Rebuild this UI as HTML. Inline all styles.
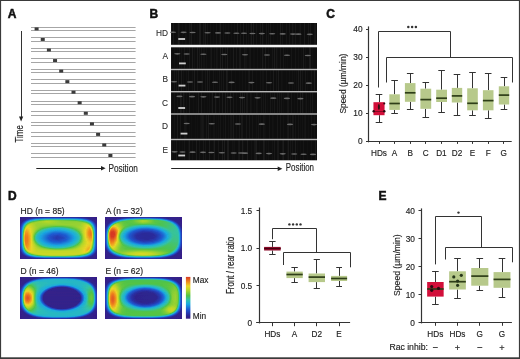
<!DOCTYPE html>
<html><head><meta charset="utf-8"><style>
html,body{margin:0;padding:0;background:#fff;}
svg{display:block;font-family:"Liberation Sans", sans-serif;will-change:transform;}
text{stroke:currentColor;stroke-width:0.15px;}
text.n{stroke:none;}
</style></head><body>
<svg width="520" height="359" viewBox="0 0 520 359">
<defs><filter id="bl" x="0" y="0" width="1" height="1"><feGaussianBlur stdDeviation="0.7"/></filter><filter id="sb" x="-0.1" y="-0.1" width="1.2" height="1.2"><feGaussianBlur stdDeviation="0.55"/></filter></defs>
<rect width="520" height="359" fill="#fff"/>
<text x="7.7" y="17.6" font-size="12" text-anchor="start" font-weight="bold" fill="#111" color="#111" style="stroke-width:0.5px">A</text>
<line x1="31" y1="27.5" x2="135.6" y2="27.5" stroke="#a6a6a6" stroke-width="1"/>
<line x1="31" y1="30.5" x2="135.6" y2="30.5" stroke="#a6a6a6" stroke-width="1"/>
<rect x="34.60" y="27.40" width="4.00" height="3.00" fill="#3a3a3a"/>
<line x1="31" y1="37.5" x2="135.6" y2="37.5" stroke="#a6a6a6" stroke-width="1"/>
<line x1="31" y1="41.5" x2="135.6" y2="41.5" stroke="#a6a6a6" stroke-width="1"/>
<rect x="40.75" y="37.95" width="4.00" height="3.00" fill="#3a3a3a"/>
<line x1="31" y1="48.5" x2="135.6" y2="48.5" stroke="#a6a6a6" stroke-width="1"/>
<line x1="31" y1="51.5" x2="135.6" y2="51.5" stroke="#a6a6a6" stroke-width="1"/>
<rect x="46.90" y="48.50" width="4.00" height="3.00" fill="#3a3a3a"/>
<line x1="31" y1="58.5" x2="135.6" y2="58.5" stroke="#a6a6a6" stroke-width="1"/>
<line x1="31" y1="62.5" x2="135.6" y2="62.5" stroke="#a6a6a6" stroke-width="1"/>
<rect x="53.05" y="59.05" width="4.00" height="3.00" fill="#3a3a3a"/>
<line x1="31" y1="69.5" x2="135.6" y2="69.5" stroke="#a6a6a6" stroke-width="1"/>
<line x1="31" y1="72.5" x2="135.6" y2="72.5" stroke="#a6a6a6" stroke-width="1"/>
<rect x="59.20" y="69.60" width="4.00" height="3.00" fill="#3a3a3a"/>
<line x1="31" y1="79.5" x2="135.6" y2="79.5" stroke="#a6a6a6" stroke-width="1"/>
<line x1="31" y1="83.5" x2="135.6" y2="83.5" stroke="#a6a6a6" stroke-width="1"/>
<rect x="65.35" y="80.15" width="4.00" height="3.00" fill="#3a3a3a"/>
<line x1="31" y1="90.5" x2="135.6" y2="90.5" stroke="#a6a6a6" stroke-width="1"/>
<line x1="31" y1="93.5" x2="135.6" y2="93.5" stroke="#a6a6a6" stroke-width="1"/>
<rect x="71.50" y="90.70" width="4.00" height="3.00" fill="#3a3a3a"/>
<line x1="31" y1="101.5" x2="135.6" y2="101.5" stroke="#a6a6a6" stroke-width="1"/>
<line x1="31" y1="104.5" x2="135.6" y2="104.5" stroke="#a6a6a6" stroke-width="1"/>
<rect x="77.65" y="101.25" width="4.00" height="3.00" fill="#3a3a3a"/>
<line x1="31" y1="111.5" x2="135.6" y2="111.5" stroke="#a6a6a6" stroke-width="1"/>
<line x1="31" y1="115.5" x2="135.6" y2="115.5" stroke="#a6a6a6" stroke-width="1"/>
<rect x="83.80" y="111.80" width="4.00" height="3.00" fill="#3a3a3a"/>
<line x1="31" y1="122.5" x2="135.6" y2="122.5" stroke="#a6a6a6" stroke-width="1"/>
<line x1="31" y1="125.5" x2="135.6" y2="125.5" stroke="#a6a6a6" stroke-width="1"/>
<rect x="89.95" y="122.35" width="4.00" height="3.00" fill="#3a3a3a"/>
<line x1="31" y1="132.5" x2="135.6" y2="132.5" stroke="#a6a6a6" stroke-width="1"/>
<line x1="31" y1="136.5" x2="135.6" y2="136.5" stroke="#a6a6a6" stroke-width="1"/>
<rect x="96.10" y="132.90" width="4.00" height="3.00" fill="#3a3a3a"/>
<line x1="31" y1="143.5" x2="135.6" y2="143.5" stroke="#a6a6a6" stroke-width="1"/>
<line x1="31" y1="146.5" x2="135.6" y2="146.5" stroke="#a6a6a6" stroke-width="1"/>
<rect x="102.25" y="143.45" width="4.00" height="3.00" fill="#3a3a3a"/>
<line x1="31" y1="153.5" x2="135.6" y2="153.5" stroke="#a6a6a6" stroke-width="1"/>
<line x1="31" y1="157.5" x2="135.6" y2="157.5" stroke="#a6a6a6" stroke-width="1"/>
<rect x="108.40" y="154.00" width="4.00" height="3.00" fill="#3a3a3a"/>
<line x1="21.5" y1="31" x2="21.5" y2="118" stroke="#333" stroke-width="1"/>
<polygon points="19.0,116.5 23.2,116.5 21.1,121.6" fill="#222"/>
<text transform="translate(23.0,133.8) rotate(-90)" x="0" y="0" font-size="10" text-anchor="middle" fill="#222" color="#222" textLength="17.3" lengthAdjust="spacingAndGlyphs">Time</text>
<line x1="36.3" y1="168.5" x2="101.5" y2="168.5" stroke="#222" stroke-width="1"/>
<polygon points="101,166.0 101,170.4 105.6,168.2" fill="#222"/>
<text x="108.5" y="171.6" font-size="10" text-anchor="start" font-weight="normal" fill="#222" color="#222" textLength="29.3" lengthAdjust="spacingAndGlyphs">Position</text>
<text x="149.4" y="17.6" font-size="12" text-anchor="start" font-weight="bold" fill="#111" color="#111" style="stroke-width:0.5px">B</text>
<rect x="171.00" y="23.00" width="146.00" height="137.30" fill="#0e0e0e"/>
<g fill="#fff">
<rect x="171" y="23" width="1" height="21.8" opacity="0.035"/>
<rect x="173" y="23" width="1" height="21.8" opacity="0.045"/>
<rect x="177" y="23" width="1" height="21.8" opacity="0.015"/>
<rect x="178" y="23" width="1" height="21.8" opacity="0.06"/>
<rect x="179" y="23" width="1" height="21.8" opacity="0.035"/>
<rect x="182" y="23" width="1" height="21.8" opacity="0.015"/>
<rect x="185" y="23" width="1" height="21.8" opacity="0.025"/>
<rect x="186" y="23" width="1" height="21.8" opacity="0.015"/>
<rect x="189" y="23" width="1" height="21.8" opacity="0.045"/>
<rect x="190" y="23" width="1" height="21.8" opacity="0.025"/>
<rect x="191" y="23" width="1" height="21.8" opacity="0.06"/>
<rect x="194" y="23" width="1" height="21.8" opacity="0.015"/>
<rect x="197" y="23" width="1" height="21.8" opacity="0.015"/>
<rect x="199" y="23" width="1" height="21.8" opacity="0.06"/>
<rect x="200" y="23" width="1" height="21.8" opacity="0.06"/>
<rect x="203" y="23" width="1" height="21.8" opacity="0.045"/>
<rect x="204" y="23" width="1" height="21.8" opacity="0.025"/>
<rect x="205" y="23" width="1" height="21.8" opacity="0.06"/>
<rect x="207" y="23" width="1" height="21.8" opacity="0.035"/>
<rect x="210" y="23" width="1" height="21.8" opacity="0.025"/>
<rect x="213" y="23" width="1" height="21.8" opacity="0.015"/>
<rect x="216" y="23" width="1" height="21.8" opacity="0.035"/>
<rect x="219" y="23" width="1" height="21.8" opacity="0.025"/>
<rect x="220" y="23" width="1" height="21.8" opacity="0.06"/>
<rect x="223" y="23" width="1" height="21.8" opacity="0.025"/>
<rect x="225" y="23" width="1" height="21.8" opacity="0.015"/>
<rect x="228" y="23" width="1" height="21.8" opacity="0.015"/>
<rect x="231" y="23" width="1" height="21.8" opacity="0.015"/>
<rect x="234" y="23" width="1" height="21.8" opacity="0.025"/>
<rect x="237" y="23" width="1" height="21.8" opacity="0.06"/>
<rect x="240" y="23" width="1" height="21.8" opacity="0.035"/>
<rect x="243" y="23" width="1" height="21.8" opacity="0.06"/>
<rect x="246" y="23" width="1" height="21.8" opacity="0.035"/>
<rect x="248" y="23" width="1" height="21.8" opacity="0.025"/>
<rect x="250" y="23" width="1" height="21.8" opacity="0.025"/>
<rect x="251" y="23" width="1" height="21.8" opacity="0.06"/>
<rect x="253" y="23" width="1" height="21.8" opacity="0.06"/>
<rect x="256" y="23" width="1" height="21.8" opacity="0.035"/>
<rect x="260" y="23" width="1" height="21.8" opacity="0.045"/>
<rect x="262" y="23" width="1" height="21.8" opacity="0.06"/>
<rect x="263" y="23" width="1" height="21.8" opacity="0.015"/>
<rect x="266" y="23" width="1" height="21.8" opacity="0.045"/>
<rect x="268" y="23" width="1" height="21.8" opacity="0.035"/>
<rect x="270" y="23" width="1" height="21.8" opacity="0.045"/>
<rect x="273" y="23" width="1" height="21.8" opacity="0.015"/>
<rect x="277" y="23" width="1" height="21.8" opacity="0.015"/>
<rect x="280" y="23" width="1" height="21.8" opacity="0.06"/>
<rect x="282" y="23" width="1" height="21.8" opacity="0.035"/>
<rect x="286" y="23" width="1" height="21.8" opacity="0.035"/>
<rect x="289" y="23" width="1" height="21.8" opacity="0.045"/>
<rect x="292" y="23" width="1" height="21.8" opacity="0.045"/>
<rect x="293" y="23" width="1" height="21.8" opacity="0.015"/>
<rect x="295" y="23" width="1" height="21.8" opacity="0.045"/>
<rect x="299" y="23" width="1" height="21.8" opacity="0.015"/>
<rect x="300" y="23" width="1" height="21.8" opacity="0.035"/>
<rect x="304" y="23" width="1" height="21.8" opacity="0.06"/>
<rect x="308" y="23" width="1" height="21.8" opacity="0.045"/>
<rect x="310" y="23" width="1" height="21.8" opacity="0.045"/>
<rect x="314" y="23" width="1" height="21.8" opacity="0.035"/>
<rect x="315" y="23" width="1" height="21.8" opacity="0.045"/>
<rect x="171" y="47.3" width="1" height="21.5" opacity="0.025"/>
<rect x="174" y="47.3" width="1" height="21.5" opacity="0.015"/>
<rect x="177" y="47.3" width="1" height="21.5" opacity="0.015"/>
<rect x="179" y="47.3" width="1" height="21.5" opacity="0.035"/>
<rect x="181" y="47.3" width="1" height="21.5" opacity="0.025"/>
<rect x="184" y="47.3" width="1" height="21.5" opacity="0.045"/>
<rect x="187" y="47.3" width="1" height="21.5" opacity="0.015"/>
<rect x="189" y="47.3" width="1" height="21.5" opacity="0.045"/>
<rect x="192" y="47.3" width="1" height="21.5" opacity="0.06"/>
<rect x="194" y="47.3" width="1" height="21.5" opacity="0.025"/>
<rect x="197" y="47.3" width="1" height="21.5" opacity="0.06"/>
<rect x="199" y="47.3" width="1" height="21.5" opacity="0.045"/>
<rect x="201" y="47.3" width="1" height="21.5" opacity="0.045"/>
<rect x="203" y="47.3" width="1" height="21.5" opacity="0.025"/>
<rect x="204" y="47.3" width="1" height="21.5" opacity="0.025"/>
<rect x="206" y="47.3" width="1" height="21.5" opacity="0.025"/>
<rect x="210" y="47.3" width="1" height="21.5" opacity="0.025"/>
<rect x="211" y="47.3" width="1" height="21.5" opacity="0.045"/>
<rect x="214" y="47.3" width="1" height="21.5" opacity="0.025"/>
<rect x="216" y="47.3" width="1" height="21.5" opacity="0.035"/>
<rect x="217" y="47.3" width="1" height="21.5" opacity="0.025"/>
<rect x="220" y="47.3" width="1" height="21.5" opacity="0.06"/>
<rect x="222" y="47.3" width="1" height="21.5" opacity="0.06"/>
<rect x="225" y="47.3" width="1" height="21.5" opacity="0.035"/>
<rect x="227" y="47.3" width="1" height="21.5" opacity="0.06"/>
<rect x="230" y="47.3" width="1" height="21.5" opacity="0.015"/>
<rect x="233" y="47.3" width="1" height="21.5" opacity="0.06"/>
<rect x="236" y="47.3" width="1" height="21.5" opacity="0.045"/>
<rect x="239" y="47.3" width="1" height="21.5" opacity="0.045"/>
<rect x="240" y="47.3" width="1" height="21.5" opacity="0.045"/>
<rect x="244" y="47.3" width="1" height="21.5" opacity="0.045"/>
<rect x="245" y="47.3" width="1" height="21.5" opacity="0.025"/>
<rect x="246" y="47.3" width="1" height="21.5" opacity="0.025"/>
<rect x="249" y="47.3" width="1" height="21.5" opacity="0.025"/>
<rect x="250" y="47.3" width="1" height="21.5" opacity="0.035"/>
<rect x="253" y="47.3" width="1" height="21.5" opacity="0.015"/>
<rect x="254" y="47.3" width="1" height="21.5" opacity="0.015"/>
<rect x="257" y="47.3" width="1" height="21.5" opacity="0.025"/>
<rect x="260" y="47.3" width="1" height="21.5" opacity="0.015"/>
<rect x="262" y="47.3" width="1" height="21.5" opacity="0.06"/>
<rect x="263" y="47.3" width="1" height="21.5" opacity="0.015"/>
<rect x="265" y="47.3" width="1" height="21.5" opacity="0.06"/>
<rect x="268" y="47.3" width="1" height="21.5" opacity="0.025"/>
<rect x="272" y="47.3" width="1" height="21.5" opacity="0.035"/>
<rect x="274" y="47.3" width="1" height="21.5" opacity="0.06"/>
<rect x="276" y="47.3" width="1" height="21.5" opacity="0.045"/>
<rect x="277" y="47.3" width="1" height="21.5" opacity="0.015"/>
<rect x="280" y="47.3" width="1" height="21.5" opacity="0.045"/>
<rect x="283" y="47.3" width="1" height="21.5" opacity="0.045"/>
<rect x="285" y="47.3" width="1" height="21.5" opacity="0.015"/>
<rect x="287" y="47.3" width="1" height="21.5" opacity="0.015"/>
<rect x="291" y="47.3" width="1" height="21.5" opacity="0.035"/>
<rect x="295" y="47.3" width="1" height="21.5" opacity="0.035"/>
<rect x="298" y="47.3" width="1" height="21.5" opacity="0.025"/>
<rect x="301" y="47.3" width="1" height="21.5" opacity="0.015"/>
<rect x="303" y="47.3" width="1" height="21.5" opacity="0.06"/>
<rect x="305" y="47.3" width="1" height="21.5" opacity="0.025"/>
<rect x="309" y="47.3" width="1" height="21.5" opacity="0.06"/>
<rect x="310" y="47.3" width="1" height="21.5" opacity="0.06"/>
<rect x="312" y="47.3" width="1" height="21.5" opacity="0.015"/>
<rect x="171" y="70.2" width="1" height="20.8" opacity="0.035"/>
<rect x="174" y="70.2" width="1" height="20.8" opacity="0.035"/>
<rect x="176" y="70.2" width="1" height="20.8" opacity="0.035"/>
<rect x="178" y="70.2" width="1" height="20.8" opacity="0.06"/>
<rect x="181" y="70.2" width="1" height="20.8" opacity="0.06"/>
<rect x="183" y="70.2" width="1" height="20.8" opacity="0.025"/>
<rect x="186" y="70.2" width="1" height="20.8" opacity="0.025"/>
<rect x="188" y="70.2" width="1" height="20.8" opacity="0.045"/>
<rect x="192" y="70.2" width="1" height="20.8" opacity="0.025"/>
<rect x="194" y="70.2" width="1" height="20.8" opacity="0.06"/>
<rect x="197" y="70.2" width="1" height="20.8" opacity="0.035"/>
<rect x="201" y="70.2" width="1" height="20.8" opacity="0.015"/>
<rect x="202" y="70.2" width="1" height="20.8" opacity="0.035"/>
<rect x="205" y="70.2" width="1" height="20.8" opacity="0.035"/>
<rect x="207" y="70.2" width="1" height="20.8" opacity="0.06"/>
<rect x="209" y="70.2" width="1" height="20.8" opacity="0.045"/>
<rect x="213" y="70.2" width="1" height="20.8" opacity="0.035"/>
<rect x="215" y="70.2" width="1" height="20.8" opacity="0.015"/>
<rect x="217" y="70.2" width="1" height="20.8" opacity="0.015"/>
<rect x="219" y="70.2" width="1" height="20.8" opacity="0.045"/>
<rect x="221" y="70.2" width="1" height="20.8" opacity="0.035"/>
<rect x="223" y="70.2" width="1" height="20.8" opacity="0.045"/>
<rect x="226" y="70.2" width="1" height="20.8" opacity="0.06"/>
<rect x="227" y="70.2" width="1" height="20.8" opacity="0.045"/>
<rect x="231" y="70.2" width="1" height="20.8" opacity="0.035"/>
<rect x="235" y="70.2" width="1" height="20.8" opacity="0.015"/>
<rect x="239" y="70.2" width="1" height="20.8" opacity="0.015"/>
<rect x="242" y="70.2" width="1" height="20.8" opacity="0.025"/>
<rect x="245" y="70.2" width="1" height="20.8" opacity="0.025"/>
<rect x="248" y="70.2" width="1" height="20.8" opacity="0.035"/>
<rect x="249" y="70.2" width="1" height="20.8" opacity="0.045"/>
<rect x="252" y="70.2" width="1" height="20.8" opacity="0.045"/>
<rect x="256" y="70.2" width="1" height="20.8" opacity="0.015"/>
<rect x="260" y="70.2" width="1" height="20.8" opacity="0.025"/>
<rect x="262" y="70.2" width="1" height="20.8" opacity="0.025"/>
<rect x="263" y="70.2" width="1" height="20.8" opacity="0.025"/>
<rect x="266" y="70.2" width="1" height="20.8" opacity="0.045"/>
<rect x="270" y="70.2" width="1" height="20.8" opacity="0.025"/>
<rect x="273" y="70.2" width="1" height="20.8" opacity="0.06"/>
<rect x="276" y="70.2" width="1" height="20.8" opacity="0.035"/>
<rect x="278" y="70.2" width="1" height="20.8" opacity="0.06"/>
<rect x="281" y="70.2" width="1" height="20.8" opacity="0.025"/>
<rect x="282" y="70.2" width="1" height="20.8" opacity="0.015"/>
<rect x="286" y="70.2" width="1" height="20.8" opacity="0.015"/>
<rect x="289" y="70.2" width="1" height="20.8" opacity="0.025"/>
<rect x="292" y="70.2" width="1" height="20.8" opacity="0.025"/>
<rect x="294" y="70.2" width="1" height="20.8" opacity="0.015"/>
<rect x="296" y="70.2" width="1" height="20.8" opacity="0.025"/>
<rect x="298" y="70.2" width="1" height="20.8" opacity="0.06"/>
<rect x="300" y="70.2" width="1" height="20.8" opacity="0.06"/>
<rect x="302" y="70.2" width="1" height="20.8" opacity="0.035"/>
<rect x="305" y="70.2" width="1" height="20.8" opacity="0.045"/>
<rect x="307" y="70.2" width="1" height="20.8" opacity="0.015"/>
<rect x="311" y="70.2" width="1" height="20.8" opacity="0.035"/>
<rect x="314" y="70.2" width="1" height="20.8" opacity="0.06"/>
<rect x="171" y="92.4" width="1" height="20.9" opacity="0.045"/>
<rect x="174" y="92.4" width="1" height="20.9" opacity="0.025"/>
<rect x="177" y="92.4" width="1" height="20.9" opacity="0.025"/>
<rect x="180" y="92.4" width="1" height="20.9" opacity="0.06"/>
<rect x="181" y="92.4" width="1" height="20.9" opacity="0.045"/>
<rect x="183" y="92.4" width="1" height="20.9" opacity="0.06"/>
<rect x="184" y="92.4" width="1" height="20.9" opacity="0.025"/>
<rect x="186" y="92.4" width="1" height="20.9" opacity="0.025"/>
<rect x="189" y="92.4" width="1" height="20.9" opacity="0.06"/>
<rect x="193" y="92.4" width="1" height="20.9" opacity="0.015"/>
<rect x="196" y="92.4" width="1" height="20.9" opacity="0.015"/>
<rect x="198" y="92.4" width="1" height="20.9" opacity="0.06"/>
<rect x="201" y="92.4" width="1" height="20.9" opacity="0.06"/>
<rect x="204" y="92.4" width="1" height="20.9" opacity="0.015"/>
<rect x="207" y="92.4" width="1" height="20.9" opacity="0.015"/>
<rect x="209" y="92.4" width="1" height="20.9" opacity="0.025"/>
<rect x="211" y="92.4" width="1" height="20.9" opacity="0.015"/>
<rect x="212" y="92.4" width="1" height="20.9" opacity="0.06"/>
<rect x="215" y="92.4" width="1" height="20.9" opacity="0.06"/>
<rect x="216" y="92.4" width="1" height="20.9" opacity="0.015"/>
<rect x="219" y="92.4" width="1" height="20.9" opacity="0.035"/>
<rect x="222" y="92.4" width="1" height="20.9" opacity="0.06"/>
<rect x="225" y="92.4" width="1" height="20.9" opacity="0.06"/>
<rect x="227" y="92.4" width="1" height="20.9" opacity="0.035"/>
<rect x="230" y="92.4" width="1" height="20.9" opacity="0.06"/>
<rect x="233" y="92.4" width="1" height="20.9" opacity="0.045"/>
<rect x="236" y="92.4" width="1" height="20.9" opacity="0.025"/>
<rect x="240" y="92.4" width="1" height="20.9" opacity="0.06"/>
<rect x="242" y="92.4" width="1" height="20.9" opacity="0.06"/>
<rect x="244" y="92.4" width="1" height="20.9" opacity="0.045"/>
<rect x="246" y="92.4" width="1" height="20.9" opacity="0.045"/>
<rect x="247" y="92.4" width="1" height="20.9" opacity="0.045"/>
<rect x="250" y="92.4" width="1" height="20.9" opacity="0.035"/>
<rect x="251" y="92.4" width="1" height="20.9" opacity="0.025"/>
<rect x="254" y="92.4" width="1" height="20.9" opacity="0.015"/>
<rect x="256" y="92.4" width="1" height="20.9" opacity="0.035"/>
<rect x="257" y="92.4" width="1" height="20.9" opacity="0.025"/>
<rect x="261" y="92.4" width="1" height="20.9" opacity="0.035"/>
<rect x="263" y="92.4" width="1" height="20.9" opacity="0.035"/>
<rect x="265" y="92.4" width="1" height="20.9" opacity="0.045"/>
<rect x="267" y="92.4" width="1" height="20.9" opacity="0.015"/>
<rect x="270" y="92.4" width="1" height="20.9" opacity="0.045"/>
<rect x="272" y="92.4" width="1" height="20.9" opacity="0.025"/>
<rect x="274" y="92.4" width="1" height="20.9" opacity="0.045"/>
<rect x="277" y="92.4" width="1" height="20.9" opacity="0.045"/>
<rect x="279" y="92.4" width="1" height="20.9" opacity="0.045"/>
<rect x="281" y="92.4" width="1" height="20.9" opacity="0.035"/>
<rect x="283" y="92.4" width="1" height="20.9" opacity="0.015"/>
<rect x="287" y="92.4" width="1" height="20.9" opacity="0.035"/>
<rect x="288" y="92.4" width="1" height="20.9" opacity="0.035"/>
<rect x="291" y="92.4" width="1" height="20.9" opacity="0.045"/>
<rect x="294" y="92.4" width="1" height="20.9" opacity="0.015"/>
<rect x="297" y="92.4" width="1" height="20.9" opacity="0.035"/>
<rect x="300" y="92.4" width="1" height="20.9" opacity="0.06"/>
<rect x="302" y="92.4" width="1" height="20.9" opacity="0.06"/>
<rect x="303" y="92.4" width="1" height="20.9" opacity="0.015"/>
<rect x="305" y="92.4" width="1" height="20.9" opacity="0.015"/>
<rect x="306" y="92.4" width="1" height="20.9" opacity="0.035"/>
<rect x="308" y="92.4" width="1" height="20.9" opacity="0.015"/>
<rect x="310" y="92.4" width="1" height="20.9" opacity="0.035"/>
<rect x="312" y="92.4" width="1" height="20.9" opacity="0.045"/>
<rect x="171" y="114.7" width="1" height="24.1" opacity="0.035"/>
<rect x="174" y="114.7" width="1" height="24.1" opacity="0.025"/>
<rect x="177" y="114.7" width="1" height="24.1" opacity="0.06"/>
<rect x="180" y="114.7" width="1" height="24.1" opacity="0.045"/>
<rect x="184" y="114.7" width="1" height="24.1" opacity="0.035"/>
<rect x="185" y="114.7" width="1" height="24.1" opacity="0.035"/>
<rect x="186" y="114.7" width="1" height="24.1" opacity="0.025"/>
<rect x="189" y="114.7" width="1" height="24.1" opacity="0.015"/>
<rect x="191" y="114.7" width="1" height="24.1" opacity="0.015"/>
<rect x="195" y="114.7" width="1" height="24.1" opacity="0.015"/>
<rect x="197" y="114.7" width="1" height="24.1" opacity="0.015"/>
<rect x="200" y="114.7" width="1" height="24.1" opacity="0.025"/>
<rect x="201" y="114.7" width="1" height="24.1" opacity="0.035"/>
<rect x="202" y="114.7" width="1" height="24.1" opacity="0.045"/>
<rect x="203" y="114.7" width="1" height="24.1" opacity="0.035"/>
<rect x="206" y="114.7" width="1" height="24.1" opacity="0.045"/>
<rect x="208" y="114.7" width="1" height="24.1" opacity="0.06"/>
<rect x="210" y="114.7" width="1" height="24.1" opacity="0.015"/>
<rect x="213" y="114.7" width="1" height="24.1" opacity="0.025"/>
<rect x="214" y="114.7" width="1" height="24.1" opacity="0.025"/>
<rect x="216" y="114.7" width="1" height="24.1" opacity="0.015"/>
<rect x="218" y="114.7" width="1" height="24.1" opacity="0.025"/>
<rect x="220" y="114.7" width="1" height="24.1" opacity="0.035"/>
<rect x="223" y="114.7" width="1" height="24.1" opacity="0.025"/>
<rect x="225" y="114.7" width="1" height="24.1" opacity="0.045"/>
<rect x="228" y="114.7" width="1" height="24.1" opacity="0.025"/>
<rect x="230" y="114.7" width="1" height="24.1" opacity="0.035"/>
<rect x="231" y="114.7" width="1" height="24.1" opacity="0.035"/>
<rect x="232" y="114.7" width="1" height="24.1" opacity="0.015"/>
<rect x="233" y="114.7" width="1" height="24.1" opacity="0.06"/>
<rect x="236" y="114.7" width="1" height="24.1" opacity="0.025"/>
<rect x="239" y="114.7" width="1" height="24.1" opacity="0.045"/>
<rect x="241" y="114.7" width="1" height="24.1" opacity="0.045"/>
<rect x="242" y="114.7" width="1" height="24.1" opacity="0.045"/>
<rect x="246" y="114.7" width="1" height="24.1" opacity="0.045"/>
<rect x="249" y="114.7" width="1" height="24.1" opacity="0.045"/>
<rect x="252" y="114.7" width="1" height="24.1" opacity="0.035"/>
<rect x="256" y="114.7" width="1" height="24.1" opacity="0.025"/>
<rect x="258" y="114.7" width="1" height="24.1" opacity="0.035"/>
<rect x="260" y="114.7" width="1" height="24.1" opacity="0.025"/>
<rect x="263" y="114.7" width="1" height="24.1" opacity="0.035"/>
<rect x="264" y="114.7" width="1" height="24.1" opacity="0.025"/>
<rect x="265" y="114.7" width="1" height="24.1" opacity="0.015"/>
<rect x="269" y="114.7" width="1" height="24.1" opacity="0.035"/>
<rect x="272" y="114.7" width="1" height="24.1" opacity="0.025"/>
<rect x="273" y="114.7" width="1" height="24.1" opacity="0.015"/>
<rect x="277" y="114.7" width="1" height="24.1" opacity="0.045"/>
<rect x="280" y="114.7" width="1" height="24.1" opacity="0.035"/>
<rect x="283" y="114.7" width="1" height="24.1" opacity="0.025"/>
<rect x="287" y="114.7" width="1" height="24.1" opacity="0.035"/>
<rect x="288" y="114.7" width="1" height="24.1" opacity="0.045"/>
<rect x="290" y="114.7" width="1" height="24.1" opacity="0.025"/>
<rect x="292" y="114.7" width="1" height="24.1" opacity="0.045"/>
<rect x="293" y="114.7" width="1" height="24.1" opacity="0.035"/>
<rect x="295" y="114.7" width="1" height="24.1" opacity="0.035"/>
<rect x="298" y="114.7" width="1" height="24.1" opacity="0.035"/>
<rect x="300" y="114.7" width="1" height="24.1" opacity="0.015"/>
<rect x="302" y="114.7" width="1" height="24.1" opacity="0.025"/>
<rect x="304" y="114.7" width="1" height="24.1" opacity="0.025"/>
<rect x="305" y="114.7" width="1" height="24.1" opacity="0.035"/>
<rect x="308" y="114.7" width="1" height="24.1" opacity="0.015"/>
<rect x="311" y="114.7" width="1" height="24.1" opacity="0.035"/>
<rect x="314" y="114.7" width="1" height="24.1" opacity="0.025"/>
<rect x="171" y="140.2" width="1" height="20.1" opacity="0.06"/>
<rect x="172" y="140.2" width="1" height="20.1" opacity="0.015"/>
<rect x="174" y="140.2" width="1" height="20.1" opacity="0.015"/>
<rect x="176" y="140.2" width="1" height="20.1" opacity="0.045"/>
<rect x="179" y="140.2" width="1" height="20.1" opacity="0.015"/>
<rect x="182" y="140.2" width="1" height="20.1" opacity="0.015"/>
<rect x="184" y="140.2" width="1" height="20.1" opacity="0.035"/>
<rect x="188" y="140.2" width="1" height="20.1" opacity="0.025"/>
<rect x="189" y="140.2" width="1" height="20.1" opacity="0.06"/>
<rect x="192" y="140.2" width="1" height="20.1" opacity="0.025"/>
<rect x="196" y="140.2" width="1" height="20.1" opacity="0.06"/>
<rect x="199" y="140.2" width="1" height="20.1" opacity="0.035"/>
<rect x="203" y="140.2" width="1" height="20.1" opacity="0.045"/>
<rect x="205" y="140.2" width="1" height="20.1" opacity="0.035"/>
<rect x="209" y="140.2" width="1" height="20.1" opacity="0.06"/>
<rect x="213" y="140.2" width="1" height="20.1" opacity="0.025"/>
<rect x="214" y="140.2" width="1" height="20.1" opacity="0.06"/>
<rect x="218" y="140.2" width="1" height="20.1" opacity="0.045"/>
<rect x="222" y="140.2" width="1" height="20.1" opacity="0.06"/>
<rect x="224" y="140.2" width="1" height="20.1" opacity="0.06"/>
<rect x="227" y="140.2" width="1" height="20.1" opacity="0.06"/>
<rect x="228" y="140.2" width="1" height="20.1" opacity="0.06"/>
<rect x="232" y="140.2" width="1" height="20.1" opacity="0.025"/>
<rect x="233" y="140.2" width="1" height="20.1" opacity="0.015"/>
<rect x="234" y="140.2" width="1" height="20.1" opacity="0.025"/>
<rect x="238" y="140.2" width="1" height="20.1" opacity="0.035"/>
<rect x="239" y="140.2" width="1" height="20.1" opacity="0.045"/>
<rect x="242" y="140.2" width="1" height="20.1" opacity="0.06"/>
<rect x="243" y="140.2" width="1" height="20.1" opacity="0.015"/>
<rect x="247" y="140.2" width="1" height="20.1" opacity="0.06"/>
<rect x="251" y="140.2" width="1" height="20.1" opacity="0.025"/>
<rect x="254" y="140.2" width="1" height="20.1" opacity="0.035"/>
<rect x="255" y="140.2" width="1" height="20.1" opacity="0.045"/>
<rect x="256" y="140.2" width="1" height="20.1" opacity="0.06"/>
<rect x="259" y="140.2" width="1" height="20.1" opacity="0.015"/>
<rect x="263" y="140.2" width="1" height="20.1" opacity="0.06"/>
<rect x="264" y="140.2" width="1" height="20.1" opacity="0.045"/>
<rect x="266" y="140.2" width="1" height="20.1" opacity="0.015"/>
<rect x="268" y="140.2" width="1" height="20.1" opacity="0.025"/>
<rect x="272" y="140.2" width="1" height="20.1" opacity="0.025"/>
<rect x="274" y="140.2" width="1" height="20.1" opacity="0.045"/>
<rect x="277" y="140.2" width="1" height="20.1" opacity="0.045"/>
<rect x="278" y="140.2" width="1" height="20.1" opacity="0.045"/>
<rect x="282" y="140.2" width="1" height="20.1" opacity="0.035"/>
<rect x="283" y="140.2" width="1" height="20.1" opacity="0.06"/>
<rect x="287" y="140.2" width="1" height="20.1" opacity="0.025"/>
<rect x="288" y="140.2" width="1" height="20.1" opacity="0.06"/>
<rect x="290" y="140.2" width="1" height="20.1" opacity="0.035"/>
<rect x="292" y="140.2" width="1" height="20.1" opacity="0.035"/>
<rect x="295" y="140.2" width="1" height="20.1" opacity="0.06"/>
<rect x="297" y="140.2" width="1" height="20.1" opacity="0.015"/>
<rect x="300" y="140.2" width="1" height="20.1" opacity="0.015"/>
<rect x="303" y="140.2" width="1" height="20.1" opacity="0.035"/>
<rect x="307" y="140.2" width="1" height="20.1" opacity="0.015"/>
<rect x="311" y="140.2" width="1" height="20.1" opacity="0.025"/>
<rect x="315" y="140.2" width="1" height="20.1" opacity="0.045"/>
</g>
<rect x="171.00" y="44.80" width="146.00" height="2.50" fill="#f4f4f4"/>
<rect x="171.00" y="68.80" width="146.00" height="1.40" fill="#b8b8b8"/>
<rect x="171.00" y="91.00" width="146.00" height="1.40" fill="#b8b8b8"/>
<rect x="171.00" y="113.30" width="146.00" height="1.40" fill="#b8b8b8"/>
<rect x="171.00" y="138.80" width="146.00" height="1.40" fill="#b8b8b8"/>
<text x="168.1" y="35.6" font-size="8.3" text-anchor="end" font-weight="normal" fill="#2a2a2a" color="#2a2a2a" style="stroke-width:0.1px">HD</text>
<text x="168.1" y="58.7" font-size="8.3" text-anchor="end" font-weight="normal" fill="#2a2a2a" color="#2a2a2a" style="stroke-width:0.1px">A</text>
<text x="168.1" y="82.2" font-size="8.3" text-anchor="end" font-weight="normal" fill="#2a2a2a" color="#2a2a2a" style="stroke-width:0.1px">B</text>
<text x="168.1" y="106.1" font-size="8.3" text-anchor="end" font-weight="normal" fill="#2a2a2a" color="#2a2a2a" style="stroke-width:0.1px">C</text>
<text x="168.1" y="129.1" font-size="8.3" text-anchor="end" font-weight="normal" fill="#2a2a2a" color="#2a2a2a" style="stroke-width:0.1px">D</text>
<text x="168.1" y="152.9" font-size="8.3" text-anchor="end" font-weight="normal" fill="#2a2a2a" color="#2a2a2a" style="stroke-width:0.1px">E</text>
<g filter="url(#sb)">
<rect x="178.30" y="38.10" width="6.80" height="1.80" fill="#cfcfcf"/>
<rect x="179.00" y="62.50" width="6.80" height="1.80" fill="#cfcfcf"/>
<rect x="178.60" y="84.70" width="6.80" height="1.80" fill="#cfcfcf"/>
<rect x="178.30" y="107.10" width="6.80" height="1.80" fill="#cfcfcf"/>
<rect x="180.60" y="132.70" width="6.80" height="1.80" fill="#cfcfcf"/>
<rect x="178.30" y="154.60" width="6.80" height="1.80" fill="#cfcfcf"/>
</g>
<g filter="url(#sb)">
<ellipse cx="173" cy="32.20" rx="3.2" ry="0.8" fill="#6a6a6a"/>
<ellipse cx="183.6" cy="32.37" rx="3.2" ry="0.8" fill="#6a6a6a"/>
<ellipse cx="192.6" cy="32.51" rx="3.2" ry="0.8" fill="#6a6a6a"/>
<ellipse cx="207.6" cy="32.74" rx="3.2" ry="0.8" fill="#6a6a6a"/>
<ellipse cx="218" cy="32.91" rx="3.2" ry="0.8" fill="#6a6a6a"/>
<ellipse cx="227.4" cy="33.05" rx="3.2" ry="0.8" fill="#6a6a6a"/>
<ellipse cx="236.4" cy="33.20" rx="3.2" ry="0.8" fill="#6a6a6a"/>
<ellipse cx="244" cy="33.32" rx="3.2" ry="0.8" fill="#6a6a6a"/>
<ellipse cx="252.4" cy="33.45" rx="3.2" ry="0.8" fill="#6a6a6a"/>
<ellipse cx="261.8" cy="33.60" rx="3.2" ry="0.8" fill="#6a6a6a"/>
<ellipse cx="272.2" cy="33.76" rx="3.2" ry="0.8" fill="#6a6a6a"/>
<ellipse cx="282.7" cy="33.92" rx="3.2" ry="0.8" fill="#6a6a6a"/>
<ellipse cx="293" cy="34.09" rx="3.2" ry="0.8" fill="#6a6a6a"/>
<ellipse cx="298.4" cy="34.17" rx="3.2" ry="0.8" fill="#6a6a6a"/>
<ellipse cx="309.8" cy="34.35" rx="3.2" ry="0.8" fill="#6a6a6a"/>
<ellipse cx="177.3" cy="53.86" rx="3.2" ry="0.8" fill="#6a6a6a"/>
<ellipse cx="186.7" cy="53.98" rx="3.2" ry="0.8" fill="#6a6a6a"/>
<ellipse cx="203.4" cy="54.19" rx="3.2" ry="0.8" fill="#6a6a6a"/>
<ellipse cx="224.3" cy="54.46" rx="3.2" ry="0.8" fill="#6a6a6a"/>
<ellipse cx="245" cy="54.73" rx="3.2" ry="0.8" fill="#6a6a6a"/>
<ellipse cx="267" cy="55.01" rx="3.2" ry="0.8" fill="#6a6a6a"/>
<ellipse cx="287" cy="55.27" rx="3.2" ry="0.8" fill="#6a6a6a"/>
<ellipse cx="307.8" cy="55.53" rx="3.2" ry="0.8" fill="#6a6a6a"/>
<ellipse cx="174" cy="81.81" rx="3.2" ry="0.8" fill="#6a6a6a"/>
<ellipse cx="190" cy="81.97" rx="3.2" ry="0.8" fill="#6a6a6a"/>
<ellipse cx="200" cy="82.07" rx="3.2" ry="0.8" fill="#6a6a6a"/>
<ellipse cx="215" cy="82.22" rx="3.2" ry="0.8" fill="#6a6a6a"/>
<ellipse cx="231.6" cy="82.39" rx="3.2" ry="0.8" fill="#6a6a6a"/>
<ellipse cx="251.4" cy="82.58" rx="3.2" ry="0.8" fill="#6a6a6a"/>
<ellipse cx="269" cy="82.76" rx="3.2" ry="0.8" fill="#6a6a6a"/>
<ellipse cx="291" cy="82.98" rx="3.2" ry="0.8" fill="#6a6a6a"/>
<ellipse cx="308.8" cy="83.16" rx="3.2" ry="0.8" fill="#6a6a6a"/>
<ellipse cx="179.4" cy="96.42" rx="3.2" ry="0.8" fill="#6a6a6a"/>
<ellipse cx="192" cy="96.65" rx="3.2" ry="0.8" fill="#6a6a6a"/>
<ellipse cx="203.4" cy="96.86" rx="3.2" ry="0.8" fill="#6a6a6a"/>
<ellipse cx="217" cy="97.12" rx="3.2" ry="0.8" fill="#6a6a6a"/>
<ellipse cx="229.5" cy="97.35" rx="3.2" ry="0.8" fill="#6a6a6a"/>
<ellipse cx="242" cy="97.58" rx="3.2" ry="0.8" fill="#6a6a6a"/>
<ellipse cx="257.6" cy="97.87" rx="3.2" ry="0.8" fill="#6a6a6a"/>
<ellipse cx="273.3" cy="98.16" rx="3.2" ry="0.8" fill="#6a6a6a"/>
<ellipse cx="286.9" cy="98.42" rx="3.2" ry="0.8" fill="#6a6a6a"/>
<ellipse cx="300.4" cy="98.67" rx="3.2" ry="0.8" fill="#6a6a6a"/>
<ellipse cx="186.7" cy="123.52" rx="3.2" ry="0.8" fill="#6a6a6a"/>
<ellipse cx="211.8" cy="123.73" rx="3.2" ry="0.8" fill="#6a6a6a"/>
<ellipse cx="237.9" cy="123.96" rx="3.2" ry="0.8" fill="#6a6a6a"/>
<ellipse cx="261.8" cy="124.16" rx="3.2" ry="0.8" fill="#6a6a6a"/>
<ellipse cx="290" cy="124.40" rx="3.2" ry="0.8" fill="#6a6a6a"/>
<ellipse cx="314" cy="124.61" rx="3.2" ry="0.8" fill="#6a6a6a"/>
<ellipse cx="174.6" cy="151.83" rx="3.2" ry="0.8" fill="#6a6a6a"/>
<ellipse cx="182.5" cy="151.98" rx="3.2" ry="0.8" fill="#6a6a6a"/>
<ellipse cx="192.6" cy="152.16" rx="3.2" ry="0.8" fill="#6a6a6a"/>
<ellipse cx="203" cy="152.36" rx="3.2" ry="0.8" fill="#6a6a6a"/>
<ellipse cx="211.4" cy="152.51" rx="3.2" ry="0.8" fill="#6a6a6a"/>
<ellipse cx="221.8" cy="152.71" rx="3.2" ry="0.8" fill="#6a6a6a"/>
<ellipse cx="233.7" cy="152.93" rx="3.2" ry="0.8" fill="#6a6a6a"/>
<ellipse cx="241" cy="153.06" rx="3.2" ry="0.8" fill="#6a6a6a"/>
<ellipse cx="245" cy="153.14" rx="3.2" ry="0.8" fill="#6a6a6a"/>
<ellipse cx="258.7" cy="153.39" rx="3.2" ry="0.8" fill="#6a6a6a"/>
<ellipse cx="269" cy="153.58" rx="3.2" ry="0.8" fill="#6a6a6a"/>
<ellipse cx="282.7" cy="153.84" rx="3.2" ry="0.8" fill="#6a6a6a"/>
<ellipse cx="294.2" cy="154.05" rx="3.2" ry="0.8" fill="#6a6a6a"/>
<ellipse cx="303.6" cy="154.23" rx="3.2" ry="0.8" fill="#6a6a6a"/>
<ellipse cx="313" cy="154.40" rx="3.2" ry="0.8" fill="#6a6a6a"/>
</g>
<line x1="171.2" y1="168.5" x2="278" y2="168.5" stroke="#222" stroke-width="1"/>
<polygon points="277.7,166.5 277.7,170.9 282.4,168.7" fill="#222"/>
<text x="285.8" y="171.0" font-size="10" text-anchor="start" font-weight="normal" fill="#222" color="#222" textLength="28.2" lengthAdjust="spacingAndGlyphs">Position</text>
<text x="326.2" y="17.6" font-size="12" text-anchor="start" font-weight="bold" fill="#111" color="#111" style="stroke-width:0.5px">C</text>
<line x1="368.5" y1="26.4" x2="368.5" y2="142.3" stroke="#333" stroke-width="1.2"/>
<line x1="366.3" y1="141.5" x2="511.7" y2="141.5" stroke="#333" stroke-width="1.2"/>
<line x1="366.0" y1="141.5" x2="368.9" y2="141.5" stroke="#333" stroke-width="1"/>
<text x="362.6" y="143.8" font-size="8.3" text-anchor="end" font-weight="normal" fill="#222" color="#222">0</text>
<line x1="366.0" y1="113.5" x2="368.9" y2="113.5" stroke="#333" stroke-width="1"/>
<text x="362.6" y="115.8" font-size="8.3" text-anchor="end" font-weight="normal" fill="#222" color="#222">10</text>
<line x1="366.0" y1="85.5" x2="368.9" y2="85.5" stroke="#333" stroke-width="1"/>
<text x="362.6" y="87.8" font-size="8.3" text-anchor="end" font-weight="normal" fill="#222" color="#222">20</text>
<line x1="366.0" y1="57.5" x2="368.9" y2="57.5" stroke="#333" stroke-width="1"/>
<text x="362.6" y="59.8" font-size="8.3" text-anchor="end" font-weight="normal" fill="#222" color="#222">30</text>
<line x1="366.0" y1="29.5" x2="368.9" y2="29.5" stroke="#333" stroke-width="1"/>
<text x="362.6" y="31.8" font-size="8.3" text-anchor="end" font-weight="normal" fill="#222" color="#222">40</text>
<line x1="379.5" y1="141.7" x2="379.5" y2="143.9" stroke="#333" stroke-width="1"/>
<line x1="394.5" y1="141.7" x2="394.5" y2="143.9" stroke="#333" stroke-width="1"/>
<line x1="410.5" y1="141.7" x2="410.5" y2="143.9" stroke="#333" stroke-width="1"/>
<line x1="425.5" y1="141.7" x2="425.5" y2="143.9" stroke="#333" stroke-width="1"/>
<line x1="441.5" y1="141.7" x2="441.5" y2="143.9" stroke="#333" stroke-width="1"/>
<line x1="457.5" y1="141.7" x2="457.5" y2="143.9" stroke="#333" stroke-width="1"/>
<line x1="472.5" y1="141.7" x2="472.5" y2="143.9" stroke="#333" stroke-width="1"/>
<line x1="488.5" y1="141.7" x2="488.5" y2="143.9" stroke="#333" stroke-width="1"/>
<line x1="503.5" y1="141.7" x2="503.5" y2="143.9" stroke="#333" stroke-width="1"/>
<text x="379" y="155.9" font-size="8.2" text-anchor="middle" font-weight="normal" fill="#222" color="#222">HDs</text>
<text x="394.6" y="155.9" font-size="8.2" text-anchor="middle" font-weight="normal" fill="#222" color="#222">A</text>
<text x="410.2" y="155.9" font-size="8.2" text-anchor="middle" font-weight="normal" fill="#222" color="#222">B</text>
<text x="425.8" y="155.9" font-size="8.2" text-anchor="middle" font-weight="normal" fill="#222" color="#222">C</text>
<text x="441.4" y="155.9" font-size="8.2" text-anchor="middle" font-weight="normal" fill="#222" color="#222">D1</text>
<text x="457" y="155.9" font-size="8.2" text-anchor="middle" font-weight="normal" fill="#222" color="#222">D2</text>
<text x="472.6" y="155.9" font-size="8.2" text-anchor="middle" font-weight="normal" fill="#222" color="#222">E</text>
<text x="488.2" y="155.9" font-size="8.2" text-anchor="middle" font-weight="normal" fill="#222" color="#222">F</text>
<text x="503.8" y="155.9" font-size="8.2" text-anchor="middle" font-weight="normal" fill="#222" color="#222">G</text>
<line x1="379.5" y1="94.5" x2="379.5" y2="102.2" stroke="#333" stroke-width="1"/>
<line x1="379.5" y1="115.2" x2="379.5" y2="122.3" stroke="#333" stroke-width="1"/>
<line x1="375.7" y1="94.5" x2="382.3" y2="94.5" stroke="#333" stroke-width="1"/>
<line x1="375.7" y1="122.5" x2="382.3" y2="122.5" stroke="#333" stroke-width="1"/>
<rect x="373.45" y="102.20" width="11.10" height="13.00" fill="#d20f3a"/>
<line x1="373.45" y1="111.5" x2="384.55" y2="111.5" stroke="#8a0a22" stroke-width="1.0"/>
<line x1="394.5" y1="80.6" x2="394.5" y2="94.3" stroke="#333" stroke-width="1"/>
<line x1="394.5" y1="109.9" x2="394.5" y2="113.9" stroke="#333" stroke-width="1"/>
<line x1="391.3" y1="80.5" x2="397.90000000000003" y2="80.5" stroke="#333" stroke-width="1"/>
<line x1="391.3" y1="113.5" x2="397.90000000000003" y2="113.5" stroke="#333" stroke-width="1"/>
<rect x="389.35" y="94.30" width="10.50" height="15.60" fill="#b7c98b"/>
<line x1="389.35" y1="103.5" x2="399.85" y2="103.5" stroke="#2e3e18" stroke-width="1.7"/>
<line x1="410.5" y1="73.4" x2="410.5" y2="83.1" stroke="#333" stroke-width="1"/>
<line x1="410.5" y1="101.8" x2="410.5" y2="109.2" stroke="#333" stroke-width="1"/>
<line x1="406.9" y1="73.5" x2="413.5" y2="73.5" stroke="#333" stroke-width="1"/>
<line x1="406.9" y1="109.5" x2="413.5" y2="109.5" stroke="#333" stroke-width="1"/>
<rect x="404.90" y="83.10" width="10.60" height="18.70" fill="#b7c98b"/>
<line x1="404.9" y1="92.8" x2="415.5" y2="92.8" stroke="#2e3e18" stroke-width="1.7"/>
<line x1="425.5" y1="82.0" x2="425.5" y2="88.7" stroke="#333" stroke-width="1"/>
<line x1="425.5" y1="108.8" x2="425.5" y2="117.6" stroke="#333" stroke-width="1"/>
<line x1="422.5" y1="82.5" x2="429.1" y2="82.5" stroke="#333" stroke-width="1"/>
<line x1="422.5" y1="117.5" x2="429.1" y2="117.5" stroke="#333" stroke-width="1"/>
<rect x="420.40" y="88.70" width="10.80" height="20.10" fill="#b7c98b"/>
<line x1="420.40000000000003" y1="99.6" x2="431.2" y2="99.6" stroke="#2e3e18" stroke-width="1.7"/>
<line x1="441.5" y1="70.3" x2="441.5" y2="89.7" stroke="#333" stroke-width="1"/>
<line x1="441.5" y1="102.0" x2="441.5" y2="112.3" stroke="#333" stroke-width="1"/>
<line x1="438.3" y1="70.5" x2="444.90000000000003" y2="70.5" stroke="#333" stroke-width="1"/>
<line x1="438.3" y1="112.5" x2="444.90000000000003" y2="112.5" stroke="#333" stroke-width="1"/>
<rect x="436.20" y="89.70" width="10.80" height="12.30" fill="#b7c98b"/>
<line x1="436.20000000000005" y1="98.2" x2="447.0" y2="98.2" stroke="#2e3e18" stroke-width="1.7"/>
<line x1="457.5" y1="74.6" x2="457.5" y2="87.9" stroke="#333" stroke-width="1"/>
<line x1="457.5" y1="102.5" x2="457.5" y2="115.0" stroke="#333" stroke-width="1"/>
<line x1="453.7" y1="74.5" x2="460.3" y2="74.5" stroke="#333" stroke-width="1"/>
<line x1="453.7" y1="115.5" x2="460.3" y2="115.5" stroke="#333" stroke-width="1"/>
<rect x="451.80" y="87.90" width="10.40" height="14.60" fill="#b7c98b"/>
<line x1="451.8" y1="95.9" x2="462.2" y2="95.9" stroke="#2e3e18" stroke-width="1.7"/>
<line x1="472.5" y1="72.7" x2="472.5" y2="88.3" stroke="#333" stroke-width="1"/>
<line x1="472.5" y1="110.3" x2="472.5" y2="115.2" stroke="#333" stroke-width="1"/>
<line x1="469.2" y1="72.5" x2="475.8" y2="72.5" stroke="#333" stroke-width="1"/>
<line x1="469.2" y1="115.5" x2="475.8" y2="115.5" stroke="#333" stroke-width="1"/>
<rect x="467.20" y="88.30" width="10.60" height="22.00" fill="#b7c98b"/>
<line x1="467.2" y1="103.3" x2="477.8" y2="103.3" stroke="#2e3e18" stroke-width="1.7"/>
<line x1="488.5" y1="73.7" x2="488.5" y2="90.2" stroke="#333" stroke-width="1"/>
<line x1="488.5" y1="110.3" x2="488.5" y2="118.9" stroke="#333" stroke-width="1"/>
<line x1="484.9" y1="73.5" x2="491.5" y2="73.5" stroke="#333" stroke-width="1"/>
<line x1="484.9" y1="118.5" x2="491.5" y2="118.5" stroke="#333" stroke-width="1"/>
<rect x="482.90" y="90.20" width="10.60" height="20.10" fill="#b7c98b"/>
<line x1="482.9" y1="100.6" x2="493.5" y2="100.6" stroke="#2e3e18" stroke-width="1.7"/>
<line x1="504.5" y1="77.6" x2="504.5" y2="86.3" stroke="#333" stroke-width="1"/>
<line x1="504.5" y1="104.5" x2="504.5" y2="109.8" stroke="#333" stroke-width="1"/>
<line x1="500.7" y1="77.5" x2="507.3" y2="77.5" stroke="#333" stroke-width="1"/>
<line x1="500.7" y1="109.5" x2="507.3" y2="109.5" stroke="#333" stroke-width="1"/>
<rect x="498.80" y="86.30" width="10.40" height="18.20" fill="#b7c98b"/>
<line x1="498.8" y1="95.1" x2="509.2" y2="95.1" stroke="#2e3e18" stroke-width="1.7"/>
<ellipse cx="378.9" cy="107" rx="1.0" ry="3.0" fill="#2a1410"/>
<circle cx="373.7" cy="111.3" r="1.2" fill="#2a0a10"/>
<circle cx="384.3" cy="111.3" r="1.2" fill="#2a0a10"/>
<circle cx="384.3" cy="103.5" r="1.0" fill="#2a0a10"/>
<polyline points="378.5,87.5 378.5,31.5 450.5,31.5 450.5,57.5" fill="none" stroke="#333" stroke-width="1"/>
<polyline points="386.5,82.5 386.5,57.5 512.5,57.5 512.5,82.5" fill="none" stroke="#333" stroke-width="1"/>
<circle cx="408.3" cy="26.9" r="1.25" fill="#333"/>
<circle cx="412.1" cy="26.9" r="1.25" fill="#333"/>
<circle cx="415.9" cy="26.9" r="1.25" fill="#333"/>
<text transform="translate(346.2,83.6) rotate(-90)" x="0" y="0" font-size="9.5" text-anchor="middle" fill="#222" color="#222" textLength="60.0" lengthAdjust="spacingAndGlyphs">Speed (µm/min)</text>
<text x="8.0" y="200.3" font-size="12" text-anchor="start" font-weight="bold" fill="#111" color="#111" style="stroke-width:0.5px">D</text>
<text x="20.5" y="213.5" font-size="8.5" text-anchor="start" font-weight="normal" fill="#222" color="#222" textLength="44.2" lengthAdjust="spacingAndGlyphs">HD (n = 85)</text>
<text x="105.8" y="213.5" font-size="8.5" text-anchor="start" font-weight="normal" fill="#222" color="#222">A (n = 32)</text>
<text x="20.5" y="274.1" font-size="8.5" text-anchor="start" font-weight="normal" fill="#222" color="#222">D (n = 46)</text>
<text x="105.5" y="274.1" font-size="8.5" text-anchor="start" font-weight="normal" fill="#222" color="#222">E (n = 62)</text>
<defs><linearGradient id="ha0"><stop offset="0.006" stop-color="#361f88"/><stop offset="0.214" stop-color="#2d2792"/><stop offset="0.383" stop-color="#2931a7"/><stop offset="0.721" stop-color="#2a2ea0"/><stop offset="0.864" stop-color="#33218a"/><stop offset="0.994" stop-color="#361f88"/></linearGradient><linearGradient id="ha1"><stop offset="0.006" stop-color="#361f88"/><stop offset="0.123" stop-color="#2d2793"/><stop offset="0.214" stop-color="#2054cc"/><stop offset="0.318" stop-color="#1c78d8"/><stop offset="0.643" stop-color="#1c7cd8"/><stop offset="0.747" stop-color="#1d65d4"/><stop offset="0.812" stop-color="#2347bf"/><stop offset="0.890" stop-color="#2f248c"/><stop offset="0.994" stop-color="#361f88"/></linearGradient><linearGradient id="ha2"><stop offset="0.006" stop-color="#361f88"/><stop offset="0.071" stop-color="#2f238c"/><stop offset="0.110" stop-color="#263bb3"/><stop offset="0.149" stop-color="#1d69d5"/><stop offset="0.201" stop-color="#19a4e0"/><stop offset="0.331" stop-color="#33c3a8"/><stop offset="0.409" stop-color="#37c399"/><stop offset="0.708" stop-color="#2abbbd"/><stop offset="0.799" stop-color="#19a3e0"/><stop offset="0.864" stop-color="#1f57cf"/><stop offset="0.916" stop-color="#2c2895"/><stop offset="0.955" stop-color="#342089"/><stop offset="0.994" stop-color="#361f88"/></linearGradient><linearGradient id="ha3"><stop offset="0.006" stop-color="#351f88"/><stop offset="0.045" stop-color="#30238b"/><stop offset="0.071" stop-color="#2833a9"/><stop offset="0.097" stop-color="#1f57cf"/><stop offset="0.136" stop-color="#19a5e0"/><stop offset="0.188" stop-color="#32c3a9"/><stop offset="0.253" stop-color="#4ec34d"/><stop offset="0.344" stop-color="#8dcf34"/><stop offset="0.409" stop-color="#91d033"/><stop offset="0.682" stop-color="#5bc543"/><stop offset="0.721" stop-color="#4dc34f"/><stop offset="0.786" stop-color="#3bc38d"/><stop offset="0.838" stop-color="#25b6c6"/><stop offset="0.864" stop-color="#19a4e0"/><stop offset="0.903" stop-color="#1f57cf"/><stop offset="0.942" stop-color="#2c2995"/><stop offset="0.981" stop-color="#342089"/><stop offset="0.994" stop-color="#351f88"/></linearGradient><linearGradient id="ha4"><stop offset="0.006" stop-color="#342089"/><stop offset="0.032" stop-color="#2e248c"/><stop offset="0.058" stop-color="#263db5"/><stop offset="0.084" stop-color="#1c74d7"/><stop offset="0.097" stop-color="#1a97de"/><stop offset="0.110" stop-color="#1eafd6"/><stop offset="0.136" stop-color="#33c3a5"/><stop offset="0.175" stop-color="#4ec34c"/><stop offset="0.253" stop-color="#97d131"/><stop offset="0.344" stop-color="#b7d728"/><stop offset="0.422" stop-color="#a8d52c"/><stop offset="0.539" stop-color="#8dcf34"/><stop offset="0.734" stop-color="#87ce36"/><stop offset="0.799" stop-color="#60c641"/><stop offset="0.812" stop-color="#53c445"/><stop offset="0.851" stop-color="#3cc389"/><stop offset="0.877" stop-color="#29babf"/><stop offset="0.890" stop-color="#1eafd7"/><stop offset="0.903" stop-color="#1a97dd"/><stop offset="0.929" stop-color="#2053cb"/><stop offset="0.955" stop-color="#2b2d9e"/><stop offset="0.968" stop-color="#2e248c"/><stop offset="0.994" stop-color="#342089"/></linearGradient><linearGradient id="ha5"><stop offset="0.006" stop-color="#33218a"/><stop offset="0.019" stop-color="#2f248c"/><stop offset="0.045" stop-color="#2541b9"/><stop offset="0.058" stop-color="#1e5ad2"/><stop offset="0.084" stop-color="#1bacdd"/><stop offset="0.110" stop-color="#39c393"/><stop offset="0.123" stop-color="#48c362"/><stop offset="0.136" stop-color="#5ac543"/><stop offset="0.162" stop-color="#84cd36"/><stop offset="0.201" stop-color="#99d230"/><stop offset="0.370" stop-color="#b0d629"/><stop offset="0.539" stop-color="#90d033"/><stop offset="0.812" stop-color="#93d032"/><stop offset="0.851" stop-color="#6ec93d"/><stop offset="0.864" stop-color="#56c444"/><stop offset="0.877" stop-color="#47c366"/><stop offset="0.903" stop-color="#2abbbd"/><stop offset="0.916" stop-color="#1aabde"/><stop offset="0.942" stop-color="#1e5ad2"/><stop offset="0.968" stop-color="#2a2d9f"/><stop offset="0.981" stop-color="#2f248c"/><stop offset="0.994" stop-color="#33218a"/></linearGradient><linearGradient id="ha6"><stop offset="0.006" stop-color="#30238b"/><stop offset="0.019" stop-color="#2c2a99"/><stop offset="0.045" stop-color="#1f58d0"/><stop offset="0.058" stop-color="#1b87da"/><stop offset="0.071" stop-color="#1eafd6"/><stop offset="0.084" stop-color="#31c2ad"/><stop offset="0.097" stop-color="#45c36b"/><stop offset="0.110" stop-color="#62c741"/><stop offset="0.136" stop-color="#a0d32e"/><stop offset="0.149" stop-color="#add62a"/><stop offset="0.240" stop-color="#99d230"/><stop offset="0.383" stop-color="#a4d42d"/><stop offset="0.591" stop-color="#91d033"/><stop offset="0.786" stop-color="#98d130"/><stop offset="0.838" stop-color="#b2d728"/><stop offset="0.864" stop-color="#a1d32e"/><stop offset="0.890" stop-color="#62c741"/><stop offset="0.903" stop-color="#45c36c"/><stop offset="0.916" stop-color="#30c1ae"/><stop offset="0.929" stop-color="#1eafd6"/><stop offset="0.942" stop-color="#1b87da"/><stop offset="0.955" stop-color="#1f58d0"/><stop offset="0.981" stop-color="#2c2a99"/><stop offset="0.994" stop-color="#30238b"/></linearGradient><linearGradient id="ha7"><stop offset="0.006" stop-color="#2e258e"/><stop offset="0.019" stop-color="#2933a9"/><stop offset="0.032" stop-color="#214ec6"/><stop offset="0.045" stop-color="#1c79d8"/><stop offset="0.058" stop-color="#1bacdc"/><stop offset="0.071" stop-color="#31c2ac"/><stop offset="0.084" stop-color="#4ac35a"/><stop offset="0.097" stop-color="#7acb39"/><stop offset="0.110" stop-color="#a7d42c"/><stop offset="0.123" stop-color="#bed728"/><stop offset="0.149" stop-color="#bbd728"/><stop offset="0.214" stop-color="#9bd230"/><stop offset="0.448" stop-color="#95d131"/><stop offset="0.773" stop-color="#98d130"/><stop offset="0.838" stop-color="#bbd728"/><stop offset="0.864" stop-color="#ccd728"/><stop offset="0.877" stop-color="#c4d728"/><stop offset="0.890" stop-color="#acd52a"/><stop offset="0.903" stop-color="#7ccc39"/><stop offset="0.916" stop-color="#4ac35a"/><stop offset="0.929" stop-color="#31c2ad"/><stop offset="0.942" stop-color="#1bacdd"/><stop offset="0.955" stop-color="#1c79d8"/><stop offset="0.968" stop-color="#214ec6"/><stop offset="0.981" stop-color="#2933a9"/><stop offset="0.994" stop-color="#2e258e"/></linearGradient><linearGradient id="ha8"><stop offset="0.006" stop-color="#2c2a97"/><stop offset="0.019" stop-color="#253eb6"/><stop offset="0.032" stop-color="#1e5fd3"/><stop offset="0.045" stop-color="#1a98de"/><stop offset="0.058" stop-color="#2abbbb"/><stop offset="0.071" stop-color="#47c365"/><stop offset="0.084" stop-color="#80cd38"/><stop offset="0.097" stop-color="#b8d728"/><stop offset="0.110" stop-color="#cfd728"/><stop offset="0.136" stop-color="#c9d728"/><stop offset="0.214" stop-color="#9cd22f"/><stop offset="0.422" stop-color="#82cd37"/><stop offset="0.552" stop-color="#80cd38"/><stop offset="0.786" stop-color="#9ed32e"/><stop offset="0.877" stop-color="#e3d728"/><stop offset="0.890" stop-color="#dbd728"/><stop offset="0.903" stop-color="#bed728"/><stop offset="0.916" stop-color="#83cd37"/><stop offset="0.929" stop-color="#47c364"/><stop offset="0.942" stop-color="#2abbbb"/><stop offset="0.955" stop-color="#1a98de"/><stop offset="0.968" stop-color="#1e5fd3"/><stop offset="0.981" stop-color="#253eb6"/><stop offset="0.994" stop-color="#2c2a97"/></linearGradient><linearGradient id="ha9"><stop offset="0.006" stop-color="#2a2ea0"/><stop offset="0.019" stop-color="#2348c0"/><stop offset="0.032" stop-color="#1c74d7"/><stop offset="0.045" stop-color="#1daed8"/><stop offset="0.058" stop-color="#3ac38e"/><stop offset="0.071" stop-color="#6ec93d"/><stop offset="0.084" stop-color="#b7d728"/><stop offset="0.097" stop-color="#dad728"/><stop offset="0.110" stop-color="#e1d728"/><stop offset="0.214" stop-color="#9fd32e"/><stop offset="0.344" stop-color="#77cb3a"/><stop offset="0.461" stop-color="#4fc34a"/><stop offset="0.552" stop-color="#56c444"/><stop offset="0.734" stop-color="#97d131"/><stop offset="0.799" stop-color="#a8d52c"/><stop offset="0.877" stop-color="#ebd327"/><stop offset="0.890" stop-color="#ecc626"/><stop offset="0.903" stop-color="#e7d728"/><stop offset="0.916" stop-color="#bdd728"/><stop offset="0.929" stop-color="#70c93c"/><stop offset="0.942" stop-color="#3ac38f"/><stop offset="0.955" stop-color="#1daed9"/><stop offset="0.968" stop-color="#1c74d7"/><stop offset="0.981" stop-color="#2348c0"/><stop offset="0.994" stop-color="#2a2ea0"/></linearGradient><linearGradient id="ha10"><stop offset="0.006" stop-color="#2932a8"/><stop offset="0.019" stop-color="#2150c8"/><stop offset="0.032" stop-color="#1b86da"/><stop offset="0.045" stop-color="#27b8c1"/><stop offset="0.058" stop-color="#4bc357"/><stop offset="0.071" stop-color="#a1d32e"/><stop offset="0.084" stop-color="#dad728"/><stop offset="0.097" stop-color="#ebd227"/><stop offset="0.149" stop-color="#cad728"/><stop offset="0.318" stop-color="#60c641"/><stop offset="0.357" stop-color="#4bc358"/><stop offset="0.435" stop-color="#39c393"/><stop offset="0.500" stop-color="#35c39f"/><stop offset="0.565" stop-color="#3dc384"/><stop offset="0.643" stop-color="#54c445"/><stop offset="0.747" stop-color="#95d131"/><stop offset="0.825" stop-color="#bfd728"/><stop offset="0.864" stop-color="#e8d728"/><stop offset="0.890" stop-color="#edb624"/><stop offset="0.903" stop-color="#edb323"/><stop offset="0.916" stop-color="#e4d728"/><stop offset="0.929" stop-color="#a5d42d"/><stop offset="0.942" stop-color="#4bc358"/><stop offset="0.955" stop-color="#27b8c3"/><stop offset="0.968" stop-color="#1b85da"/><stop offset="0.981" stop-color="#2150c8"/><stop offset="0.994" stop-color="#2932a8"/></linearGradient><linearGradient id="ha11"><stop offset="0.006" stop-color="#2835ad"/><stop offset="0.019" stop-color="#1f56ce"/><stop offset="0.032" stop-color="#1a95dd"/><stop offset="0.045" stop-color="#31c2ad"/><stop offset="0.058" stop-color="#6bc83e"/><stop offset="0.071" stop-color="#c6d728"/><stop offset="0.084" stop-color="#eccc26"/><stop offset="0.097" stop-color="#ecc626"/><stop offset="0.123" stop-color="#e7d728"/><stop offset="0.227" stop-color="#92d032"/><stop offset="0.292" stop-color="#50c347"/><stop offset="0.370" stop-color="#31c2ac"/><stop offset="0.448" stop-color="#26b7c4"/><stop offset="0.565" stop-color="#29babd"/><stop offset="0.617" stop-color="#35c3a1"/><stop offset="0.682" stop-color="#4ec34c"/><stop offset="0.812" stop-color="#b8d728"/><stop offset="0.864" stop-color="#ebd127"/><stop offset="0.903" stop-color="#ef9c20"/><stop offset="0.916" stop-color="#edb523"/><stop offset="0.929" stop-color="#cbd728"/><stop offset="0.942" stop-color="#6ac83e"/><stop offset="0.955" stop-color="#30c1af"/><stop offset="0.968" stop-color="#1a94dd"/><stop offset="0.981" stop-color="#1f56ce"/><stop offset="0.994" stop-color="#2835ad"/></linearGradient><linearGradient id="ha12"><stop offset="0.006" stop-color="#2739b1"/><stop offset="0.019" stop-color="#1e5ad2"/><stop offset="0.032" stop-color="#1aa2df"/><stop offset="0.045" stop-color="#3bc38c"/><stop offset="0.058" stop-color="#90d033"/><stop offset="0.071" stop-color="#e2d728"/><stop offset="0.084" stop-color="#edb724"/><stop offset="0.110" stop-color="#ecc425"/><stop offset="0.136" stop-color="#e1d728"/><stop offset="0.201" stop-color="#a2d32d"/><stop offset="0.266" stop-color="#4dc34f"/><stop offset="0.318" stop-color="#31c2ab"/><stop offset="0.370" stop-color="#26b7c5"/><stop offset="0.487" stop-color="#1cadda"/><stop offset="0.630" stop-color="#29babd"/><stop offset="0.656" stop-color="#31c2ac"/><stop offset="0.721" stop-color="#54c445"/><stop offset="0.825" stop-color="#c6d728"/><stop offset="0.851" stop-color="#e4d728"/><stop offset="0.903" stop-color="#f0911f"/><stop offset="0.916" stop-color="#ef961f"/><stop offset="0.929" stop-color="#e8d728"/><stop offset="0.942" stop-color="#8ecf34"/><stop offset="0.955" stop-color="#39c392"/><stop offset="0.968" stop-color="#1aa0df"/><stop offset="0.981" stop-color="#1e5ad2"/><stop offset="0.994" stop-color="#2739b1"/></linearGradient><linearGradient id="ha13"><stop offset="0.006" stop-color="#263bb3"/><stop offset="0.019" stop-color="#1e5fd3"/><stop offset="0.032" stop-color="#1aabdf"/><stop offset="0.045" stop-color="#44c36d"/><stop offset="0.058" stop-color="#b2d729"/><stop offset="0.071" stop-color="#ecc426"/><stop offset="0.084" stop-color="#eeab22"/><stop offset="0.110" stop-color="#edba24"/><stop offset="0.136" stop-color="#e7d728"/><stop offset="0.188" stop-color="#acd52a"/><stop offset="0.240" stop-color="#51c346"/><stop offset="0.279" stop-color="#35c39f"/><stop offset="0.305" stop-color="#2abbbd"/><stop offset="0.409" stop-color="#19a5e0"/><stop offset="0.513" stop-color="#1a9ade"/><stop offset="0.591" stop-color="#1bacdd"/><stop offset="0.682" stop-color="#2ebfb3"/><stop offset="0.708" stop-color="#3bc38b"/><stop offset="0.734" stop-color="#4cc353"/><stop offset="0.760" stop-color="#70c93d"/><stop offset="0.825" stop-color="#c8d728"/><stop offset="0.851" stop-color="#e8d728"/><stop offset="0.903" stop-color="#ef871e"/><stop offset="0.916" stop-color="#ed831f"/><stop offset="0.929" stop-color="#edba24"/><stop offset="0.942" stop-color="#add62a"/><stop offset="0.955" stop-color="#42c376"/><stop offset="0.968" stop-color="#19aae1"/><stop offset="0.981" stop-color="#1e5fd3"/><stop offset="0.994" stop-color="#263bb3"/></linearGradient><linearGradient id="ha14"><stop offset="0.006" stop-color="#263cb4"/><stop offset="0.019" stop-color="#1d63d4"/><stop offset="0.032" stop-color="#1daed7"/><stop offset="0.045" stop-color="#4dc351"/><stop offset="0.058" stop-color="#c8d728"/><stop offset="0.071" stop-color="#eead22"/><stop offset="0.084" stop-color="#efa021"/><stop offset="0.110" stop-color="#eeb023"/><stop offset="0.136" stop-color="#ebd528"/><stop offset="0.175" stop-color="#bbd728"/><stop offset="0.227" stop-color="#4ec34d"/><stop offset="0.253" stop-color="#38c396"/><stop offset="0.266" stop-color="#2fc0b0"/><stop offset="0.344" stop-color="#1aabdf"/><stop offset="0.461" stop-color="#1b83da"/><stop offset="0.565" stop-color="#1b8fdc"/><stop offset="0.630" stop-color="#1aabdf"/><stop offset="0.708" stop-color="#2ebfb3"/><stop offset="0.734" stop-color="#3fc37f"/><stop offset="0.760" stop-color="#57c444"/><stop offset="0.825" stop-color="#c9d728"/><stop offset="0.851" stop-color="#ebd728"/><stop offset="0.890" stop-color="#f08f1e"/><stop offset="0.916" stop-color="#eb7c1f"/><stop offset="0.929" stop-color="#efa221"/><stop offset="0.942" stop-color="#c1d728"/><stop offset="0.955" stop-color="#49c35f"/><stop offset="0.968" stop-color="#1caddb"/><stop offset="0.981" stop-color="#1d63d4"/><stop offset="0.994" stop-color="#263cb4"/></linearGradient><linearGradient id="ha15"><stop offset="0.006" stop-color="#263db5"/><stop offset="0.019" stop-color="#1d65d4"/><stop offset="0.032" stop-color="#20b1d1"/><stop offset="0.045" stop-color="#5bc543"/><stop offset="0.058" stop-color="#dad728"/><stop offset="0.071" stop-color="#ef9c20"/><stop offset="0.097" stop-color="#ef9a20"/><stop offset="0.136" stop-color="#ecce27"/><stop offset="0.162" stop-color="#ccd728"/><stop offset="0.188" stop-color="#92d032"/><stop offset="0.214" stop-color="#4ec34c"/><stop offset="0.240" stop-color="#35c3a0"/><stop offset="0.266" stop-color="#27b8c3"/><stop offset="0.318" stop-color="#19aae1"/><stop offset="0.435" stop-color="#1d72d6"/><stop offset="0.526" stop-color="#1d6fd6"/><stop offset="0.630" stop-color="#1a9ade"/><stop offset="0.656" stop-color="#19aae1"/><stop offset="0.721" stop-color="#2bbcb9"/><stop offset="0.734" stop-color="#32c3a8"/><stop offset="0.773" stop-color="#59c543"/><stop offset="0.812" stop-color="#b2d729"/><stop offset="0.851" stop-color="#ebd428"/><stop offset="0.890" stop-color="#f08c1e"/><stop offset="0.916" stop-color="#ea781f"/><stop offset="0.929" stop-color="#f0911f"/><stop offset="0.942" stop-color="#d0d728"/><stop offset="0.955" stop-color="#4ec34c"/><stop offset="0.968" stop-color="#1eafd6"/><stop offset="0.981" stop-color="#1d65d4"/><stop offset="0.994" stop-color="#263db5"/></linearGradient><linearGradient id="ha16"><stop offset="0.006" stop-color="#263db5"/><stop offset="0.019" stop-color="#1d67d4"/><stop offset="0.032" stop-color="#23b4cc"/><stop offset="0.045" stop-color="#6bc83e"/><stop offset="0.058" stop-color="#ead728"/><stop offset="0.071" stop-color="#f0921f"/><stop offset="0.097" stop-color="#f0911f"/><stop offset="0.136" stop-color="#ecc826"/><stop offset="0.149" stop-color="#e2d728"/><stop offset="0.175" stop-color="#a9d52b"/><stop offset="0.201" stop-color="#56c444"/><stop offset="0.227" stop-color="#35c3a0"/><stop offset="0.240" stop-color="#2bbcb9"/><stop offset="0.305" stop-color="#19a4e0"/><stop offset="0.422" stop-color="#1d62d4"/><stop offset="0.513" stop-color="#1e59d1"/><stop offset="0.604" stop-color="#1c7ad8"/><stop offset="0.682" stop-color="#1aabde"/><stop offset="0.734" stop-color="#2abbbb"/><stop offset="0.747" stop-color="#32c3aa"/><stop offset="0.773" stop-color="#4bc358"/><stop offset="0.786" stop-color="#64c740"/><stop offset="0.825" stop-color="#c3d728"/><stop offset="0.851" stop-color="#ebd428"/><stop offset="0.890" stop-color="#f08b1e"/><stop offset="0.916" stop-color="#ea771f"/><stop offset="0.929" stop-color="#ef871e"/><stop offset="0.942" stop-color="#dad728"/><stop offset="0.955" stop-color="#56c444"/><stop offset="0.968" stop-color="#20b1d2"/><stop offset="0.981" stop-color="#1d66d4"/><stop offset="0.994" stop-color="#263db5"/></linearGradient><linearGradient id="ha17"><stop offset="0.006" stop-color="#253eb6"/><stop offset="0.019" stop-color="#1d68d5"/><stop offset="0.032" stop-color="#25b6c7"/><stop offset="0.045" stop-color="#79cb3a"/><stop offset="0.058" stop-color="#ecc826"/><stop offset="0.071" stop-color="#ef8a1e"/><stop offset="0.097" stop-color="#ef8a1e"/><stop offset="0.136" stop-color="#ecc325"/><stop offset="0.149" stop-color="#e2d728"/><stop offset="0.175" stop-color="#9cd22f"/><stop offset="0.188" stop-color="#6cc93d"/><stop offset="0.201" stop-color="#49c35d"/><stop offset="0.214" stop-color="#39c394"/><stop offset="0.227" stop-color="#2cbdb6"/><stop offset="0.279" stop-color="#1aabdf"/><stop offset="0.409" stop-color="#1f58d0"/><stop offset="0.513" stop-color="#214ec6"/><stop offset="0.591" stop-color="#1d64d4"/><stop offset="0.695" stop-color="#1aabdf"/><stop offset="0.747" stop-color="#2bbcb9"/><stop offset="0.760" stop-color="#35c3a1"/><stop offset="0.786" stop-color="#51c346"/><stop offset="0.825" stop-color="#bed728"/><stop offset="0.851" stop-color="#ebd528"/><stop offset="0.890" stop-color="#f08d1e"/><stop offset="0.916" stop-color="#eb791f"/><stop offset="0.929" stop-color="#ee841e"/><stop offset="0.942" stop-color="#e1d728"/><stop offset="0.955" stop-color="#5ec642"/><stop offset="0.968" stop-color="#21b2d0"/><stop offset="0.981" stop-color="#1d67d4"/><stop offset="0.994" stop-color="#253eb6"/></linearGradient><linearGradient id="ha18"><stop offset="0.006" stop-color="#253eb6"/><stop offset="0.019" stop-color="#1d68d5"/><stop offset="0.032" stop-color="#26b7c4"/><stop offset="0.045" stop-color="#84cd37"/><stop offset="0.058" stop-color="#edbb24"/><stop offset="0.071" stop-color="#ee841e"/><stop offset="0.097" stop-color="#ee841e"/><stop offset="0.123" stop-color="#eea622"/><stop offset="0.149" stop-color="#e0d728"/><stop offset="0.162" stop-color="#bed728"/><stop offset="0.188" stop-color="#5bc543"/><stop offset="0.214" stop-color="#31c2ac"/><stop offset="0.227" stop-color="#28b9c1"/><stop offset="0.279" stop-color="#19a3e0"/><stop offset="0.383" stop-color="#1e58d0"/><stop offset="0.487" stop-color="#2442ba"/><stop offset="0.591" stop-color="#1e58d0"/><stop offset="0.708" stop-color="#1bacdd"/><stop offset="0.760" stop-color="#2fc0b1"/><stop offset="0.773" stop-color="#3bc38b"/><stop offset="0.786" stop-color="#4ac359"/><stop offset="0.799" stop-color="#69c83e"/><stop offset="0.825" stop-color="#b8d728"/><stop offset="0.851" stop-color="#ead728"/><stop offset="0.890" stop-color="#f0911f"/><stop offset="0.916" stop-color="#ec7e1f"/><stop offset="0.929" stop-color="#ee861e"/><stop offset="0.942" stop-color="#e4d728"/><stop offset="0.955" stop-color="#61c641"/><stop offset="0.968" stop-color="#21b2ce"/><stop offset="0.981" stop-color="#1d67d4"/><stop offset="0.994" stop-color="#253eb6"/></linearGradient><linearGradient id="ha19"><stop offset="0.006" stop-color="#253eb6"/><stop offset="0.019" stop-color="#1d68d5"/><stop offset="0.032" stop-color="#27b8c2"/><stop offset="0.045" stop-color="#8bcf34"/><stop offset="0.058" stop-color="#edb223"/><stop offset="0.071" stop-color="#ec801f"/><stop offset="0.097" stop-color="#ec7f1f"/><stop offset="0.123" stop-color="#eea321"/><stop offset="0.149" stop-color="#dfd728"/><stop offset="0.162" stop-color="#bad728"/><stop offset="0.188" stop-color="#4fc348"/><stop offset="0.201" stop-color="#3cc38a"/><stop offset="0.214" stop-color="#2dbeb5"/><stop offset="0.266" stop-color="#19a8e1"/><stop offset="0.383" stop-color="#2053cb"/><stop offset="0.487" stop-color="#273ab2"/><stop offset="0.604" stop-color="#1e58d0"/><stop offset="0.708" stop-color="#19a9e1"/><stop offset="0.760" stop-color="#2bbcb9"/><stop offset="0.773" stop-color="#37c39b"/><stop offset="0.799" stop-color="#5fc641"/><stop offset="0.825" stop-color="#b3d728"/><stop offset="0.851" stop-color="#e7d728"/><stop offset="0.903" stop-color="#f08b1e"/><stop offset="0.929" stop-color="#f08d1e"/><stop offset="0.942" stop-color="#e3d728"/><stop offset="0.955" stop-color="#62c741"/><stop offset="0.968" stop-color="#22b3ce"/><stop offset="0.981" stop-color="#1d67d4"/><stop offset="0.994" stop-color="#253eb6"/></linearGradient><linearGradient id="ha20"><stop offset="0.006" stop-color="#253eb6"/><stop offset="0.019" stop-color="#1d68d5"/><stop offset="0.032" stop-color="#27b8c1"/><stop offset="0.045" stop-color="#8fd033"/><stop offset="0.058" stop-color="#eead22"/><stop offset="0.071" stop-color="#eb7d1f"/><stop offset="0.097" stop-color="#eb7c1f"/><stop offset="0.123" stop-color="#efa021"/><stop offset="0.136" stop-color="#edbd25"/><stop offset="0.149" stop-color="#dfd728"/><stop offset="0.162" stop-color="#b8d728"/><stop offset="0.188" stop-color="#4dc350"/><stop offset="0.201" stop-color="#39c392"/><stop offset="0.214" stop-color="#2bbcb9"/><stop offset="0.266" stop-color="#19a6e0"/><stop offset="0.370" stop-color="#1f56ce"/><stop offset="0.474" stop-color="#2738b0"/><stop offset="0.552" stop-color="#2442ba"/><stop offset="0.630" stop-color="#1d66d4"/><stop offset="0.708" stop-color="#19a6e0"/><stop offset="0.760" stop-color="#2abbbc"/><stop offset="0.773" stop-color="#34c3a2"/><stop offset="0.799" stop-color="#5ac543"/><stop offset="0.825" stop-color="#aed62a"/><stop offset="0.851" stop-color="#e3d728"/><stop offset="0.903" stop-color="#ef951f"/><stop offset="0.929" stop-color="#ef961f"/><stop offset="0.942" stop-color="#dfd728"/><stop offset="0.955" stop-color="#5fc641"/><stop offset="0.968" stop-color="#21b2ce"/><stop offset="0.981" stop-color="#1d67d4"/><stop offset="0.994" stop-color="#253eb6"/></linearGradient><linearGradient id="ha21"><stop offset="0.006" stop-color="#253eb6"/><stop offset="0.019" stop-color="#1d68d5"/><stop offset="0.032" stop-color="#27b8c1"/><stop offset="0.045" stop-color="#8fd033"/><stop offset="0.058" stop-color="#eeac22"/><stop offset="0.071" stop-color="#eb7b1f"/><stop offset="0.097" stop-color="#eb7b1f"/><stop offset="0.123" stop-color="#ef9f20"/><stop offset="0.149" stop-color="#e0d728"/><stop offset="0.162" stop-color="#b9d728"/><stop offset="0.188" stop-color="#4ec34d"/><stop offset="0.201" stop-color="#3ac390"/><stop offset="0.214" stop-color="#2cbdb8"/><stop offset="0.266" stop-color="#19a6e0"/><stop offset="0.370" stop-color="#1f57cf"/><stop offset="0.474" stop-color="#2738b0"/><stop offset="0.565" stop-color="#2347bf"/><stop offset="0.643" stop-color="#1d71d6"/><stop offset="0.708" stop-color="#19a7e0"/><stop offset="0.760" stop-color="#2abbbb"/><stop offset="0.773" stop-color="#35c3a0"/><stop offset="0.799" stop-color="#5bc543"/><stop offset="0.825" stop-color="#acd52a"/><stop offset="0.851" stop-color="#dfd728"/><stop offset="0.864" stop-color="#ebd127"/><stop offset="0.903" stop-color="#efa021"/><stop offset="0.929" stop-color="#efa221"/><stop offset="0.942" stop-color="#d8d728"/><stop offset="0.955" stop-color="#5ac543"/><stop offset="0.968" stop-color="#21b2d0"/><stop offset="0.981" stop-color="#1d67d4"/><stop offset="0.994" stop-color="#253eb6"/></linearGradient><linearGradient id="ha22"><stop offset="0.006" stop-color="#253eb6"/><stop offset="0.019" stop-color="#1d68d5"/><stop offset="0.032" stop-color="#27b8c2"/><stop offset="0.045" stop-color="#8ccf34"/><stop offset="0.058" stop-color="#eeaf23"/><stop offset="0.071" stop-color="#eb7b1f"/><stop offset="0.097" stop-color="#eb7b1f"/><stop offset="0.123" stop-color="#ef9e20"/><stop offset="0.149" stop-color="#e2d728"/><stop offset="0.162" stop-color="#bed728"/><stop offset="0.188" stop-color="#54c445"/><stop offset="0.201" stop-color="#3ec383"/><stop offset="0.214" stop-color="#2ebfb2"/><stop offset="0.253" stop-color="#1eafd7"/><stop offset="0.279" stop-color="#1a9fdf"/><stop offset="0.383" stop-color="#1f55cd"/><stop offset="0.487" stop-color="#263db5"/><stop offset="0.604" stop-color="#1e5ad2"/><stop offset="0.708" stop-color="#19aae1"/><stop offset="0.760" stop-color="#2cbdb6"/><stop offset="0.773" stop-color="#38c396"/><stop offset="0.786" stop-color="#47c364"/><stop offset="0.799" stop-color="#61c641"/><stop offset="0.825" stop-color="#add62a"/><stop offset="0.864" stop-color="#ead728"/><stop offset="0.903" stop-color="#eeab22"/><stop offset="0.929" stop-color="#eeae23"/><stop offset="0.942" stop-color="#cfd728"/><stop offset="0.955" stop-color="#53c445"/><stop offset="0.968" stop-color="#20b1d1"/><stop offset="0.981" stop-color="#1d67d4"/><stop offset="0.994" stop-color="#253eb6"/></linearGradient><linearGradient id="ha23"><stop offset="0.006" stop-color="#253eb6"/><stop offset="0.019" stop-color="#1d68d5"/><stop offset="0.032" stop-color="#26b7c4"/><stop offset="0.045" stop-color="#86ce36"/><stop offset="0.058" stop-color="#edb624"/><stop offset="0.071" stop-color="#eb7b1f"/><stop offset="0.097" stop-color="#eb7b1f"/><stop offset="0.123" stop-color="#ef9f21"/><stop offset="0.149" stop-color="#e6d728"/><stop offset="0.175" stop-color="#97d131"/><stop offset="0.188" stop-color="#64c740"/><stop offset="0.201" stop-color="#45c36c"/><stop offset="0.214" stop-color="#34c3a4"/><stop offset="0.227" stop-color="#29babe"/><stop offset="0.279" stop-color="#19a6e0"/><stop offset="0.396" stop-color="#1f57cf"/><stop offset="0.500" stop-color="#2346be"/><stop offset="0.591" stop-color="#1e5cd2"/><stop offset="0.695" stop-color="#19a6e0"/><stop offset="0.747" stop-color="#29babf"/><stop offset="0.760" stop-color="#31c2ad"/><stop offset="0.786" stop-color="#4cc353"/><stop offset="0.812" stop-color="#90d033"/><stop offset="0.838" stop-color="#c7d728"/><stop offset="0.864" stop-color="#e6d728"/><stop offset="0.916" stop-color="#edb323"/><stop offset="0.929" stop-color="#edbb24"/><stop offset="0.942" stop-color="#c5d728"/><stop offset="0.955" stop-color="#4ec34e"/><stop offset="0.968" stop-color="#1fb0d4"/><stop offset="0.981" stop-color="#1d67d4"/><stop offset="0.994" stop-color="#253eb6"/></linearGradient><linearGradient id="ha24"><stop offset="0.006" stop-color="#253eb6"/><stop offset="0.019" stop-color="#1d68d5"/><stop offset="0.032" stop-color="#25b6c7"/><stop offset="0.045" stop-color="#7ccc39"/><stop offset="0.058" stop-color="#edc025"/><stop offset="0.071" stop-color="#ec7d1f"/><stop offset="0.097" stop-color="#ec7d1f"/><stop offset="0.123" stop-color="#efa021"/><stop offset="0.149" stop-color="#e9d728"/><stop offset="0.175" stop-color="#a7d42c"/><stop offset="0.201" stop-color="#4ec34e"/><stop offset="0.214" stop-color="#3dc385"/><stop offset="0.227" stop-color="#2fc0b0"/><stop offset="0.253" stop-color="#24b5c9"/><stop offset="0.292" stop-color="#19a6e0"/><stop offset="0.409" stop-color="#1e5dd3"/><stop offset="0.513" stop-color="#2052ca"/><stop offset="0.591" stop-color="#1d6ad5"/><stop offset="0.695" stop-color="#1caddb"/><stop offset="0.747" stop-color="#2ebfb3"/><stop offset="0.760" stop-color="#38c395"/><stop offset="0.786" stop-color="#58c544"/><stop offset="0.825" stop-color="#b6d728"/><stop offset="0.877" stop-color="#ebd428"/><stop offset="0.916" stop-color="#edbd25"/><stop offset="0.929" stop-color="#ecc926"/><stop offset="0.942" stop-color="#bad728"/><stop offset="0.955" stop-color="#4ac35b"/><stop offset="0.968" stop-color="#1eafd6"/><stop offset="0.981" stop-color="#1d66d4"/><stop offset="0.994" stop-color="#253eb6"/></linearGradient><linearGradient id="ha25"><stop offset="0.006" stop-color="#263db5"/><stop offset="0.019" stop-color="#1d67d4"/><stop offset="0.032" stop-color="#23b4cb"/><stop offset="0.045" stop-color="#70c93c"/><stop offset="0.058" stop-color="#eccf27"/><stop offset="0.071" stop-color="#ed801f"/><stop offset="0.097" stop-color="#ec801f"/><stop offset="0.136" stop-color="#edba24"/><stop offset="0.149" stop-color="#ebd528"/><stop offset="0.175" stop-color="#b6d728"/><stop offset="0.201" stop-color="#65c740"/><stop offset="0.214" stop-color="#49c35f"/><stop offset="0.227" stop-color="#3ac38e"/><stop offset="0.240" stop-color="#2fc0b1"/><stop offset="0.292" stop-color="#1daed9"/><stop offset="0.318" stop-color="#1aa0df"/><stop offset="0.435" stop-color="#1d66d4"/><stop offset="0.526" stop-color="#1d63d4"/><stop offset="0.630" stop-color="#1b90dc"/><stop offset="0.669" stop-color="#19aae1"/><stop offset="0.734" stop-color="#2dbeb4"/><stop offset="0.747" stop-color="#37c39b"/><stop offset="0.773" stop-color="#4fc34a"/><stop offset="0.825" stop-color="#bcd728"/><stop offset="0.877" stop-color="#ebd728"/><stop offset="0.916" stop-color="#ecc426"/><stop offset="0.929" stop-color="#ebd628"/><stop offset="0.942" stop-color="#acd52a"/><stop offset="0.955" stop-color="#46c368"/><stop offset="0.968" stop-color="#1cadd9"/><stop offset="0.981" stop-color="#1d65d4"/><stop offset="0.994" stop-color="#263db5"/></linearGradient><linearGradient id="ha26"><stop offset="0.006" stop-color="#263db5"/><stop offset="0.019" stop-color="#1d65d4"/><stop offset="0.032" stop-color="#21b2d0"/><stop offset="0.045" stop-color="#61c641"/><stop offset="0.058" stop-color="#e3d728"/><stop offset="0.071" stop-color="#ef871e"/><stop offset="0.084" stop-color="#ec7f1f"/><stop offset="0.110" stop-color="#f0911f"/><stop offset="0.149" stop-color="#ebd428"/><stop offset="0.188" stop-color="#a3d42d"/><stop offset="0.214" stop-color="#5dc642"/><stop offset="0.240" stop-color="#3bc38b"/><stop offset="0.253" stop-color="#30c1ad"/><stop offset="0.292" stop-color="#23b4cb"/><stop offset="0.331" stop-color="#19a9e1"/><stop offset="0.435" stop-color="#1c7ad8"/><stop offset="0.526" stop-color="#1c78d8"/><stop offset="0.630" stop-color="#1aa1df"/><stop offset="0.669" stop-color="#1fb0d3"/><stop offset="0.721" stop-color="#2fc0b1"/><stop offset="0.747" stop-color="#43c372"/><stop offset="0.760" stop-color="#4ec34d"/><stop offset="0.812" stop-color="#b2d728"/><stop offset="0.877" stop-color="#ead728"/><stop offset="0.916" stop-color="#ecc926"/><stop offset="0.929" stop-color="#e3d728"/><stop offset="0.942" stop-color="#9cd22f"/><stop offset="0.955" stop-color="#41c377"/><stop offset="0.968" stop-color="#1bacdd"/><stop offset="0.981" stop-color="#1d64d4"/><stop offset="0.994" stop-color="#263db5"/></linearGradient><linearGradient id="ha27"><stop offset="0.006" stop-color="#263cb4"/><stop offset="0.019" stop-color="#1d63d4"/><stop offset="0.032" stop-color="#1eafd6"/><stop offset="0.045" stop-color="#4fc348"/><stop offset="0.058" stop-color="#d2d728"/><stop offset="0.071" stop-color="#ef951f"/><stop offset="0.084" stop-color="#ee841e"/><stop offset="0.110" stop-color="#ef951f"/><stop offset="0.149" stop-color="#ebd628"/><stop offset="0.188" stop-color="#b4d728"/><stop offset="0.227" stop-color="#5ec642"/><stop offset="0.240" stop-color="#4ac359"/><stop offset="0.266" stop-color="#35c39f"/><stop offset="0.292" stop-color="#28b9bf"/><stop offset="0.370" stop-color="#19a7e0"/><stop offset="0.474" stop-color="#1b8bdb"/><stop offset="0.578" stop-color="#1a9cde"/><stop offset="0.630" stop-color="#1daed8"/><stop offset="0.695" stop-color="#2dbeb6"/><stop offset="0.708" stop-color="#33c3a6"/><stop offset="0.747" stop-color="#50c347"/><stop offset="0.799" stop-color="#acd52b"/><stop offset="0.864" stop-color="#e4d728"/><stop offset="0.916" stop-color="#ecca26"/><stop offset="0.929" stop-color="#d9d728"/><stop offset="0.942" stop-color="#8ccf34"/><stop offset="0.955" stop-color="#3dc386"/><stop offset="0.968" stop-color="#19aae1"/><stop offset="0.981" stop-color="#1d62d4"/><stop offset="0.994" stop-color="#263cb4"/></linearGradient><linearGradient id="ha28"><stop offset="0.006" stop-color="#263bb3"/><stop offset="0.019" stop-color="#1e60d3"/><stop offset="0.032" stop-color="#1bacdd"/><stop offset="0.045" stop-color="#47c363"/><stop offset="0.058" stop-color="#bed728"/><stop offset="0.071" stop-color="#eeaa22"/><stop offset="0.084" stop-color="#ef891e"/><stop offset="0.110" stop-color="#ef9a20"/><stop offset="0.149" stop-color="#ebd728"/><stop offset="0.201" stop-color="#acd52a"/><stop offset="0.253" stop-color="#50c347"/><stop offset="0.292" stop-color="#35c3a0"/><stop offset="0.318" stop-color="#2abbbc"/><stop offset="0.435" stop-color="#19a8e1"/><stop offset="0.539" stop-color="#19a8e1"/><stop offset="0.656" stop-color="#2abbbd"/><stop offset="0.682" stop-color="#34c3a5"/><stop offset="0.721" stop-color="#4cc354"/><stop offset="0.747" stop-color="#70c93c"/><stop offset="0.799" stop-color="#b9d728"/><stop offset="0.864" stop-color="#e9d728"/><stop offset="0.903" stop-color="#ecc526"/><stop offset="0.916" stop-color="#ecca26"/><stop offset="0.929" stop-color="#ced728"/><stop offset="0.942" stop-color="#7acb39"/><stop offset="0.955" stop-color="#38c397"/><stop offset="0.968" stop-color="#19a4e0"/><stop offset="0.981" stop-color="#1e5fd3"/><stop offset="0.994" stop-color="#263bb3"/></linearGradient><linearGradient id="ha29"><stop offset="0.006" stop-color="#2739b1"/><stop offset="0.019" stop-color="#1e5ad2"/><stop offset="0.032" stop-color="#19a3e0"/><stop offset="0.045" stop-color="#3ec382"/><stop offset="0.058" stop-color="#a1d32e"/><stop offset="0.071" stop-color="#ecc826"/><stop offset="0.084" stop-color="#f0911f"/><stop offset="0.110" stop-color="#ef9f21"/><stop offset="0.149" stop-color="#ead728"/><stop offset="0.227" stop-color="#99d230"/><stop offset="0.279" stop-color="#50c347"/><stop offset="0.331" stop-color="#34c3a4"/><stop offset="0.383" stop-color="#27b8c3"/><stop offset="0.513" stop-color="#21b2d0"/><stop offset="0.617" stop-color="#2bbcb9"/><stop offset="0.643" stop-color="#33c3a6"/><stop offset="0.695" stop-color="#4dc34f"/><stop offset="0.747" stop-color="#8ecf34"/><stop offset="0.799" stop-color="#c1d728"/><stop offset="0.864" stop-color="#ebd227"/><stop offset="0.903" stop-color="#edbf25"/><stop offset="0.916" stop-color="#eccf27"/><stop offset="0.929" stop-color="#c1d728"/><stop offset="0.942" stop-color="#66c73f"/><stop offset="0.955" stop-color="#32c3ab"/><stop offset="0.968" stop-color="#1a9cde"/><stop offset="0.981" stop-color="#1e5ad2"/><stop offset="0.994" stop-color="#2739b1"/></linearGradient><linearGradient id="ha30"><stop offset="0.006" stop-color="#2835ad"/><stop offset="0.019" stop-color="#1f56ce"/><stop offset="0.032" stop-color="#1a97dd"/><stop offset="0.045" stop-color="#34c3a4"/><stop offset="0.058" stop-color="#7dcc39"/><stop offset="0.071" stop-color="#dbd728"/><stop offset="0.084" stop-color="#eea521"/><stop offset="0.097" stop-color="#ef9a20"/><stop offset="0.149" stop-color="#e8d728"/><stop offset="0.253" stop-color="#96d131"/><stop offset="0.318" stop-color="#50c346"/><stop offset="0.396" stop-color="#33c3a6"/><stop offset="0.474" stop-color="#2abbbc"/><stop offset="0.565" stop-color="#30c1ae"/><stop offset="0.617" stop-color="#3fc37d"/><stop offset="0.656" stop-color="#4fc34a"/><stop offset="0.773" stop-color="#b9d728"/><stop offset="0.851" stop-color="#ebd528"/><stop offset="0.890" stop-color="#edb924"/><stop offset="0.903" stop-color="#edb924"/><stop offset="0.916" stop-color="#e7d728"/><stop offset="0.929" stop-color="#add62a"/><stop offset="0.942" stop-color="#50c348"/><stop offset="0.955" stop-color="#2cbdb8"/><stop offset="0.968" stop-color="#1b91dc"/><stop offset="0.981" stop-color="#1f56ce"/><stop offset="0.994" stop-color="#2835ad"/></linearGradient><linearGradient id="ha31"><stop offset="0.006" stop-color="#2932a8"/><stop offset="0.019" stop-color="#2150c8"/><stop offset="0.032" stop-color="#1b87da"/><stop offset="0.045" stop-color="#2abbbc"/><stop offset="0.058" stop-color="#54c445"/><stop offset="0.071" stop-color="#bad728"/><stop offset="0.084" stop-color="#ecc826"/><stop offset="0.097" stop-color="#efa221"/><stop offset="0.149" stop-color="#e7d728"/><stop offset="0.201" stop-color="#c1d728"/><stop offset="0.292" stop-color="#96d131"/><stop offset="0.396" stop-color="#4ec34d"/><stop offset="0.461" stop-color="#43c370"/><stop offset="0.526" stop-color="#45c36c"/><stop offset="0.604" stop-color="#5bc543"/><stop offset="0.747" stop-color="#b6d728"/><stop offset="0.825" stop-color="#ddd728"/><stop offset="0.851" stop-color="#ecce27"/><stop offset="0.890" stop-color="#edb223"/><stop offset="0.903" stop-color="#edbf25"/><stop offset="0.916" stop-color="#d4d728"/><stop offset="0.929" stop-color="#8ecf33"/><stop offset="0.942" stop-color="#44c36d"/><stop offset="0.955" stop-color="#24b5c8"/><stop offset="0.968" stop-color="#1b84da"/><stop offset="0.981" stop-color="#2150c8"/><stop offset="0.994" stop-color="#2932a8"/></linearGradient><linearGradient id="ha32"><stop offset="0.006" stop-color="#2a2ea0"/><stop offset="0.019" stop-color="#2348c0"/><stop offset="0.032" stop-color="#1c75d7"/><stop offset="0.045" stop-color="#1fb0d4"/><stop offset="0.058" stop-color="#40c37c"/><stop offset="0.071" stop-color="#88ce35"/><stop offset="0.084" stop-color="#d2d728"/><stop offset="0.097" stop-color="#edbf25"/><stop offset="0.110" stop-color="#eeb023"/><stop offset="0.149" stop-color="#e6d728"/><stop offset="0.214" stop-color="#bfd728"/><stop offset="0.331" stop-color="#a3d42d"/><stop offset="0.461" stop-color="#77cb3a"/><stop offset="0.552" stop-color="#80cd38"/><stop offset="0.721" stop-color="#b9d728"/><stop offset="0.799" stop-color="#ced728"/><stop offset="0.838" stop-color="#ebd728"/><stop offset="0.877" stop-color="#edb323"/><stop offset="0.890" stop-color="#edb423"/><stop offset="0.903" stop-color="#e9d728"/><stop offset="0.916" stop-color="#b8d728"/><stop offset="0.929" stop-color="#66c73f"/><stop offset="0.942" stop-color="#37c399"/><stop offset="0.955" stop-color="#1caddb"/><stop offset="0.968" stop-color="#1c73d7"/><stop offset="0.981" stop-color="#2348c0"/><stop offset="0.994" stop-color="#2a2ea0"/></linearGradient><linearGradient id="ha33"><stop offset="0.006" stop-color="#2c2a97"/><stop offset="0.019" stop-color="#253eb6"/><stop offset="0.032" stop-color="#1e5fd3"/><stop offset="0.045" stop-color="#1a9bde"/><stop offset="0.058" stop-color="#2ebfb3"/><stop offset="0.071" stop-color="#4fc349"/><stop offset="0.084" stop-color="#a1d32e"/><stop offset="0.097" stop-color="#d7d728"/><stop offset="0.110" stop-color="#ecc926"/><stop offset="0.123" stop-color="#ecc125"/><stop offset="0.149" stop-color="#e6d728"/><stop offset="0.214" stop-color="#c2d728"/><stop offset="0.526" stop-color="#acd52b"/><stop offset="0.773" stop-color="#c5d728"/><stop offset="0.838" stop-color="#ebd528"/><stop offset="0.864" stop-color="#edbb24"/><stop offset="0.877" stop-color="#edb824"/><stop offset="0.890" stop-color="#ebd328"/><stop offset="0.903" stop-color="#c6d728"/><stop offset="0.916" stop-color="#85ce36"/><stop offset="0.929" stop-color="#46c367"/><stop offset="0.942" stop-color="#29babd"/><stop offset="0.955" stop-color="#1a97dd"/><stop offset="0.968" stop-color="#1e5fd3"/><stop offset="0.981" stop-color="#253eb6"/><stop offset="0.994" stop-color="#2c2a97"/></linearGradient><linearGradient id="ha34"><stop offset="0.006" stop-color="#2e258e"/><stop offset="0.019" stop-color="#2933a9"/><stop offset="0.032" stop-color="#214ec6"/><stop offset="0.045" stop-color="#1c7bd8"/><stop offset="0.058" stop-color="#1daed8"/><stop offset="0.071" stop-color="#37c39a"/><stop offset="0.084" stop-color="#5bc543"/><stop offset="0.097" stop-color="#9fd32e"/><stop offset="0.110" stop-color="#ccd728"/><stop offset="0.123" stop-color="#e5d728"/><stop offset="0.136" stop-color="#ebd528"/><stop offset="0.214" stop-color="#c5d728"/><stop offset="0.760" stop-color="#c5d728"/><stop offset="0.838" stop-color="#ebd528"/><stop offset="0.851" stop-color="#ecc926"/><stop offset="0.864" stop-color="#ecc926"/><stop offset="0.877" stop-color="#e3d728"/><stop offset="0.890" stop-color="#c3d728"/><stop offset="0.903" stop-color="#8ccf34"/><stop offset="0.916" stop-color="#4dc351"/><stop offset="0.929" stop-color="#31c2ac"/><stop offset="0.942" stop-color="#1bacdd"/><stop offset="0.955" stop-color="#1c79d8"/><stop offset="0.968" stop-color="#214ec6"/><stop offset="0.981" stop-color="#2933a9"/><stop offset="0.994" stop-color="#2e258e"/></linearGradient><linearGradient id="ha35"><stop offset="0.006" stop-color="#30238b"/><stop offset="0.019" stop-color="#2c2a99"/><stop offset="0.045" stop-color="#1f58d0"/><stop offset="0.058" stop-color="#1b89db"/><stop offset="0.071" stop-color="#21b2d0"/><stop offset="0.084" stop-color="#37c399"/><stop offset="0.097" stop-color="#50c347"/><stop offset="0.123" stop-color="#b5d728"/><stop offset="0.149" stop-color="#d9d728"/><stop offset="0.279" stop-color="#c3d728"/><stop offset="0.760" stop-color="#c8d728"/><stop offset="0.838" stop-color="#e4d728"/><stop offset="0.864" stop-color="#cad728"/><stop offset="0.877" stop-color="#acd52a"/><stop offset="0.890" stop-color="#79cb3a"/><stop offset="0.903" stop-color="#4ac35a"/><stop offset="0.916" stop-color="#32c3a9"/><stop offset="0.929" stop-color="#1fb0d5"/><stop offset="0.942" stop-color="#1b87da"/><stop offset="0.955" stop-color="#1f58d0"/><stop offset="0.981" stop-color="#2c2a99"/><stop offset="0.994" stop-color="#30238b"/></linearGradient><linearGradient id="ha36"><stop offset="0.006" stop-color="#33218a"/><stop offset="0.019" stop-color="#2f248c"/><stop offset="0.045" stop-color="#2541b9"/><stop offset="0.058" stop-color="#1e5bd2"/><stop offset="0.084" stop-color="#1daed7"/><stop offset="0.097" stop-color="#2fc0b0"/><stop offset="0.110" stop-color="#43c373"/><stop offset="0.123" stop-color="#5cc543"/><stop offset="0.149" stop-color="#a2d32d"/><stop offset="0.175" stop-color="#c3d728"/><stop offset="0.214" stop-color="#cbd728"/><stop offset="0.773" stop-color="#cdd728"/><stop offset="0.812" stop-color="#ccd728"/><stop offset="0.838" stop-color="#b6d728"/><stop offset="0.864" stop-color="#7acb39"/><stop offset="0.877" stop-color="#51c346"/><stop offset="0.903" stop-color="#2cbdb7"/><stop offset="0.916" stop-color="#1caddb"/><stop offset="0.942" stop-color="#1e5ad2"/><stop offset="0.968" stop-color="#2a2d9f"/><stop offset="0.981" stop-color="#2f248c"/><stop offset="0.994" stop-color="#33218a"/></linearGradient><linearGradient id="ha37"><stop offset="0.006" stop-color="#342089"/><stop offset="0.032" stop-color="#2e248c"/><stop offset="0.058" stop-color="#263db5"/><stop offset="0.084" stop-color="#1c76d7"/><stop offset="0.097" stop-color="#1a9bde"/><stop offset="0.110" stop-color="#22b3ce"/><stop offset="0.123" stop-color="#2fc0b0"/><stop offset="0.149" stop-color="#4ac35b"/><stop offset="0.162" stop-color="#5cc542"/><stop offset="0.201" stop-color="#9cd22f"/><stop offset="0.240" stop-color="#bed728"/><stop offset="0.318" stop-color="#cbd728"/><stop offset="0.721" stop-color="#c7d728"/><stop offset="0.773" stop-color="#b2d729"/><stop offset="0.825" stop-color="#6fc93d"/><stop offset="0.838" stop-color="#56c444"/><stop offset="0.877" stop-color="#2dbeb5"/><stop offset="0.890" stop-color="#20b1d2"/><stop offset="0.903" stop-color="#1a99de"/><stop offset="0.929" stop-color="#2053cb"/><stop offset="0.955" stop-color="#2b2d9e"/><stop offset="0.968" stop-color="#2e248c"/><stop offset="0.994" stop-color="#342089"/></linearGradient><linearGradient id="ha38"><stop offset="0.006" stop-color="#351f88"/><stop offset="0.045" stop-color="#30238b"/><stop offset="0.071" stop-color="#2833a9"/><stop offset="0.097" stop-color="#1f57cf"/><stop offset="0.136" stop-color="#19aae0"/><stop offset="0.175" stop-color="#34c3a4"/><stop offset="0.227" stop-color="#52c345"/><stop offset="0.292" stop-color="#8ccf34"/><stop offset="0.396" stop-color="#b2d729"/><stop offset="0.578" stop-color="#b2d729"/><stop offset="0.695" stop-color="#8ccf34"/><stop offset="0.773" stop-color="#4ec34c"/><stop offset="0.825" stop-color="#32c3aa"/><stop offset="0.864" stop-color="#19a8e1"/><stop offset="0.903" stop-color="#1f57cf"/><stop offset="0.942" stop-color="#2c2995"/><stop offset="0.981" stop-color="#342089"/><stop offset="0.994" stop-color="#351f88"/></linearGradient><linearGradient id="ha39"><stop offset="0.006" stop-color="#361f88"/><stop offset="0.071" stop-color="#2f238c"/><stop offset="0.110" stop-color="#263bb3"/><stop offset="0.149" stop-color="#1d69d5"/><stop offset="0.201" stop-color="#19aae0"/><stop offset="0.305" stop-color="#35c3a1"/><stop offset="0.409" stop-color="#3fc37f"/><stop offset="0.578" stop-color="#3fc380"/><stop offset="0.682" stop-color="#35c39f"/><stop offset="0.799" stop-color="#19a9e1"/><stop offset="0.864" stop-color="#1f57cf"/><stop offset="0.916" stop-color="#2c2895"/><stop offset="0.955" stop-color="#342089"/><stop offset="0.994" stop-color="#361f88"/></linearGradient><linearGradient id="ha40"><stop offset="0.006" stop-color="#361f88"/><stop offset="0.123" stop-color="#2d2793"/><stop offset="0.214" stop-color="#2054cc"/><stop offset="0.318" stop-color="#1c79d8"/><stop offset="0.630" stop-color="#1c7fd9"/><stop offset="0.747" stop-color="#1d66d4"/><stop offset="0.812" stop-color="#2347bf"/><stop offset="0.890" stop-color="#2f248c"/><stop offset="0.994" stop-color="#361f88"/></linearGradient><linearGradient id="ha41"><stop offset="0.006" stop-color="#361f88"/><stop offset="0.214" stop-color="#2d2792"/><stop offset="0.383" stop-color="#2931a7"/><stop offset="0.721" stop-color="#2a2ea0"/><stop offset="0.864" stop-color="#33218a"/><stop offset="0.994" stop-color="#361f88"/></linearGradient></defs><g transform="translate(20,217)" filter="url(#bl)" shape-rendering="crispEdges"><rect y="0" width="77" height="1" fill="url(#ha0)"/><rect y="1" width="77" height="1" fill="url(#ha1)"/><rect y="2" width="77" height="1" fill="url(#ha2)"/><rect y="3" width="77" height="1" fill="url(#ha3)"/><rect y="4" width="77" height="1" fill="url(#ha4)"/><rect y="5" width="77" height="1" fill="url(#ha5)"/><rect y="6" width="77" height="1" fill="url(#ha6)"/><rect y="7" width="77" height="1" fill="url(#ha7)"/><rect y="8" width="77" height="1" fill="url(#ha8)"/><rect y="9" width="77" height="1" fill="url(#ha9)"/><rect y="10" width="77" height="1" fill="url(#ha10)"/><rect y="11" width="77" height="1" fill="url(#ha11)"/><rect y="12" width="77" height="1" fill="url(#ha12)"/><rect y="13" width="77" height="1" fill="url(#ha13)"/><rect y="14" width="77" height="1" fill="url(#ha14)"/><rect y="15" width="77" height="1" fill="url(#ha15)"/><rect y="16" width="77" height="1" fill="url(#ha16)"/><rect y="17" width="77" height="1" fill="url(#ha17)"/><rect y="18" width="77" height="1" fill="url(#ha18)"/><rect y="19" width="77" height="1" fill="url(#ha19)"/><rect y="20" width="77" height="1" fill="url(#ha20)"/><rect y="21" width="77" height="1" fill="url(#ha21)"/><rect y="22" width="77" height="1" fill="url(#ha22)"/><rect y="23" width="77" height="1" fill="url(#ha23)"/><rect y="24" width="77" height="1" fill="url(#ha24)"/><rect y="25" width="77" height="1" fill="url(#ha25)"/><rect y="26" width="77" height="1" fill="url(#ha26)"/><rect y="27" width="77" height="1" fill="url(#ha27)"/><rect y="28" width="77" height="1" fill="url(#ha28)"/><rect y="29" width="77" height="1" fill="url(#ha29)"/><rect y="30" width="77" height="1" fill="url(#ha30)"/><rect y="31" width="77" height="1" fill="url(#ha31)"/><rect y="32" width="77" height="1" fill="url(#ha32)"/><rect y="33" width="77" height="1" fill="url(#ha33)"/><rect y="34" width="77" height="1" fill="url(#ha34)"/><rect y="35" width="77" height="1" fill="url(#ha35)"/><rect y="36" width="77" height="1" fill="url(#ha36)"/><rect y="37" width="77" height="1" fill="url(#ha37)"/><rect y="38" width="77" height="1" fill="url(#ha38)"/><rect y="39" width="77" height="1" fill="url(#ha39)"/><rect y="40" width="77" height="1" fill="url(#ha40)"/><rect y="41" width="77" height="1" fill="url(#ha41)"/></g>
<defs><linearGradient id="hb0"><stop offset="0.006" stop-color="#361f88"/><stop offset="0.292" stop-color="#2d2791"/><stop offset="0.448" stop-color="#2932a7"/><stop offset="0.656" stop-color="#2b2d9d"/><stop offset="0.786" stop-color="#33218a"/><stop offset="0.994" stop-color="#361f88"/></linearGradient><linearGradient id="hb1"><stop offset="0.006" stop-color="#361f88"/><stop offset="0.188" stop-color="#2e258e"/><stop offset="0.305" stop-color="#1e59d1"/><stop offset="0.409" stop-color="#1c7ed9"/><stop offset="0.591" stop-color="#1c7ed9"/><stop offset="0.708" stop-color="#2054cc"/><stop offset="0.812" stop-color="#2e258e"/><stop offset="0.994" stop-color="#361f88"/></linearGradient><linearGradient id="hb2"><stop offset="0.006" stop-color="#361f88"/><stop offset="0.136" stop-color="#2e248c"/><stop offset="0.188" stop-color="#2347bf"/><stop offset="0.227" stop-color="#1c75d7"/><stop offset="0.279" stop-color="#1bacdc"/><stop offset="0.383" stop-color="#37c399"/><stop offset="0.474" stop-color="#4bc357"/><stop offset="0.526" stop-color="#4cc354"/><stop offset="0.617" stop-color="#3ac390"/><stop offset="0.708" stop-color="#21b2cf"/><stop offset="0.734" stop-color="#19a5e0"/><stop offset="0.799" stop-color="#2053cb"/><stop offset="0.851" stop-color="#2c2997"/><stop offset="0.877" stop-color="#31228a"/><stop offset="0.994" stop-color="#361f88"/></linearGradient><linearGradient id="hb3"><stop offset="0.006" stop-color="#361f88"/><stop offset="0.097" stop-color="#30238b"/><stop offset="0.123" stop-color="#2a30a4"/><stop offset="0.162" stop-color="#1e62d3"/><stop offset="0.201" stop-color="#1bacde"/><stop offset="0.253" stop-color="#37c399"/><stop offset="0.305" stop-color="#49c35c"/><stop offset="0.344" stop-color="#54c445"/><stop offset="0.487" stop-color="#a5d42d"/><stop offset="0.539" stop-color="#9ad230"/><stop offset="0.643" stop-color="#59c543"/><stop offset="0.695" stop-color="#4cc355"/><stop offset="0.734" stop-color="#3fc37f"/><stop offset="0.773" stop-color="#2bbcba"/><stop offset="0.799" stop-color="#1aabdf"/><stop offset="0.838" stop-color="#1e62d3"/><stop offset="0.877" stop-color="#2a30a4"/><stop offset="0.903" stop-color="#30238b"/><stop offset="0.994" stop-color="#361f88"/></linearGradient><linearGradient id="hb4"><stop offset="0.006" stop-color="#361f88"/><stop offset="0.071" stop-color="#30228b"/><stop offset="0.084" stop-color="#2d2793"/><stop offset="0.123" stop-color="#1f57cf"/><stop offset="0.149" stop-color="#1a9bde"/><stop offset="0.162" stop-color="#20b1d1"/><stop offset="0.201" stop-color="#40c37b"/><stop offset="0.227" stop-color="#4dc350"/><stop offset="0.253" stop-color="#54c445"/><stop offset="0.357" stop-color="#5dc642"/><stop offset="0.487" stop-color="#a8d52c"/><stop offset="0.539" stop-color="#9dd22f"/><stop offset="0.643" stop-color="#5cc542"/><stop offset="0.760" stop-color="#4bc358"/><stop offset="0.786" stop-color="#42c374"/><stop offset="0.825" stop-color="#27b8c1"/><stop offset="0.838" stop-color="#1daed9"/><stop offset="0.864" stop-color="#1c77d7"/><stop offset="0.890" stop-color="#2443bb"/><stop offset="0.916" stop-color="#2d2793"/><stop offset="0.981" stop-color="#361f88"/><stop offset="0.994" stop-color="#361f88"/></linearGradient><linearGradient id="hb5"><stop offset="0.006" stop-color="#361f88"/><stop offset="0.058" stop-color="#2e248c"/><stop offset="0.084" stop-color="#263db5"/><stop offset="0.097" stop-color="#1f54cc"/><stop offset="0.123" stop-color="#19a6e0"/><stop offset="0.149" stop-color="#39c392"/><stop offset="0.162" stop-color="#48c360"/><stop offset="0.175" stop-color="#58c544"/><stop offset="0.201" stop-color="#6ec93d"/><stop offset="0.292" stop-color="#54c445"/><stop offset="0.383" stop-color="#63c740"/><stop offset="0.487" stop-color="#95d131"/><stop offset="0.552" stop-color="#86ce36"/><stop offset="0.656" stop-color="#56c444"/><stop offset="0.799" stop-color="#47c363"/><stop offset="0.825" stop-color="#40c37c"/><stop offset="0.864" stop-color="#21b2d0"/><stop offset="0.877" stop-color="#1a9cde"/><stop offset="0.903" stop-color="#2054cc"/><stop offset="0.929" stop-color="#2b2d9e"/><stop offset="0.942" stop-color="#2e248c"/><stop offset="0.994" stop-color="#361f88"/></linearGradient><linearGradient id="hb6"><stop offset="0.006" stop-color="#351f88"/><stop offset="0.045" stop-color="#2e258e"/><stop offset="0.071" stop-color="#2346be"/><stop offset="0.084" stop-color="#1d65d4"/><stop offset="0.097" stop-color="#1a97de"/><stop offset="0.110" stop-color="#27b8c1"/><stop offset="0.136" stop-color="#5ac543"/><stop offset="0.149" stop-color="#81cd37"/><stop offset="0.162" stop-color="#94d132"/><stop offset="0.253" stop-color="#5dc642"/><stop offset="0.344" stop-color="#55c445"/><stop offset="0.500" stop-color="#78cb3a"/><stop offset="0.708" stop-color="#4ec34b"/><stop offset="0.838" stop-color="#42c373"/><stop offset="0.851" stop-color="#3fc380"/><stop offset="0.877" stop-color="#2abbbb"/><stop offset="0.890" stop-color="#1daed8"/><stop offset="0.916" stop-color="#1d64d4"/><stop offset="0.942" stop-color="#2930a5"/><stop offset="0.955" stop-color="#2e258e"/><stop offset="0.994" stop-color="#351f88"/></linearGradient><linearGradient id="hb7"><stop offset="0.006" stop-color="#342089"/><stop offset="0.032" stop-color="#2e258e"/><stop offset="0.058" stop-color="#2349c1"/><stop offset="0.071" stop-color="#1d6ed6"/><stop offset="0.084" stop-color="#19aae1"/><stop offset="0.097" stop-color="#34c3a3"/><stop offset="0.110" stop-color="#58c544"/><stop offset="0.123" stop-color="#98d131"/><stop offset="0.136" stop-color="#bad728"/><stop offset="0.162" stop-color="#b1d629"/><stop offset="0.240" stop-color="#67c83f"/><stop offset="0.318" stop-color="#53c445"/><stop offset="0.578" stop-color="#48c360"/><stop offset="0.721" stop-color="#4ec34e"/><stop offset="0.864" stop-color="#3fc380"/><stop offset="0.877" stop-color="#3ac38f"/><stop offset="0.903" stop-color="#22b3cc"/><stop offset="0.916" stop-color="#1a99de"/><stop offset="0.929" stop-color="#1d6bd5"/><stop offset="0.955" stop-color="#2931a6"/><stop offset="0.968" stop-color="#2e258e"/><stop offset="0.994" stop-color="#342089"/></linearGradient><linearGradient id="hb8"><stop offset="0.006" stop-color="#33218a"/><stop offset="0.019" stop-color="#2f248c"/><stop offset="0.032" stop-color="#2a2ea0"/><stop offset="0.045" stop-color="#2445bd"/><stop offset="0.058" stop-color="#1d6bd5"/><stop offset="0.071" stop-color="#1bacde"/><stop offset="0.084" stop-color="#3cc388"/><stop offset="0.097" stop-color="#7ecc38"/><stop offset="0.110" stop-color="#c4d728"/><stop offset="0.123" stop-color="#ddd728"/><stop offset="0.175" stop-color="#b5d728"/><stop offset="0.240" stop-color="#6bc83e"/><stop offset="0.318" stop-color="#4dc34e"/><stop offset="0.474" stop-color="#32c3ab"/><stop offset="0.578" stop-color="#31c2ac"/><stop offset="0.669" stop-color="#40c37a"/><stop offset="0.734" stop-color="#4bc358"/><stop offset="0.799" stop-color="#46c366"/><stop offset="0.890" stop-color="#3ac38e"/><stop offset="0.903" stop-color="#31c2ac"/><stop offset="0.916" stop-color="#24b5c9"/><stop offset="0.929" stop-color="#1a99de"/><stop offset="0.942" stop-color="#1d68d5"/><stop offset="0.955" stop-color="#2445bd"/><stop offset="0.968" stop-color="#2a2ea0"/><stop offset="0.981" stop-color="#2f248c"/><stop offset="0.994" stop-color="#33218a"/></linearGradient><linearGradient id="hb9"><stop offset="0.006" stop-color="#31228b"/><stop offset="0.019" stop-color="#2c2997"/><stop offset="0.032" stop-color="#263cb4"/><stop offset="0.045" stop-color="#1e5cd2"/><stop offset="0.058" stop-color="#1aa1df"/><stop offset="0.071" stop-color="#3bc38d"/><stop offset="0.084" stop-color="#8ecf34"/><stop offset="0.097" stop-color="#dcd728"/><stop offset="0.110" stop-color="#ecc425"/><stop offset="0.136" stop-color="#ebd428"/><stop offset="0.201" stop-color="#9ed32e"/><stop offset="0.266" stop-color="#59c543"/><stop offset="0.292" stop-color="#4bc356"/><stop offset="0.383" stop-color="#2fc0b0"/><stop offset="0.487" stop-color="#24b5ca"/><stop offset="0.604" stop-color="#26b7c5"/><stop offset="0.682" stop-color="#32c3ab"/><stop offset="0.747" stop-color="#44c36e"/><stop offset="0.786" stop-color="#47c364"/><stop offset="0.903" stop-color="#39c393"/><stop offset="0.916" stop-color="#30c1ae"/><stop offset="0.929" stop-color="#22b3ce"/><stop offset="0.942" stop-color="#1b90dc"/><stop offset="0.955" stop-color="#1e5bd2"/><stop offset="0.981" stop-color="#2c2997"/><stop offset="0.994" stop-color="#31228b"/></linearGradient><linearGradient id="hb10"><stop offset="0.006" stop-color="#2e248c"/><stop offset="0.019" stop-color="#2931a6"/><stop offset="0.032" stop-color="#224dc5"/><stop offset="0.045" stop-color="#1b84da"/><stop offset="0.058" stop-color="#2fc0b2"/><stop offset="0.071" stop-color="#7fcc38"/><stop offset="0.084" stop-color="#e5d728"/><stop offset="0.097" stop-color="#eea321"/><stop offset="0.123" stop-color="#eea922"/><stop offset="0.162" stop-color="#e2d728"/><stop offset="0.214" stop-color="#96d131"/><stop offset="0.253" stop-color="#59c543"/><stop offset="0.331" stop-color="#2fc0b0"/><stop offset="0.448" stop-color="#19a6e0"/><stop offset="0.539" stop-color="#1a96dd"/><stop offset="0.630" stop-color="#1bacdd"/><stop offset="0.734" stop-color="#32c3a9"/><stop offset="0.786" stop-color="#42c375"/><stop offset="0.825" stop-color="#42c376"/><stop offset="0.916" stop-color="#37c399"/><stop offset="0.929" stop-color="#2dbeb5"/><stop offset="0.942" stop-color="#1caddb"/><stop offset="0.955" stop-color="#1c7bd8"/><stop offset="0.968" stop-color="#224dc5"/><stop offset="0.981" stop-color="#2931a6"/><stop offset="0.994" stop-color="#2e248c"/></linearGradient><linearGradient id="hb11"><stop offset="0.006" stop-color="#2c2895"/><stop offset="0.019" stop-color="#263bb3"/><stop offset="0.032" stop-color="#1e5ed3"/><stop offset="0.045" stop-color="#1caddb"/><stop offset="0.058" stop-color="#4fc34a"/><stop offset="0.071" stop-color="#d5d728"/><stop offset="0.084" stop-color="#f0931f"/><stop offset="0.097" stop-color="#ed821f"/><stop offset="0.123" stop-color="#f08b1e"/><stop offset="0.162" stop-color="#eccd27"/><stop offset="0.188" stop-color="#c9d728"/><stop offset="0.214" stop-color="#96d131"/><stop offset="0.240" stop-color="#59c543"/><stop offset="0.292" stop-color="#31c2ac"/><stop offset="0.383" stop-color="#19a5e0"/><stop offset="0.474" stop-color="#1c77d7"/><stop offset="0.565" stop-color="#1c73d7"/><stop offset="0.656" stop-color="#1a98de"/><stop offset="0.682" stop-color="#19aae1"/><stop offset="0.773" stop-color="#34c3a4"/><stop offset="0.812" stop-color="#3fc37f"/><stop offset="0.864" stop-color="#3cc388"/><stop offset="0.916" stop-color="#38c397"/><stop offset="0.929" stop-color="#34c3a3"/><stop offset="0.942" stop-color="#26b7c3"/><stop offset="0.955" stop-color="#1a97dd"/><stop offset="0.968" stop-color="#1e5cd2"/><stop offset="0.981" stop-color="#263bb3"/><stop offset="0.994" stop-color="#2c2895"/></linearGradient><linearGradient id="hb12"><stop offset="0.006" stop-color="#2b2d9d"/><stop offset="0.019" stop-color="#2346be"/><stop offset="0.032" stop-color="#1c78d8"/><stop offset="0.045" stop-color="#2fc0b1"/><stop offset="0.058" stop-color="#9fd32e"/><stop offset="0.071" stop-color="#eea521"/><stop offset="0.084" stop-color="#e87020"/><stop offset="0.110" stop-color="#e56720"/><stop offset="0.136" stop-color="#ee841e"/><stop offset="0.175" stop-color="#e9d728"/><stop offset="0.201" stop-color="#b1d629"/><stop offset="0.227" stop-color="#5ec642"/><stop offset="0.253" stop-color="#3cc388"/><stop offset="0.266" stop-color="#32c3a9"/><stop offset="0.344" stop-color="#19a4e0"/><stop offset="0.435" stop-color="#1d64d4"/><stop offset="0.526" stop-color="#2053cb"/><stop offset="0.617" stop-color="#1e61d3"/><stop offset="0.708" stop-color="#1a9edf"/><stop offset="0.721" stop-color="#19aae1"/><stop offset="0.799" stop-color="#33c3a6"/><stop offset="0.838" stop-color="#3dc385"/><stop offset="0.929" stop-color="#36c39d"/><stop offset="0.942" stop-color="#2ebfb3"/><stop offset="0.955" stop-color="#1bacdd"/><stop offset="0.968" stop-color="#1d72d6"/><stop offset="0.981" stop-color="#2346be"/><stop offset="0.994" stop-color="#2b2d9d"/></linearGradient><linearGradient id="hb13"><stop offset="0.006" stop-color="#2931a6"/><stop offset="0.019" stop-color="#214ec6"/><stop offset="0.032" stop-color="#1a92dd"/><stop offset="0.045" stop-color="#45c36b"/><stop offset="0.058" stop-color="#dad728"/><stop offset="0.071" stop-color="#e87220"/><stop offset="0.084" stop-color="#e15821"/><stop offset="0.110" stop-color="#de5022"/><stop offset="0.136" stop-color="#e87020"/><stop offset="0.162" stop-color="#eeaa22"/><stop offset="0.175" stop-color="#ebd127"/><stop offset="0.188" stop-color="#cbd728"/><stop offset="0.214" stop-color="#6bc83e"/><stop offset="0.227" stop-color="#49c35e"/><stop offset="0.240" stop-color="#3ac38f"/><stop offset="0.253" stop-color="#2fc0b0"/><stop offset="0.305" stop-color="#1bacdc"/><stop offset="0.396" stop-color="#1e5ed3"/><stop offset="0.500" stop-color="#2442ba"/><stop offset="0.617" stop-color="#224dc5"/><stop offset="0.682" stop-color="#1d6cd5"/><stop offset="0.747" stop-color="#19a8e1"/><stop offset="0.838" stop-color="#39c394"/><stop offset="0.877" stop-color="#3ac390"/><stop offset="0.929" stop-color="#36c39c"/><stop offset="0.942" stop-color="#33c3a8"/><stop offset="0.955" stop-color="#22b3cc"/><stop offset="0.968" stop-color="#1b84da"/><stop offset="0.981" stop-color="#214ec6"/><stop offset="0.994" stop-color="#2931a6"/></linearGradient><linearGradient id="hb14"><stop offset="0.006" stop-color="#2834ac"/><stop offset="0.019" stop-color="#1f55cd"/><stop offset="0.032" stop-color="#19aae0"/><stop offset="0.045" stop-color="#67c83f"/><stop offset="0.058" stop-color="#edb624"/><stop offset="0.071" stop-color="#e15a21"/><stop offset="0.084" stop-color="#db4522"/><stop offset="0.110" stop-color="#d93e23"/><stop offset="0.136" stop-color="#e36021"/><stop offset="0.162" stop-color="#efa121"/><stop offset="0.175" stop-color="#ebd728"/><stop offset="0.188" stop-color="#bed728"/><stop offset="0.214" stop-color="#4dc34f"/><stop offset="0.227" stop-color="#3bc38c"/><stop offset="0.240" stop-color="#2ebfb2"/><stop offset="0.292" stop-color="#19a6e0"/><stop offset="0.370" stop-color="#1e59d1"/><stop offset="0.487" stop-color="#2835ad"/><stop offset="0.604" stop-color="#263bb3"/><stop offset="0.695" stop-color="#1e5ed3"/><stop offset="0.773" stop-color="#1bacde"/><stop offset="0.851" stop-color="#37c398"/><stop offset="0.890" stop-color="#39c394"/><stop offset="0.942" stop-color="#34c3a3"/><stop offset="0.955" stop-color="#28b9c0"/><stop offset="0.968" stop-color="#1a92dd"/><stop offset="0.981" stop-color="#1f55cd"/><stop offset="0.994" stop-color="#2834ac"/></linearGradient><linearGradient id="hb15"><stop offset="0.006" stop-color="#2738b0"/><stop offset="0.019" stop-color="#1e5bd2"/><stop offset="0.032" stop-color="#22b3cd"/><stop offset="0.045" stop-color="#91d032"/><stop offset="0.058" stop-color="#f08e1e"/><stop offset="0.071" stop-color="#dd4d22"/><stop offset="0.084" stop-color="#d73723"/><stop offset="0.123" stop-color="#d93f23"/><stop offset="0.149" stop-color="#e9741f"/><stop offset="0.162" stop-color="#eea521"/><stop offset="0.175" stop-color="#dfd728"/><stop offset="0.188" stop-color="#a7d42c"/><stop offset="0.201" stop-color="#62c741"/><stop offset="0.214" stop-color="#40c37b"/><stop offset="0.227" stop-color="#30c1af"/><stop offset="0.266" stop-color="#1daed9"/><stop offset="0.292" stop-color="#1a92dd"/><stop offset="0.357" stop-color="#2054cc"/><stop offset="0.461" stop-color="#2a30a4"/><stop offset="0.578" stop-color="#2a2ea0"/><stop offset="0.682" stop-color="#224ac2"/><stop offset="0.734" stop-color="#1d6ed6"/><stop offset="0.786" stop-color="#19aae1"/><stop offset="0.864" stop-color="#37c399"/><stop offset="0.916" stop-color="#38c398"/><stop offset="0.942" stop-color="#35c3a0"/><stop offset="0.955" stop-color="#2cbdb7"/><stop offset="0.968" stop-color="#1a9edf"/><stop offset="0.981" stop-color="#1e5ad2"/><stop offset="0.994" stop-color="#2738b0"/></linearGradient><linearGradient id="hb16"><stop offset="0.006" stop-color="#263bb3"/><stop offset="0.019" stop-color="#1e62d3"/><stop offset="0.032" stop-color="#28b9bf"/><stop offset="0.045" stop-color="#b0d629"/><stop offset="0.058" stop-color="#ea781f"/><stop offset="0.071" stop-color="#db4522"/><stop offset="0.084" stop-color="#d73723"/><stop offset="0.123" stop-color="#d83a23"/><stop offset="0.149" stop-color="#e9741f"/><stop offset="0.162" stop-color="#eeb023"/><stop offset="0.175" stop-color="#d0d728"/><stop offset="0.188" stop-color="#8bcf34"/><stop offset="0.201" stop-color="#4bc356"/><stop offset="0.214" stop-color="#35c39f"/><stop offset="0.227" stop-color="#29babd"/><stop offset="0.266" stop-color="#19a4e0"/><stop offset="0.331" stop-color="#1e59d1"/><stop offset="0.422" stop-color="#2931a5"/><stop offset="0.513" stop-color="#2c2997"/><stop offset="0.617" stop-color="#2b2d9f"/><stop offset="0.708" stop-color="#214ec6"/><stop offset="0.760" stop-color="#1c7cd8"/><stop offset="0.799" stop-color="#1aabdf"/><stop offset="0.877" stop-color="#38c396"/><stop offset="0.942" stop-color="#36c39e"/><stop offset="0.955" stop-color="#2fc0b1"/><stop offset="0.968" stop-color="#19a6e0"/><stop offset="0.981" stop-color="#1e60d3"/><stop offset="0.994" stop-color="#263bb3"/></linearGradient><linearGradient id="hb17"><stop offset="0.006" stop-color="#263cb4"/><stop offset="0.019" stop-color="#1d67d4"/><stop offset="0.032" stop-color="#2dbeb6"/><stop offset="0.045" stop-color="#bed728"/><stop offset="0.058" stop-color="#e76e20"/><stop offset="0.071" stop-color="#db4322"/><stop offset="0.084" stop-color="#d73723"/><stop offset="0.123" stop-color="#d83923"/><stop offset="0.136" stop-color="#df5121"/><stop offset="0.149" stop-color="#eb7b1f"/><stop offset="0.162" stop-color="#edbf25"/><stop offset="0.175" stop-color="#c1d728"/><stop offset="0.188" stop-color="#73ca3b"/><stop offset="0.201" stop-color="#42c374"/><stop offset="0.214" stop-color="#2fc0b1"/><stop offset="0.253" stop-color="#19aae0"/><stop offset="0.318" stop-color="#1e5bd2"/><stop offset="0.409" stop-color="#2a30a3"/><stop offset="0.487" stop-color="#2c2997"/><stop offset="0.630" stop-color="#2b2c9c"/><stop offset="0.708" stop-color="#2347bf"/><stop offset="0.760" stop-color="#1d71d6"/><stop offset="0.799" stop-color="#19a2e0"/><stop offset="0.851" stop-color="#2dbeb4"/><stop offset="0.890" stop-color="#39c392"/><stop offset="0.942" stop-color="#36c39c"/><stop offset="0.955" stop-color="#31c2ad"/><stop offset="0.968" stop-color="#1aabdf"/><stop offset="0.981" stop-color="#1d64d4"/><stop offset="0.994" stop-color="#263cb4"/></linearGradient><linearGradient id="hb18"><stop offset="0.006" stop-color="#263db5"/><stop offset="0.019" stop-color="#1d69d5"/><stop offset="0.032" stop-color="#2fc0b1"/><stop offset="0.045" stop-color="#c4d728"/><stop offset="0.058" stop-color="#e76d20"/><stop offset="0.071" stop-color="#db4622"/><stop offset="0.084" stop-color="#d73723"/><stop offset="0.123" stop-color="#d93e23"/><stop offset="0.136" stop-color="#e05721"/><stop offset="0.149" stop-color="#ee851e"/><stop offset="0.162" stop-color="#eccd27"/><stop offset="0.175" stop-color="#b5d728"/><stop offset="0.188" stop-color="#63c740"/><stop offset="0.201" stop-color="#3dc387"/><stop offset="0.214" stop-color="#2cbdb8"/><stop offset="0.253" stop-color="#19a5e0"/><stop offset="0.318" stop-color="#1f57cf"/><stop offset="0.409" stop-color="#2a2d9f"/><stop offset="0.539" stop-color="#2c2997"/><stop offset="0.643" stop-color="#2b2c9c"/><stop offset="0.721" stop-color="#224bc3"/><stop offset="0.760" stop-color="#1d6bd5"/><stop offset="0.812" stop-color="#1bacdd"/><stop offset="0.877" stop-color="#37c39a"/><stop offset="0.903" stop-color="#39c391"/><stop offset="0.942" stop-color="#37c399"/><stop offset="0.955" stop-color="#32c3ab"/><stop offset="0.968" stop-color="#1bacdc"/><stop offset="0.981" stop-color="#1d66d4"/><stop offset="0.994" stop-color="#263db5"/></linearGradient><linearGradient id="hb19"><stop offset="0.006" stop-color="#253eb6"/><stop offset="0.019" stop-color="#1d6ad5"/><stop offset="0.032" stop-color="#2fc0b0"/><stop offset="0.045" stop-color="#c4d728"/><stop offset="0.058" stop-color="#e87120"/><stop offset="0.071" stop-color="#dd4c22"/><stop offset="0.084" stop-color="#d83923"/><stop offset="0.110" stop-color="#d73823"/><stop offset="0.136" stop-color="#e36021"/><stop offset="0.149" stop-color="#f08f1e"/><stop offset="0.162" stop-color="#ebd728"/><stop offset="0.175" stop-color="#add62a"/><stop offset="0.188" stop-color="#5cc542"/><stop offset="0.201" stop-color="#3bc38d"/><stop offset="0.214" stop-color="#2bbcba"/><stop offset="0.253" stop-color="#19a4e0"/><stop offset="0.318" stop-color="#1f56ce"/><stop offset="0.409" stop-color="#2b2d9e"/><stop offset="0.578" stop-color="#2c2997"/><stop offset="0.656" stop-color="#2a2ea1"/><stop offset="0.747" stop-color="#1e5bd2"/><stop offset="0.812" stop-color="#1aabdf"/><stop offset="0.877" stop-color="#37c398"/><stop offset="0.903" stop-color="#3ac38e"/><stop offset="0.942" stop-color="#38c396"/><stop offset="0.955" stop-color="#33c3a8"/><stop offset="0.968" stop-color="#1cadda"/><stop offset="0.981" stop-color="#1d67d4"/><stop offset="0.994" stop-color="#253eb6"/></linearGradient><linearGradient id="hb20"><stop offset="0.006" stop-color="#253eb6"/><stop offset="0.019" stop-color="#1d6ad5"/><stop offset="0.032" stop-color="#2ebfb2"/><stop offset="0.045" stop-color="#bed728"/><stop offset="0.058" stop-color="#eb7a1f"/><stop offset="0.071" stop-color="#e05521"/><stop offset="0.084" stop-color="#da4322"/><stop offset="0.110" stop-color="#db4322"/><stop offset="0.136" stop-color="#e76d20"/><stop offset="0.149" stop-color="#ef9920"/><stop offset="0.162" stop-color="#e6d728"/><stop offset="0.175" stop-color="#abd52b"/><stop offset="0.188" stop-color="#5ec642"/><stop offset="0.201" stop-color="#3cc388"/><stop offset="0.214" stop-color="#2cbdb7"/><stop offset="0.253" stop-color="#19a7e0"/><stop offset="0.318" stop-color="#1e58d0"/><stop offset="0.409" stop-color="#2a2ea0"/><stop offset="0.513" stop-color="#2c2997"/><stop offset="0.643" stop-color="#2b2d9e"/><stop offset="0.734" stop-color="#2054cc"/><stop offset="0.812" stop-color="#1bacdc"/><stop offset="0.877" stop-color="#39c394"/><stop offset="0.903" stop-color="#3bc38b"/><stop offset="0.942" stop-color="#39c393"/><stop offset="0.955" stop-color="#33c3a5"/><stop offset="0.968" stop-color="#1cadda"/><stop offset="0.981" stop-color="#1d67d4"/><stop offset="0.994" stop-color="#253eb6"/></linearGradient><linearGradient id="hb21"><stop offset="0.006" stop-color="#253eb6"/><stop offset="0.019" stop-color="#1d6ad5"/><stop offset="0.032" stop-color="#2dbeb5"/><stop offset="0.045" stop-color="#b6d728"/><stop offset="0.058" stop-color="#ee861e"/><stop offset="0.071" stop-color="#e36021"/><stop offset="0.084" stop-color="#de4f22"/><stop offset="0.110" stop-color="#df5121"/><stop offset="0.136" stop-color="#eb7b1f"/><stop offset="0.149" stop-color="#eea321"/><stop offset="0.162" stop-color="#e4d728"/><stop offset="0.175" stop-color="#aed62a"/><stop offset="0.188" stop-color="#67c83f"/><stop offset="0.201" stop-color="#41c379"/><stop offset="0.214" stop-color="#2fc0b0"/><stop offset="0.253" stop-color="#1bacdd"/><stop offset="0.331" stop-color="#1f55cd"/><stop offset="0.422" stop-color="#2a2ea0"/><stop offset="0.526" stop-color="#2c2997"/><stop offset="0.630" stop-color="#2b2d9e"/><stop offset="0.721" stop-color="#2051c9"/><stop offset="0.786" stop-color="#1a95dd"/><stop offset="0.799" stop-color="#19a6e0"/><stop offset="0.864" stop-color="#36c39e"/><stop offset="0.890" stop-color="#3dc386"/><stop offset="0.942" stop-color="#3ac38f"/><stop offset="0.955" stop-color="#34c3a3"/><stop offset="0.968" stop-color="#1cadda"/><stop offset="0.981" stop-color="#1d67d4"/><stop offset="0.994" stop-color="#253eb6"/></linearGradient><linearGradient id="hb22"><stop offset="0.006" stop-color="#253eb6"/><stop offset="0.019" stop-color="#1d69d5"/><stop offset="0.032" stop-color="#2bbcba"/><stop offset="0.045" stop-color="#a7d42c"/><stop offset="0.058" stop-color="#ef951f"/><stop offset="0.071" stop-color="#e76c20"/><stop offset="0.084" stop-color="#e25c21"/><stop offset="0.110" stop-color="#e36021"/><stop offset="0.136" stop-color="#ef8a1e"/><stop offset="0.162" stop-color="#e3d728"/><stop offset="0.175" stop-color="#b4d728"/><stop offset="0.188" stop-color="#74ca3b"/><stop offset="0.201" stop-color="#47c363"/><stop offset="0.214" stop-color="#35c39f"/><stop offset="0.227" stop-color="#2abbbb"/><stop offset="0.266" stop-color="#19a9e1"/><stop offset="0.344" stop-color="#1f55cd"/><stop offset="0.435" stop-color="#2930a5"/><stop offset="0.552" stop-color="#2c2a98"/><stop offset="0.656" stop-color="#2739b1"/><stop offset="0.734" stop-color="#1d65d4"/><stop offset="0.786" stop-color="#1aa1df"/><stop offset="0.851" stop-color="#33c3a7"/><stop offset="0.877" stop-color="#3dc385"/><stop offset="0.942" stop-color="#3bc38b"/><stop offset="0.955" stop-color="#34c3a2"/><stop offset="0.968" stop-color="#1caddb"/><stop offset="0.981" stop-color="#1d67d4"/><stop offset="0.994" stop-color="#253eb6"/></linearGradient><linearGradient id="hb23"><stop offset="0.006" stop-color="#263db5"/><stop offset="0.019" stop-color="#1d68d5"/><stop offset="0.032" stop-color="#28b9c0"/><stop offset="0.045" stop-color="#95d131"/><stop offset="0.058" stop-color="#eea822"/><stop offset="0.071" stop-color="#ea781f"/><stop offset="0.084" stop-color="#e66920"/><stop offset="0.110" stop-color="#e76f20"/><stop offset="0.136" stop-color="#ef9a20"/><stop offset="0.162" stop-color="#e0d728"/><stop offset="0.175" stop-color="#b9d728"/><stop offset="0.201" stop-color="#4fc349"/><stop offset="0.214" stop-color="#3ec383"/><stop offset="0.227" stop-color="#30c1ae"/><stop offset="0.279" stop-color="#19aae1"/><stop offset="0.357" stop-color="#1f58d0"/><stop offset="0.461" stop-color="#2833aa"/><stop offset="0.565" stop-color="#2a30a3"/><stop offset="0.669" stop-color="#2348c0"/><stop offset="0.721" stop-color="#1d69d5"/><stop offset="0.773" stop-color="#1aa2df"/><stop offset="0.838" stop-color="#32c3ab"/><stop offset="0.864" stop-color="#3dc385"/><stop offset="0.890" stop-color="#40c37c"/><stop offset="0.942" stop-color="#3dc387"/><stop offset="0.955" stop-color="#34c3a3"/><stop offset="0.968" stop-color="#1bacdd"/><stop offset="0.981" stop-color="#1d65d4"/><stop offset="0.994" stop-color="#263db5"/></linearGradient><linearGradient id="hb24"><stop offset="0.006" stop-color="#263cb4"/><stop offset="0.019" stop-color="#1d65d4"/><stop offset="0.032" stop-color="#24b5c9"/><stop offset="0.045" stop-color="#7ecc38"/><stop offset="0.058" stop-color="#edbf25"/><stop offset="0.071" stop-color="#ee851e"/><stop offset="0.084" stop-color="#ea761f"/><stop offset="0.110" stop-color="#ec7e1f"/><stop offset="0.136" stop-color="#eeaa22"/><stop offset="0.149" stop-color="#ecc926"/><stop offset="0.162" stop-color="#dcd728"/><stop offset="0.175" stop-color="#bbd728"/><stop offset="0.201" stop-color="#60c641"/><stop offset="0.214" stop-color="#46c366"/><stop offset="0.227" stop-color="#39c392"/><stop offset="0.240" stop-color="#2fc0b0"/><stop offset="0.292" stop-color="#1bacdc"/><stop offset="0.383" stop-color="#1e59d1"/><stop offset="0.500" stop-color="#2739b1"/><stop offset="0.617" stop-color="#2443bb"/><stop offset="0.695" stop-color="#1d67d4"/><stop offset="0.760" stop-color="#19a8e1"/><stop offset="0.825" stop-color="#32c3aa"/><stop offset="0.864" stop-color="#41c379"/><stop offset="0.942" stop-color="#3ec383"/><stop offset="0.955" stop-color="#33c3a8"/><stop offset="0.968" stop-color="#19aae1"/><stop offset="0.981" stop-color="#1d63d4"/><stop offset="0.994" stop-color="#263cb4"/></linearGradient><linearGradient id="hb25"><stop offset="0.006" stop-color="#263bb3"/><stop offset="0.019" stop-color="#1e60d3"/><stop offset="0.032" stop-color="#1fb0d3"/><stop offset="0.045" stop-color="#63c740"/><stop offset="0.058" stop-color="#e7d728"/><stop offset="0.071" stop-color="#f0921f"/><stop offset="0.084" stop-color="#ee841e"/><stop offset="0.110" stop-color="#f08c1e"/><stop offset="0.149" stop-color="#ebd728"/><stop offset="0.175" stop-color="#bbd728"/><stop offset="0.214" stop-color="#4fc34b"/><stop offset="0.240" stop-color="#38c396"/><stop offset="0.253" stop-color="#30c1ae"/><stop offset="0.305" stop-color="#20b1d3"/><stop offset="0.318" stop-color="#1aabdf"/><stop offset="0.409" stop-color="#1e60d3"/><stop offset="0.513" stop-color="#2348c0"/><stop offset="0.630" stop-color="#1f57cf"/><stop offset="0.708" stop-color="#1b8cdb"/><stop offset="0.734" stop-color="#19a5e0"/><stop offset="0.812" stop-color="#34c3a4"/><stop offset="0.851" stop-color="#42c374"/><stop offset="0.929" stop-color="#41c378"/><stop offset="0.942" stop-color="#3fc37f"/><stop offset="0.955" stop-color="#30c1ae"/><stop offset="0.968" stop-color="#19a4e0"/><stop offset="0.981" stop-color="#1e5fd3"/><stop offset="0.994" stop-color="#263bb3"/></linearGradient><linearGradient id="hb26"><stop offset="0.006" stop-color="#2738b0"/><stop offset="0.019" stop-color="#1e5ad2"/><stop offset="0.032" stop-color="#1aabe0"/><stop offset="0.045" stop-color="#4bc356"/><stop offset="0.058" stop-color="#cdd728"/><stop offset="0.071" stop-color="#efa221"/><stop offset="0.084" stop-color="#f0921f"/><stop offset="0.110" stop-color="#ef9c20"/><stop offset="0.136" stop-color="#ecc926"/><stop offset="0.149" stop-color="#e0d728"/><stop offset="0.188" stop-color="#99d230"/><stop offset="0.214" stop-color="#5dc642"/><stop offset="0.240" stop-color="#42c376"/><stop offset="0.266" stop-color="#32c3a9"/><stop offset="0.305" stop-color="#27b8c3"/><stop offset="0.357" stop-color="#19a5e0"/><stop offset="0.448" stop-color="#1d6bd5"/><stop offset="0.539" stop-color="#1e5bd2"/><stop offset="0.630" stop-color="#1c74d7"/><stop offset="0.708" stop-color="#19aae0"/><stop offset="0.786" stop-color="#31c2ab"/><stop offset="0.825" stop-color="#41c377"/><stop offset="0.864" stop-color="#45c36a"/><stop offset="0.929" stop-color="#42c374"/><stop offset="0.942" stop-color="#3fc37f"/><stop offset="0.955" stop-color="#2dbeb5"/><stop offset="0.968" stop-color="#1a9cde"/><stop offset="0.981" stop-color="#1e5ad2"/><stop offset="0.994" stop-color="#2738b0"/></linearGradient><linearGradient id="hb27"><stop offset="0.006" stop-color="#2834ac"/><stop offset="0.019" stop-color="#1f55cd"/><stop offset="0.032" stop-color="#1a9bde"/><stop offset="0.045" stop-color="#3ec383"/><stop offset="0.058" stop-color="#acd52a"/><stop offset="0.071" stop-color="#edc025"/><stop offset="0.084" stop-color="#efa221"/><stop offset="0.110" stop-color="#eeac22"/><stop offset="0.136" stop-color="#ead728"/><stop offset="0.188" stop-color="#95d131"/><stop offset="0.227" stop-color="#53c445"/><stop offset="0.292" stop-color="#32c3ab"/><stop offset="0.383" stop-color="#1daed8"/><stop offset="0.409" stop-color="#19a2e0"/><stop offset="0.500" stop-color="#1c80d9"/><stop offset="0.591" stop-color="#1b88db"/><stop offset="0.669" stop-color="#1bacdc"/><stop offset="0.760" stop-color="#31c2ab"/><stop offset="0.812" stop-color="#44c36d"/><stop offset="0.851" stop-color="#47c364"/><stop offset="0.929" stop-color="#43c370"/><stop offset="0.942" stop-color="#3cc388"/><stop offset="0.955" stop-color="#28b9c0"/><stop offset="0.968" stop-color="#1b90dc"/><stop offset="0.981" stop-color="#1f55cd"/><stop offset="0.994" stop-color="#2834ac"/></linearGradient><linearGradient id="hb28"><stop offset="0.006" stop-color="#2931a6"/><stop offset="0.019" stop-color="#214ec6"/><stop offset="0.032" stop-color="#1b88db"/><stop offset="0.045" stop-color="#2fc0b0"/><stop offset="0.058" stop-color="#7acb39"/><stop offset="0.071" stop-color="#dcd728"/><stop offset="0.084" stop-color="#edb323"/><stop offset="0.110" stop-color="#edbd24"/><stop offset="0.136" stop-color="#e0d728"/><stop offset="0.188" stop-color="#8dcf34"/><stop offset="0.240" stop-color="#50c346"/><stop offset="0.331" stop-color="#30c1af"/><stop offset="0.500" stop-color="#19a8e1"/><stop offset="0.604" stop-color="#1daed8"/><stop offset="0.721" stop-color="#30c1ae"/><stop offset="0.799" stop-color="#47c362"/><stop offset="0.851" stop-color="#48c360"/><stop offset="0.929" stop-color="#44c36f"/><stop offset="0.942" stop-color="#37c39a"/><stop offset="0.955" stop-color="#22b3ce"/><stop offset="0.968" stop-color="#1b82da"/><stop offset="0.981" stop-color="#214ec6"/><stop offset="0.994" stop-color="#2931a6"/></linearGradient><linearGradient id="hb29"><stop offset="0.006" stop-color="#2b2d9d"/><stop offset="0.019" stop-color="#2346be"/><stop offset="0.032" stop-color="#1c73d7"/><stop offset="0.045" stop-color="#22b3cd"/><stop offset="0.058" stop-color="#4bc356"/><stop offset="0.071" stop-color="#b3d728"/><stop offset="0.084" stop-color="#ebd528"/><stop offset="0.097" stop-color="#ecc526"/><stop offset="0.123" stop-color="#e5d728"/><stop offset="0.175" stop-color="#99d230"/><stop offset="0.214" stop-color="#6ac83e"/><stop offset="0.266" stop-color="#4dc350"/><stop offset="0.383" stop-color="#30c1af"/><stop offset="0.500" stop-color="#26b7c4"/><stop offset="0.643" stop-color="#2cbdb8"/><stop offset="0.695" stop-color="#36c39e"/><stop offset="0.773" stop-color="#49c35d"/><stop offset="0.825" stop-color="#4bc358"/><stop offset="0.916" stop-color="#46c366"/><stop offset="0.929" stop-color="#40c37a"/><stop offset="0.942" stop-color="#2fc0b1"/><stop offset="0.955" stop-color="#1aabdf"/><stop offset="0.968" stop-color="#1d71d6"/><stop offset="0.981" stop-color="#2346be"/><stop offset="0.994" stop-color="#2b2d9d"/></linearGradient><linearGradient id="hb30"><stop offset="0.006" stop-color="#2c2895"/><stop offset="0.019" stop-color="#263bb3"/><stop offset="0.032" stop-color="#1e5dd2"/><stop offset="0.045" stop-color="#1a9fdf"/><stop offset="0.058" stop-color="#35c3a0"/><stop offset="0.071" stop-color="#72ca3c"/><stop offset="0.084" stop-color="#c4d728"/><stop offset="0.097" stop-color="#e7d728"/><stop offset="0.123" stop-color="#d9d728"/><stop offset="0.175" stop-color="#91d033"/><stop offset="0.214" stop-color="#67c83f"/><stop offset="0.292" stop-color="#4ec34d"/><stop offset="0.461" stop-color="#33c3a8"/><stop offset="0.578" stop-color="#31c2ac"/><stop offset="0.669" stop-color="#3ec382"/><stop offset="0.760" stop-color="#4dc350"/><stop offset="0.903" stop-color="#48c360"/><stop offset="0.916" stop-color="#45c36a"/><stop offset="0.929" stop-color="#38c395"/><stop offset="0.942" stop-color="#26b7c5"/><stop offset="0.955" stop-color="#1a95dd"/><stop offset="0.968" stop-color="#1e5cd2"/><stop offset="0.981" stop-color="#263bb3"/><stop offset="0.994" stop-color="#2c2895"/></linearGradient><linearGradient id="hb31"><stop offset="0.006" stop-color="#2e248c"/><stop offset="0.019" stop-color="#2931a6"/><stop offset="0.032" stop-color="#224dc5"/><stop offset="0.045" stop-color="#1c7dd9"/><stop offset="0.058" stop-color="#22b3cd"/><stop offset="0.071" stop-color="#43c373"/><stop offset="0.084" stop-color="#84cd36"/><stop offset="0.097" stop-color="#c1d728"/><stop offset="0.110" stop-color="#d5d728"/><stop offset="0.149" stop-color="#b0d629"/><stop offset="0.201" stop-color="#70c93d"/><stop offset="0.266" stop-color="#59c543"/><stop offset="0.357" stop-color="#4ec34c"/><stop offset="0.500" stop-color="#42c376"/><stop offset="0.604" stop-color="#44c36d"/><stop offset="0.734" stop-color="#50c346"/><stop offset="0.903" stop-color="#48c361"/><stop offset="0.916" stop-color="#3ec384"/><stop offset="0.929" stop-color="#2dbeb4"/><stop offset="0.942" stop-color="#1bacdd"/><stop offset="0.955" stop-color="#1c7ad8"/><stop offset="0.968" stop-color="#224dc5"/><stop offset="0.981" stop-color="#2931a6"/><stop offset="0.994" stop-color="#2e248c"/></linearGradient><linearGradient id="hb32"><stop offset="0.006" stop-color="#31228b"/><stop offset="0.019" stop-color="#2c2997"/><stop offset="0.045" stop-color="#1e5bd2"/><stop offset="0.058" stop-color="#1a94dd"/><stop offset="0.071" stop-color="#2abbbc"/><stop offset="0.084" stop-color="#47c364"/><stop offset="0.097" stop-color="#7fcc38"/><stop offset="0.110" stop-color="#b0d629"/><stop offset="0.123" stop-color="#bfd728"/><stop offset="0.201" stop-color="#71ca3c"/><stop offset="0.266" stop-color="#61c641"/><stop offset="0.461" stop-color="#5dc642"/><stop offset="0.760" stop-color="#55c444"/><stop offset="0.877" stop-color="#4cc354"/><stop offset="0.890" stop-color="#49c35c"/><stop offset="0.903" stop-color="#40c37c"/><stop offset="0.916" stop-color="#31c2ac"/><stop offset="0.929" stop-color="#21b2d0"/><stop offset="0.942" stop-color="#1b8edc"/><stop offset="0.955" stop-color="#1e5ad2"/><stop offset="0.981" stop-color="#2c2997"/><stop offset="0.994" stop-color="#31228b"/></linearGradient><linearGradient id="hb33"><stop offset="0.006" stop-color="#33218a"/><stop offset="0.019" stop-color="#2f248c"/><stop offset="0.032" stop-color="#2a2ea0"/><stop offset="0.045" stop-color="#2445bd"/><stop offset="0.058" stop-color="#1d69d5"/><stop offset="0.071" stop-color="#1a9fdf"/><stop offset="0.084" stop-color="#2bbcb9"/><stop offset="0.097" stop-color="#44c36f"/><stop offset="0.110" stop-color="#69c83e"/><stop offset="0.123" stop-color="#91d032"/><stop offset="0.136" stop-color="#a4d42d"/><stop offset="0.214" stop-color="#72ca3c"/><stop offset="0.331" stop-color="#78cb3a"/><stop offset="0.513" stop-color="#83cd37"/><stop offset="0.864" stop-color="#4ec34b"/><stop offset="0.877" stop-color="#4ac35a"/><stop offset="0.890" stop-color="#40c37c"/><stop offset="0.903" stop-color="#31c2ab"/><stop offset="0.916" stop-color="#23b4cc"/><stop offset="0.929" stop-color="#1a98de"/><stop offset="0.942" stop-color="#1d68d5"/><stop offset="0.955" stop-color="#2445bd"/><stop offset="0.968" stop-color="#2a2ea0"/><stop offset="0.981" stop-color="#2f248c"/><stop offset="0.994" stop-color="#33218a"/></linearGradient><linearGradient id="hb34"><stop offset="0.006" stop-color="#342089"/><stop offset="0.032" stop-color="#2e258e"/><stop offset="0.058" stop-color="#2349c1"/><stop offset="0.071" stop-color="#1d6cd5"/><stop offset="0.084" stop-color="#1a9ddf"/><stop offset="0.097" stop-color="#27b8c1"/><stop offset="0.123" stop-color="#4dc34f"/><stop offset="0.149" stop-color="#85ce36"/><stop offset="0.162" stop-color="#8fd033"/><stop offset="0.227" stop-color="#7ecc38"/><stop offset="0.461" stop-color="#a9d52b"/><stop offset="0.617" stop-color="#95d131"/><stop offset="0.851" stop-color="#50c346"/><stop offset="0.864" stop-color="#48c360"/><stop offset="0.890" stop-color="#2fc0b0"/><stop offset="0.903" stop-color="#21b2cf"/><stop offset="0.916" stop-color="#1a97dd"/><stop offset="0.929" stop-color="#1d6bd5"/><stop offset="0.955" stop-color="#2931a6"/><stop offset="0.968" stop-color="#2e258e"/><stop offset="0.994" stop-color="#342089"/></linearGradient><linearGradient id="hb35"><stop offset="0.006" stop-color="#351f88"/><stop offset="0.045" stop-color="#2e258e"/><stop offset="0.071" stop-color="#2346be"/><stop offset="0.084" stop-color="#1d64d4"/><stop offset="0.097" stop-color="#1b90dc"/><stop offset="0.110" stop-color="#1fb0d3"/><stop offset="0.123" stop-color="#2fc0b1"/><stop offset="0.149" stop-color="#4cc353"/><stop offset="0.162" stop-color="#62c741"/><stop offset="0.188" stop-color="#84cd36"/><stop offset="0.409" stop-color="#c2d728"/><stop offset="0.552" stop-color="#c0d728"/><stop offset="0.695" stop-color="#93d032"/><stop offset="0.812" stop-color="#67c83f"/><stop offset="0.838" stop-color="#4cc352"/><stop offset="0.877" stop-color="#29babd"/><stop offset="0.890" stop-color="#1cadda"/><stop offset="0.916" stop-color="#1d63d4"/><stop offset="0.942" stop-color="#2930a5"/><stop offset="0.955" stop-color="#2e258e"/><stop offset="0.994" stop-color="#351f88"/></linearGradient><linearGradient id="hb36"><stop offset="0.006" stop-color="#361f88"/><stop offset="0.058" stop-color="#2e248c"/><stop offset="0.084" stop-color="#263db5"/><stop offset="0.097" stop-color="#2054cc"/><stop offset="0.123" stop-color="#1a9dde"/><stop offset="0.149" stop-color="#2dbeb4"/><stop offset="0.188" stop-color="#50c348"/><stop offset="0.227" stop-color="#8bcf34"/><stop offset="0.305" stop-color="#b6d728"/><stop offset="0.461" stop-color="#d8d728"/><stop offset="0.591" stop-color="#c7d728"/><stop offset="0.760" stop-color="#81cd37"/><stop offset="0.799" stop-color="#5bc543"/><stop offset="0.812" stop-color="#4bc355"/><stop offset="0.851" stop-color="#2bbcba"/><stop offset="0.864" stop-color="#1fb0d4"/><stop offset="0.877" stop-color="#1a9ade"/><stop offset="0.903" stop-color="#2054cc"/><stop offset="0.929" stop-color="#2b2d9e"/><stop offset="0.942" stop-color="#2e248c"/><stop offset="0.994" stop-color="#361f88"/></linearGradient><linearGradient id="hb37"><stop offset="0.006" stop-color="#361f88"/><stop offset="0.071" stop-color="#30228b"/><stop offset="0.084" stop-color="#2d2793"/><stop offset="0.123" stop-color="#1f57cf"/><stop offset="0.162" stop-color="#1caddb"/><stop offset="0.201" stop-color="#39c394"/><stop offset="0.227" stop-color="#4cc355"/><stop offset="0.253" stop-color="#70c93d"/><stop offset="0.305" stop-color="#aed62a"/><stop offset="0.396" stop-color="#cfd728"/><stop offset="0.526" stop-color="#d4d728"/><stop offset="0.669" stop-color="#abd52b"/><stop offset="0.721" stop-color="#88ce35"/><stop offset="0.760" stop-color="#56c444"/><stop offset="0.786" stop-color="#41c376"/><stop offset="0.812" stop-color="#2ebfb2"/><stop offset="0.838" stop-color="#1bacdd"/><stop offset="0.877" stop-color="#1f57cf"/><stop offset="0.916" stop-color="#2d2793"/><stop offset="0.981" stop-color="#361f88"/><stop offset="0.994" stop-color="#361f88"/></linearGradient><linearGradient id="hb38"><stop offset="0.006" stop-color="#361f88"/><stop offset="0.097" stop-color="#30238b"/><stop offset="0.123" stop-color="#2a30a4"/><stop offset="0.162" stop-color="#1e61d3"/><stop offset="0.201" stop-color="#19a7e0"/><stop offset="0.253" stop-color="#34c3a3"/><stop offset="0.305" stop-color="#4ec34c"/><stop offset="0.396" stop-color="#96d131"/><stop offset="0.487" stop-color="#add62a"/><stop offset="0.578" stop-color="#9dd22f"/><stop offset="0.669" stop-color="#63c740"/><stop offset="0.695" stop-color="#4dc34f"/><stop offset="0.760" stop-color="#2ebfb4"/><stop offset="0.799" stop-color="#19a7e1"/><stop offset="0.838" stop-color="#1e61d3"/><stop offset="0.877" stop-color="#2a30a4"/><stop offset="0.903" stop-color="#30238b"/><stop offset="0.994" stop-color="#361f88"/></linearGradient><linearGradient id="hb39"><stop offset="0.006" stop-color="#361f88"/><stop offset="0.136" stop-color="#2e248c"/><stop offset="0.188" stop-color="#2347bf"/><stop offset="0.227" stop-color="#1c74d7"/><stop offset="0.279" stop-color="#19aae1"/><stop offset="0.383" stop-color="#31c2ad"/><stop offset="0.487" stop-color="#38c396"/><stop offset="0.591" stop-color="#34c3a4"/><stop offset="0.708" stop-color="#1daed7"/><stop offset="0.734" stop-color="#1a9fdf"/><stop offset="0.799" stop-color="#2053cb"/><stop offset="0.851" stop-color="#2c2997"/><stop offset="0.877" stop-color="#31228a"/><stop offset="0.994" stop-color="#361f88"/></linearGradient><linearGradient id="hb40"><stop offset="0.006" stop-color="#361f88"/><stop offset="0.188" stop-color="#2e258e"/><stop offset="0.305" stop-color="#1e59d1"/><stop offset="0.409" stop-color="#1c7bd8"/><stop offset="0.604" stop-color="#1c79d8"/><stop offset="0.708" stop-color="#2054cc"/><stop offset="0.812" stop-color="#2e258e"/><stop offset="0.994" stop-color="#361f88"/></linearGradient><linearGradient id="hb41"><stop offset="0.006" stop-color="#361f88"/><stop offset="0.292" stop-color="#2d2791"/><stop offset="0.448" stop-color="#2932a7"/><stop offset="0.656" stop-color="#2b2d9d"/><stop offset="0.786" stop-color="#33218a"/><stop offset="0.994" stop-color="#361f88"/></linearGradient></defs><g transform="translate(105,217)" filter="url(#bl)" shape-rendering="crispEdges"><rect y="0" width="77" height="1" fill="url(#hb0)"/><rect y="1" width="77" height="1" fill="url(#hb1)"/><rect y="2" width="77" height="1" fill="url(#hb2)"/><rect y="3" width="77" height="1" fill="url(#hb3)"/><rect y="4" width="77" height="1" fill="url(#hb4)"/><rect y="5" width="77" height="1" fill="url(#hb5)"/><rect y="6" width="77" height="1" fill="url(#hb6)"/><rect y="7" width="77" height="1" fill="url(#hb7)"/><rect y="8" width="77" height="1" fill="url(#hb8)"/><rect y="9" width="77" height="1" fill="url(#hb9)"/><rect y="10" width="77" height="1" fill="url(#hb10)"/><rect y="11" width="77" height="1" fill="url(#hb11)"/><rect y="12" width="77" height="1" fill="url(#hb12)"/><rect y="13" width="77" height="1" fill="url(#hb13)"/><rect y="14" width="77" height="1" fill="url(#hb14)"/><rect y="15" width="77" height="1" fill="url(#hb15)"/><rect y="16" width="77" height="1" fill="url(#hb16)"/><rect y="17" width="77" height="1" fill="url(#hb17)"/><rect y="18" width="77" height="1" fill="url(#hb18)"/><rect y="19" width="77" height="1" fill="url(#hb19)"/><rect y="20" width="77" height="1" fill="url(#hb20)"/><rect y="21" width="77" height="1" fill="url(#hb21)"/><rect y="22" width="77" height="1" fill="url(#hb22)"/><rect y="23" width="77" height="1" fill="url(#hb23)"/><rect y="24" width="77" height="1" fill="url(#hb24)"/><rect y="25" width="77" height="1" fill="url(#hb25)"/><rect y="26" width="77" height="1" fill="url(#hb26)"/><rect y="27" width="77" height="1" fill="url(#hb27)"/><rect y="28" width="77" height="1" fill="url(#hb28)"/><rect y="29" width="77" height="1" fill="url(#hb29)"/><rect y="30" width="77" height="1" fill="url(#hb30)"/><rect y="31" width="77" height="1" fill="url(#hb31)"/><rect y="32" width="77" height="1" fill="url(#hb32)"/><rect y="33" width="77" height="1" fill="url(#hb33)"/><rect y="34" width="77" height="1" fill="url(#hb34)"/><rect y="35" width="77" height="1" fill="url(#hb35)"/><rect y="36" width="77" height="1" fill="url(#hb36)"/><rect y="37" width="77" height="1" fill="url(#hb37)"/><rect y="38" width="77" height="1" fill="url(#hb38)"/><rect y="39" width="77" height="1" fill="url(#hb39)"/><rect y="40" width="77" height="1" fill="url(#hb40)"/><rect y="41" width="77" height="1" fill="url(#hb41)"/></g>
<defs><linearGradient id="hc0"><stop offset="0.006" stop-color="#361f88"/><stop offset="0.305" stop-color="#2d2690"/><stop offset="0.461" stop-color="#2932a7"/><stop offset="0.643" stop-color="#2b2c9d"/><stop offset="0.760" stop-color="#32218a"/><stop offset="0.994" stop-color="#361f88"/></linearGradient><linearGradient id="hc1"><stop offset="0.006" stop-color="#361f88"/><stop offset="0.201" stop-color="#2e248c"/><stop offset="0.318" stop-color="#1f58d0"/><stop offset="0.422" stop-color="#1c7ad8"/><stop offset="0.604" stop-color="#1c76d7"/><stop offset="0.695" stop-color="#2053cb"/><stop offset="0.799" stop-color="#2e248c"/><stop offset="0.994" stop-color="#361f88"/></linearGradient><linearGradient id="hc2"><stop offset="0.006" stop-color="#361f88"/><stop offset="0.149" stop-color="#2e248c"/><stop offset="0.201" stop-color="#2345bd"/><stop offset="0.240" stop-color="#1d70d6"/><stop offset="0.305" stop-color="#19a6e0"/><stop offset="0.448" stop-color="#23b4ca"/><stop offset="0.656" stop-color="#1fb0d3"/><stop offset="0.708" stop-color="#19a2e0"/><stop offset="0.773" stop-color="#1e5fd3"/><stop offset="0.838" stop-color="#2c2995"/><stop offset="0.877" stop-color="#332189"/><stop offset="0.994" stop-color="#361f88"/></linearGradient><linearGradient id="hc3"><stop offset="0.006" stop-color="#361f88"/><stop offset="0.110" stop-color="#30238b"/><stop offset="0.136" stop-color="#2a30a3"/><stop offset="0.175" stop-color="#1e60d3"/><stop offset="0.214" stop-color="#1a9ddf"/><stop offset="0.240" stop-color="#1daed7"/><stop offset="0.318" stop-color="#27b8c3"/><stop offset="0.734" stop-color="#24b5c9"/><stop offset="0.773" stop-color="#1aabde"/><stop offset="0.812" stop-color="#1c78d8"/><stop offset="0.838" stop-color="#214dc5"/><stop offset="0.877" stop-color="#2d2793"/><stop offset="0.955" stop-color="#361f88"/><stop offset="0.994" stop-color="#361f88"/></linearGradient><linearGradient id="hc4"><stop offset="0.006" stop-color="#361f88"/><stop offset="0.084" stop-color="#30238b"/><stop offset="0.110" stop-color="#2932a9"/><stop offset="0.136" stop-color="#1e58d0"/><stop offset="0.175" stop-color="#19a9e1"/><stop offset="0.214" stop-color="#27b8c2"/><stop offset="0.786" stop-color="#25b6c7"/><stop offset="0.825" stop-color="#19a7e0"/><stop offset="0.864" stop-color="#1e58d0"/><stop offset="0.903" stop-color="#2c2895"/><stop offset="0.942" stop-color="#342089"/><stop offset="0.994" stop-color="#361f88"/></linearGradient><linearGradient id="hc5"><stop offset="0.006" stop-color="#361f88"/><stop offset="0.071" stop-color="#2d258f"/><stop offset="0.097" stop-color="#2442ba"/><stop offset="0.110" stop-color="#1e59d1"/><stop offset="0.136" stop-color="#1a9edf"/><stop offset="0.162" stop-color="#27b8c1"/><stop offset="0.188" stop-color="#2fc0b0"/><stop offset="0.370" stop-color="#28b9c0"/><stop offset="0.825" stop-color="#26b7c5"/><stop offset="0.851" stop-color="#1cadda"/><stop offset="0.864" stop-color="#1a9bde"/><stop offset="0.890" stop-color="#1e59d1"/><stop offset="0.916" stop-color="#2a30a3"/><stop offset="0.929" stop-color="#2d258f"/><stop offset="0.994" stop-color="#361f88"/></linearGradient><linearGradient id="hc6"><stop offset="0.006" stop-color="#361f88"/><stop offset="0.045" stop-color="#31228b"/><stop offset="0.058" stop-color="#2c2895"/><stop offset="0.084" stop-color="#214ec6"/><stop offset="0.110" stop-color="#1a99de"/><stop offset="0.123" stop-color="#21b2d0"/><stop offset="0.149" stop-color="#35c3a0"/><stop offset="0.162" stop-color="#39c392"/><stop offset="0.240" stop-color="#2cbdb7"/><stop offset="0.578" stop-color="#22b3ce"/><stop offset="0.825" stop-color="#28b9c0"/><stop offset="0.864" stop-color="#25b6c7"/><stop offset="0.877" stop-color="#1daed8"/><stop offset="0.890" stop-color="#1a96dd"/><stop offset="0.916" stop-color="#214ec6"/><stop offset="0.942" stop-color="#2c2895"/><stop offset="0.981" stop-color="#351f89"/><stop offset="0.994" stop-color="#361f88"/></linearGradient><linearGradient id="hc7"><stop offset="0.006" stop-color="#351f89"/><stop offset="0.032" stop-color="#30228b"/><stop offset="0.045" stop-color="#2c2996"/><stop offset="0.071" stop-color="#2053cb"/><stop offset="0.097" stop-color="#1aabdf"/><stop offset="0.123" stop-color="#3ac391"/><stop offset="0.136" stop-color="#43c371"/><stop offset="0.149" stop-color="#45c36c"/><stop offset="0.227" stop-color="#2fc0b0"/><stop offset="0.526" stop-color="#1cadda"/><stop offset="0.695" stop-color="#24b5c9"/><stop offset="0.877" stop-color="#2abbbb"/><stop offset="0.903" stop-color="#19a7e0"/><stop offset="0.929" stop-color="#2053cb"/><stop offset="0.955" stop-color="#2c2996"/><stop offset="0.981" stop-color="#342089"/><stop offset="0.994" stop-color="#351f89"/></linearGradient><linearGradient id="hc8"><stop offset="0.006" stop-color="#342089"/><stop offset="0.032" stop-color="#2d2894"/><stop offset="0.045" stop-color="#2737af"/><stop offset="0.058" stop-color="#2053cb"/><stop offset="0.071" stop-color="#1c81d9"/><stop offset="0.084" stop-color="#1eafd6"/><stop offset="0.097" stop-color="#32c3aa"/><stop offset="0.110" stop-color="#46c369"/><stop offset="0.123" stop-color="#51c346"/><stop offset="0.149" stop-color="#4dc351"/><stop offset="0.227" stop-color="#31c2ac"/><stop offset="0.448" stop-color="#1caddb"/><stop offset="0.513" stop-color="#1c80d9"/><stop offset="0.565" stop-color="#1c7dd9"/><stop offset="0.643" stop-color="#1caddb"/><stop offset="0.890" stop-color="#2fc0b1"/><stop offset="0.903" stop-color="#29babd"/><stop offset="0.916" stop-color="#1caddb"/><stop offset="0.942" stop-color="#2053cb"/><stop offset="0.955" stop-color="#2737af"/><stop offset="0.968" stop-color="#2d2894"/><stop offset="0.994" stop-color="#342089"/></linearGradient><linearGradient id="hc9"><stop offset="0.006" stop-color="#32218a"/><stop offset="0.019" stop-color="#2e258e"/><stop offset="0.032" stop-color="#2932a8"/><stop offset="0.045" stop-color="#214dc5"/><stop offset="0.058" stop-color="#1c7ad8"/><stop offset="0.071" stop-color="#1daed8"/><stop offset="0.084" stop-color="#36c39e"/><stop offset="0.097" stop-color="#4ec34c"/><stop offset="0.110" stop-color="#71ca3c"/><stop offset="0.136" stop-color="#69c83f"/><stop offset="0.162" stop-color="#4fc349"/><stop offset="0.227" stop-color="#33c3a6"/><stop offset="0.357" stop-color="#1eafd6"/><stop offset="0.396" stop-color="#1caddb"/><stop offset="0.461" stop-color="#1e5ad2"/><stop offset="0.539" stop-color="#253fb7"/><stop offset="0.604" stop-color="#214dc5"/><stop offset="0.643" stop-color="#1d6cd5"/><stop offset="0.682" stop-color="#19a3e0"/><stop offset="0.721" stop-color="#1daed7"/><stop offset="0.903" stop-color="#33c3a7"/><stop offset="0.916" stop-color="#2cbdb6"/><stop offset="0.929" stop-color="#1bacdc"/><stop offset="0.942" stop-color="#1c7ad8"/><stop offset="0.955" stop-color="#214dc5"/><stop offset="0.968" stop-color="#2932a8"/><stop offset="0.981" stop-color="#2e258e"/><stop offset="0.994" stop-color="#32218a"/></linearGradient><linearGradient id="hc10"><stop offset="0.006" stop-color="#30238b"/><stop offset="0.019" stop-color="#2b2c9c"/><stop offset="0.032" stop-color="#2442ba"/><stop offset="0.045" stop-color="#1d68d5"/><stop offset="0.058" stop-color="#19a5e0"/><stop offset="0.071" stop-color="#32c3a8"/><stop offset="0.084" stop-color="#54c445"/><stop offset="0.097" stop-color="#8acf35"/><stop offset="0.110" stop-color="#93d032"/><stop offset="0.149" stop-color="#73ca3b"/><stop offset="0.175" stop-color="#4fc348"/><stop offset="0.227" stop-color="#35c3a0"/><stop offset="0.279" stop-color="#26b7c5"/><stop offset="0.357" stop-color="#1caddb"/><stop offset="0.370" stop-color="#19a3e0"/><stop offset="0.409" stop-color="#1e5bd2"/><stop offset="0.461" stop-color="#2a2fa2"/><stop offset="0.487" stop-color="#2e248c"/><stop offset="0.591" stop-color="#30228b"/><stop offset="0.630" stop-color="#2930a5"/><stop offset="0.682" stop-color="#1e60d3"/><stop offset="0.721" stop-color="#19aae1"/><stop offset="0.877" stop-color="#33c3a8"/><stop offset="0.903" stop-color="#38c396"/><stop offset="0.916" stop-color="#38c398"/><stop offset="0.929" stop-color="#2cbdb7"/><stop offset="0.942" stop-color="#19a3e0"/><stop offset="0.955" stop-color="#1d68d5"/><stop offset="0.968" stop-color="#2442ba"/><stop offset="0.981" stop-color="#2b2c9c"/><stop offset="0.994" stop-color="#30238b"/></linearGradient><linearGradient id="hc11"><stop offset="0.006" stop-color="#2d258f"/><stop offset="0.019" stop-color="#2834ac"/><stop offset="0.032" stop-color="#2052ca"/><stop offset="0.045" stop-color="#1b89db"/><stop offset="0.058" stop-color="#29babe"/><stop offset="0.071" stop-color="#4cc352"/><stop offset="0.084" stop-color="#95d131"/><stop offset="0.097" stop-color="#b2d729"/><stop offset="0.123" stop-color="#abd52b"/><stop offset="0.162" stop-color="#77cb3a"/><stop offset="0.188" stop-color="#4ec34e"/><stop offset="0.227" stop-color="#35c39e"/><stop offset="0.266" stop-color="#26b7c4"/><stop offset="0.331" stop-color="#1caddb"/><stop offset="0.344" stop-color="#1aa1df"/><stop offset="0.383" stop-color="#2051c9"/><stop offset="0.422" stop-color="#2c2895"/><stop offset="0.448" stop-color="#342089"/><stop offset="0.656" stop-color="#30238b"/><stop offset="0.695" stop-color="#2445bd"/><stop offset="0.721" stop-color="#1d6dd6"/><stop offset="0.747" stop-color="#19a8e1"/><stop offset="0.877" stop-color="#35c3a0"/><stop offset="0.916" stop-color="#3dc385"/><stop offset="0.929" stop-color="#39c392"/><stop offset="0.942" stop-color="#26b7c5"/><stop offset="0.955" stop-color="#1b89db"/><stop offset="0.968" stop-color="#2052ca"/><stop offset="0.981" stop-color="#2834ac"/><stop offset="0.994" stop-color="#2d258f"/></linearGradient><linearGradient id="hc12"><stop offset="0.006" stop-color="#2c2a98"/><stop offset="0.019" stop-color="#253fb7"/><stop offset="0.032" stop-color="#1d65d4"/><stop offset="0.045" stop-color="#19aae0"/><stop offset="0.058" stop-color="#3dc385"/><stop offset="0.071" stop-color="#86ce36"/><stop offset="0.084" stop-color="#c2d728"/><stop offset="0.110" stop-color="#c9d728"/><stop offset="0.136" stop-color="#b8d728"/><stop offset="0.188" stop-color="#59c543"/><stop offset="0.227" stop-color="#34c3a2"/><stop offset="0.266" stop-color="#23b4cb"/><stop offset="0.318" stop-color="#1aabdf"/><stop offset="0.357" stop-color="#2150c8"/><stop offset="0.396" stop-color="#30238b"/><stop offset="0.682" stop-color="#342089"/><stop offset="0.695" stop-color="#2e258e"/><stop offset="0.734" stop-color="#1f55cd"/><stop offset="0.773" stop-color="#1caddb"/><stop offset="0.838" stop-color="#2abbbc"/><stop offset="0.916" stop-color="#42c375"/><stop offset="0.929" stop-color="#40c37a"/><stop offset="0.942" stop-color="#33c3a6"/><stop offset="0.955" stop-color="#19a9e1"/><stop offset="0.968" stop-color="#1d65d4"/><stop offset="0.981" stop-color="#253fb7"/><stop offset="0.994" stop-color="#2c2a98"/></linearGradient><linearGradient id="hc13"><stop offset="0.006" stop-color="#2a2ea0"/><stop offset="0.019" stop-color="#2249c1"/><stop offset="0.032" stop-color="#1c7bd8"/><stop offset="0.045" stop-color="#27b8c3"/><stop offset="0.058" stop-color="#56c444"/><stop offset="0.071" stop-color="#bcd728"/><stop offset="0.084" stop-color="#dbd728"/><stop offset="0.110" stop-color="#e0d728"/><stop offset="0.149" stop-color="#bcd728"/><stop offset="0.188" stop-color="#66c740"/><stop offset="0.201" stop-color="#4bc358"/><stop offset="0.227" stop-color="#32c3aa"/><stop offset="0.266" stop-color="#20b1d2"/><stop offset="0.292" stop-color="#1caddb"/><stop offset="0.305" stop-color="#1aa0df"/><stop offset="0.331" stop-color="#1e59d1"/><stop offset="0.370" stop-color="#2f238c"/><stop offset="0.708" stop-color="#342089"/><stop offset="0.721" stop-color="#2d2690"/><stop offset="0.760" stop-color="#1e61d3"/><stop offset="0.786" stop-color="#19a9e1"/><stop offset="0.851" stop-color="#2dbeb5"/><stop offset="0.903" stop-color="#44c36f"/><stop offset="0.929" stop-color="#46c368"/><stop offset="0.942" stop-color="#3fc37f"/><stop offset="0.955" stop-color="#24b5c8"/><stop offset="0.968" stop-color="#1c7bd8"/><stop offset="0.981" stop-color="#2249c1"/><stop offset="0.994" stop-color="#2a2ea0"/></linearGradient><linearGradient id="hc14"><stop offset="0.006" stop-color="#2932a8"/><stop offset="0.019" stop-color="#2051c9"/><stop offset="0.032" stop-color="#1b8fdc"/><stop offset="0.045" stop-color="#34c3a5"/><stop offset="0.058" stop-color="#89ce35"/><stop offset="0.071" stop-color="#ddd728"/><stop offset="0.084" stop-color="#ecce27"/><stop offset="0.110" stop-color="#ecc726"/><stop offset="0.136" stop-color="#e0d728"/><stop offset="0.162" stop-color="#b8d728"/><stop offset="0.188" stop-color="#6dc93d"/><stop offset="0.201" stop-color="#4bc358"/><stop offset="0.214" stop-color="#3bc38b"/><stop offset="0.227" stop-color="#2fc0b0"/><stop offset="0.266" stop-color="#1daed7"/><stop offset="0.279" stop-color="#1caddb"/><stop offset="0.292" stop-color="#1a9cde"/><stop offset="0.318" stop-color="#2054cc"/><stop offset="0.344" stop-color="#2c2b99"/><stop offset="0.357" stop-color="#342089"/><stop offset="0.734" stop-color="#32228a"/><stop offset="0.773" stop-color="#1e5ad2"/><stop offset="0.799" stop-color="#19a5e0"/><stop offset="0.838" stop-color="#24b5c8"/><stop offset="0.864" stop-color="#33c3a7"/><stop offset="0.890" stop-color="#42c374"/><stop offset="0.916" stop-color="#4bc358"/><stop offset="0.929" stop-color="#4bc358"/><stop offset="0.942" stop-color="#45c36a"/><stop offset="0.955" stop-color="#2ebfb2"/><stop offset="0.968" stop-color="#1b8fdc"/><stop offset="0.981" stop-color="#2051c9"/><stop offset="0.994" stop-color="#2932a8"/></linearGradient><linearGradient id="hc15"><stop offset="0.006" stop-color="#2736ae"/><stop offset="0.019" stop-color="#1f57cf"/><stop offset="0.032" stop-color="#1aa0df"/><stop offset="0.045" stop-color="#41c377"/><stop offset="0.058" stop-color="#b6d728"/><stop offset="0.071" stop-color="#ecc726"/><stop offset="0.084" stop-color="#eeb123"/><stop offset="0.110" stop-color="#eeaa22"/><stop offset="0.136" stop-color="#eccc26"/><stop offset="0.162" stop-color="#c7d728"/><stop offset="0.175" stop-color="#a3d42d"/><stop offset="0.188" stop-color="#71ca3c"/><stop offset="0.201" stop-color="#4ac35c"/><stop offset="0.214" stop-color="#38c395"/><stop offset="0.227" stop-color="#2cbdb7"/><stop offset="0.253" stop-color="#1eafd5"/><stop offset="0.279" stop-color="#1a9fdf"/><stop offset="0.305" stop-color="#2054cc"/><stop offset="0.331" stop-color="#2c2895"/><stop offset="0.357" stop-color="#342089"/><stop offset="0.747" stop-color="#342089"/><stop offset="0.773" stop-color="#2441b9"/><stop offset="0.786" stop-color="#1e5ad2"/><stop offset="0.812" stop-color="#19a9e1"/><stop offset="0.851" stop-color="#28b9c0"/><stop offset="0.864" stop-color="#31c2ac"/><stop offset="0.890" stop-color="#45c36b"/><stop offset="0.916" stop-color="#4ec34b"/><stop offset="0.929" stop-color="#4fc34a"/><stop offset="0.942" stop-color="#4ac35a"/><stop offset="0.955" stop-color="#38c397"/><stop offset="0.968" stop-color="#1a9fdf"/><stop offset="0.981" stop-color="#1f57cf"/><stop offset="0.994" stop-color="#2736ae"/></linearGradient><linearGradient id="hc16"><stop offset="0.006" stop-color="#2739b1"/><stop offset="0.019" stop-color="#1e5dd3"/><stop offset="0.032" stop-color="#1bacdd"/><stop offset="0.045" stop-color="#4dc34f"/><stop offset="0.058" stop-color="#d0d728"/><stop offset="0.071" stop-color="#eeae22"/><stop offset="0.084" stop-color="#ef971f"/><stop offset="0.110" stop-color="#f0901e"/><stop offset="0.136" stop-color="#edb423"/><stop offset="0.149" stop-color="#ebd327"/><stop offset="0.162" stop-color="#d3d728"/><stop offset="0.175" stop-color="#acd52b"/><stop offset="0.188" stop-color="#72ca3c"/><stop offset="0.201" stop-color="#48c362"/><stop offset="0.214" stop-color="#35c3a0"/><stop offset="0.227" stop-color="#29babe"/><stop offset="0.266" stop-color="#19aae0"/><stop offset="0.292" stop-color="#1e59d1"/><stop offset="0.318" stop-color="#2c2a99"/><stop offset="0.331" stop-color="#342089"/><stop offset="0.760" stop-color="#332189"/><stop offset="0.786" stop-color="#2346be"/><stop offset="0.799" stop-color="#1d62d4"/><stop offset="0.825" stop-color="#1caddb"/><stop offset="0.851" stop-color="#25b6c6"/><stop offset="0.864" stop-color="#2fc0b1"/><stop offset="0.890" stop-color="#47c364"/><stop offset="0.903" stop-color="#4ec34d"/><stop offset="0.929" stop-color="#56c444"/><stop offset="0.942" stop-color="#4ec34d"/><stop offset="0.955" stop-color="#3fc37e"/><stop offset="0.968" stop-color="#1aabde"/><stop offset="0.981" stop-color="#1e5dd3"/><stop offset="0.994" stop-color="#2739b1"/></linearGradient><linearGradient id="hc17"><stop offset="0.006" stop-color="#263cb4"/><stop offset="0.019" stop-color="#1d62d4"/><stop offset="0.032" stop-color="#1fb0d3"/><stop offset="0.045" stop-color="#61c641"/><stop offset="0.058" stop-color="#e6d728"/><stop offset="0.071" stop-color="#ef9820"/><stop offset="0.084" stop-color="#ed811f"/><stop offset="0.110" stop-color="#eb7a1f"/><stop offset="0.136" stop-color="#efa021"/><stop offset="0.149" stop-color="#edc025"/><stop offset="0.162" stop-color="#dcd728"/><stop offset="0.175" stop-color="#b1d629"/><stop offset="0.188" stop-color="#70c93c"/><stop offset="0.201" stop-color="#45c36a"/><stop offset="0.214" stop-color="#32c3aa"/><stop offset="0.240" stop-color="#1fb0d4"/><stop offset="0.253" stop-color="#1caddb"/><stop offset="0.266" stop-color="#1a93dd"/><stop offset="0.279" stop-color="#1d68d5"/><stop offset="0.305" stop-color="#2930a4"/><stop offset="0.318" stop-color="#33218a"/><stop offset="0.773" stop-color="#2f238b"/><stop offset="0.799" stop-color="#214fc7"/><stop offset="0.825" stop-color="#1a9edf"/><stop offset="0.851" stop-color="#22b3cd"/><stop offset="0.864" stop-color="#2cbdb6"/><stop offset="0.890" stop-color="#48c360"/><stop offset="0.903" stop-color="#51c346"/><stop offset="0.929" stop-color="#5ec642"/><stop offset="0.942" stop-color="#53c445"/><stop offset="0.955" stop-color="#44c36d"/><stop offset="0.968" stop-color="#1fb0d5"/><stop offset="0.981" stop-color="#1d63d4"/><stop offset="0.994" stop-color="#263cb4"/></linearGradient><linearGradient id="hc18"><stop offset="0.006" stop-color="#263db5"/><stop offset="0.019" stop-color="#1d66d4"/><stop offset="0.032" stop-color="#22b3cc"/><stop offset="0.045" stop-color="#73ca3c"/><stop offset="0.058" stop-color="#ecc926"/><stop offset="0.071" stop-color="#ef881e"/><stop offset="0.084" stop-color="#e87120"/><stop offset="0.097" stop-color="#e56720"/><stop offset="0.123" stop-color="#ea781f"/><stop offset="0.149" stop-color="#edb223"/><stop offset="0.162" stop-color="#e3d728"/><stop offset="0.175" stop-color="#b4d728"/><stop offset="0.188" stop-color="#6ec93d"/><stop offset="0.201" stop-color="#43c371"/><stop offset="0.214" stop-color="#2fc0b0"/><stop offset="0.240" stop-color="#1daed7"/><stop offset="0.253" stop-color="#1aabdf"/><stop offset="0.279" stop-color="#1f57cf"/><stop offset="0.305" stop-color="#2d2792"/><stop offset="0.331" stop-color="#342089"/><stop offset="0.773" stop-color="#342089"/><stop offset="0.786" stop-color="#2b2c9c"/><stop offset="0.812" stop-color="#1e60d3"/><stop offset="0.838" stop-color="#1caddb"/><stop offset="0.851" stop-color="#20b1d1"/><stop offset="0.864" stop-color="#2abbbb"/><stop offset="0.877" stop-color="#39c394"/><stop offset="0.890" stop-color="#49c35f"/><stop offset="0.903" stop-color="#56c444"/><stop offset="0.929" stop-color="#65c740"/><stop offset="0.942" stop-color="#59c543"/><stop offset="0.955" stop-color="#47c363"/><stop offset="0.968" stop-color="#22b3ce"/><stop offset="0.981" stop-color="#1d66d4"/><stop offset="0.994" stop-color="#263db5"/></linearGradient><linearGradient id="hc19"><stop offset="0.006" stop-color="#253eb6"/><stop offset="0.019" stop-color="#1d67d4"/><stop offset="0.032" stop-color="#24b5c8"/><stop offset="0.045" stop-color="#7ecc38"/><stop offset="0.058" stop-color="#edbb24"/><stop offset="0.071" stop-color="#ec7d1f"/><stop offset="0.084" stop-color="#e56520"/><stop offset="0.097" stop-color="#e25b21"/><stop offset="0.123" stop-color="#e76c20"/><stop offset="0.149" stop-color="#eea822"/><stop offset="0.162" stop-color="#e7d728"/><stop offset="0.175" stop-color="#b5d728"/><stop offset="0.188" stop-color="#6cc93e"/><stop offset="0.201" stop-color="#41c377"/><stop offset="0.214" stop-color="#2ebfb3"/><stop offset="0.227" stop-color="#22b3cc"/><stop offset="0.253" stop-color="#1aa1df"/><stop offset="0.279" stop-color="#214fc7"/><stop offset="0.305" stop-color="#30228b"/><stop offset="0.773" stop-color="#342089"/><stop offset="0.786" stop-color="#2d268f"/><stop offset="0.812" stop-color="#1f56ce"/><stop offset="0.838" stop-color="#1aabe0"/><stop offset="0.864" stop-color="#28b9bf"/><stop offset="0.877" stop-color="#37c398"/><stop offset="0.890" stop-color="#49c35f"/><stop offset="0.903" stop-color="#5ac543"/><stop offset="0.929" stop-color="#69c83f"/><stop offset="0.942" stop-color="#5dc642"/><stop offset="0.955" stop-color="#49c35c"/><stop offset="0.968" stop-color="#23b4ca"/><stop offset="0.981" stop-color="#1d67d5"/><stop offset="0.994" stop-color="#253eb6"/></linearGradient><linearGradient id="hc20"><stop offset="0.006" stop-color="#253eb6"/><stop offset="0.019" stop-color="#1d68d5"/><stop offset="0.032" stop-color="#25b6c7"/><stop offset="0.045" stop-color="#83cd37"/><stop offset="0.058" stop-color="#edb523"/><stop offset="0.071" stop-color="#ea771f"/><stop offset="0.084" stop-color="#e35f21"/><stop offset="0.097" stop-color="#e05521"/><stop offset="0.110" stop-color="#e15821"/><stop offset="0.136" stop-color="#ec801f"/><stop offset="0.149" stop-color="#eea321"/><stop offset="0.162" stop-color="#e9d728"/><stop offset="0.175" stop-color="#b5d728"/><stop offset="0.188" stop-color="#6bc83e"/><stop offset="0.201" stop-color="#40c37a"/><stop offset="0.214" stop-color="#2dbeb5"/><stop offset="0.227" stop-color="#22b3ce"/><stop offset="0.240" stop-color="#1cadda"/><stop offset="0.253" stop-color="#1a9bde"/><stop offset="0.279" stop-color="#224bc3"/><stop offset="0.305" stop-color="#33218a"/><stop offset="0.786" stop-color="#2f238b"/><stop offset="0.812" stop-color="#2052ca"/><stop offset="0.838" stop-color="#19a6e0"/><stop offset="0.864" stop-color="#27b8c1"/><stop offset="0.877" stop-color="#37c39b"/><stop offset="0.890" stop-color="#48c35f"/><stop offset="0.903" stop-color="#5cc542"/><stop offset="0.929" stop-color="#6bc83e"/><stop offset="0.942" stop-color="#60c641"/><stop offset="0.955" stop-color="#4ac35a"/><stop offset="0.968" stop-color="#24b5c9"/><stop offset="0.981" stop-color="#1d68d5"/><stop offset="0.994" stop-color="#253eb6"/></linearGradient><linearGradient id="hc21"><stop offset="0.006" stop-color="#253eb6"/><stop offset="0.019" stop-color="#1d68d5"/><stop offset="0.032" stop-color="#25b6c7"/><stop offset="0.045" stop-color="#83cd37"/><stop offset="0.058" stop-color="#edb523"/><stop offset="0.071" stop-color="#ea771f"/><stop offset="0.084" stop-color="#e35f21"/><stop offset="0.097" stop-color="#e05521"/><stop offset="0.110" stop-color="#e15821"/><stop offset="0.136" stop-color="#ec801f"/><stop offset="0.149" stop-color="#eea321"/><stop offset="0.162" stop-color="#e9d728"/><stop offset="0.175" stop-color="#b5d728"/><stop offset="0.188" stop-color="#6bc83e"/><stop offset="0.201" stop-color="#40c37a"/><stop offset="0.214" stop-color="#2dbeb5"/><stop offset="0.227" stop-color="#22b3ce"/><stop offset="0.240" stop-color="#1cadda"/><stop offset="0.253" stop-color="#1a9bde"/><stop offset="0.279" stop-color="#224bc3"/><stop offset="0.305" stop-color="#33218a"/><stop offset="0.786" stop-color="#2f238b"/><stop offset="0.812" stop-color="#2052ca"/><stop offset="0.838" stop-color="#19a6e0"/><stop offset="0.864" stop-color="#27b8c1"/><stop offset="0.877" stop-color="#37c39b"/><stop offset="0.890" stop-color="#48c35f"/><stop offset="0.903" stop-color="#5cc542"/><stop offset="0.929" stop-color="#6bc83e"/><stop offset="0.942" stop-color="#60c641"/><stop offset="0.955" stop-color="#4ac35a"/><stop offset="0.968" stop-color="#24b5c9"/><stop offset="0.981" stop-color="#1d68d5"/><stop offset="0.994" stop-color="#253eb6"/></linearGradient><linearGradient id="hc22"><stop offset="0.006" stop-color="#253eb6"/><stop offset="0.019" stop-color="#1d67d4"/><stop offset="0.032" stop-color="#24b5c8"/><stop offset="0.045" stop-color="#7ecc38"/><stop offset="0.058" stop-color="#edbb24"/><stop offset="0.071" stop-color="#ec7d1f"/><stop offset="0.084" stop-color="#e56520"/><stop offset="0.097" stop-color="#e25b21"/><stop offset="0.123" stop-color="#e76c20"/><stop offset="0.149" stop-color="#eea822"/><stop offset="0.162" stop-color="#e7d728"/><stop offset="0.175" stop-color="#b5d728"/><stop offset="0.188" stop-color="#6cc93e"/><stop offset="0.201" stop-color="#41c377"/><stop offset="0.214" stop-color="#2ebfb3"/><stop offset="0.227" stop-color="#22b3cc"/><stop offset="0.253" stop-color="#1aa1df"/><stop offset="0.279" stop-color="#214fc7"/><stop offset="0.305" stop-color="#30228b"/><stop offset="0.773" stop-color="#342089"/><stop offset="0.786" stop-color="#2d268f"/><stop offset="0.812" stop-color="#1f56ce"/><stop offset="0.838" stop-color="#1aabe0"/><stop offset="0.864" stop-color="#28b9bf"/><stop offset="0.877" stop-color="#37c398"/><stop offset="0.890" stop-color="#49c35f"/><stop offset="0.903" stop-color="#5ac543"/><stop offset="0.929" stop-color="#69c83f"/><stop offset="0.942" stop-color="#5dc642"/><stop offset="0.955" stop-color="#49c35c"/><stop offset="0.968" stop-color="#23b4ca"/><stop offset="0.981" stop-color="#1d67d5"/><stop offset="0.994" stop-color="#253eb6"/></linearGradient><linearGradient id="hc23"><stop offset="0.006" stop-color="#263db5"/><stop offset="0.019" stop-color="#1d66d4"/><stop offset="0.032" stop-color="#22b3cc"/><stop offset="0.045" stop-color="#73ca3c"/><stop offset="0.058" stop-color="#ecc926"/><stop offset="0.071" stop-color="#ef881e"/><stop offset="0.084" stop-color="#e87120"/><stop offset="0.097" stop-color="#e56720"/><stop offset="0.123" stop-color="#ea781f"/><stop offset="0.149" stop-color="#edb223"/><stop offset="0.162" stop-color="#e3d728"/><stop offset="0.175" stop-color="#b4d728"/><stop offset="0.188" stop-color="#6ec93d"/><stop offset="0.201" stop-color="#43c371"/><stop offset="0.214" stop-color="#2fc0b0"/><stop offset="0.240" stop-color="#1daed7"/><stop offset="0.253" stop-color="#1aabdf"/><stop offset="0.279" stop-color="#1f57cf"/><stop offset="0.305" stop-color="#2d2792"/><stop offset="0.331" stop-color="#342089"/><stop offset="0.773" stop-color="#342089"/><stop offset="0.786" stop-color="#2b2c9c"/><stop offset="0.812" stop-color="#1e60d3"/><stop offset="0.838" stop-color="#1caddb"/><stop offset="0.851" stop-color="#20b1d1"/><stop offset="0.864" stop-color="#2abbbb"/><stop offset="0.877" stop-color="#39c394"/><stop offset="0.890" stop-color="#49c35f"/><stop offset="0.903" stop-color="#56c444"/><stop offset="0.929" stop-color="#65c740"/><stop offset="0.942" stop-color="#59c543"/><stop offset="0.955" stop-color="#47c363"/><stop offset="0.968" stop-color="#22b3ce"/><stop offset="0.981" stop-color="#1d66d4"/><stop offset="0.994" stop-color="#263db5"/></linearGradient><linearGradient id="hc24"><stop offset="0.006" stop-color="#263cb4"/><stop offset="0.019" stop-color="#1d62d4"/><stop offset="0.032" stop-color="#1fb0d3"/><stop offset="0.045" stop-color="#61c641"/><stop offset="0.058" stop-color="#e6d728"/><stop offset="0.071" stop-color="#ef9820"/><stop offset="0.084" stop-color="#ed811f"/><stop offset="0.110" stop-color="#eb7a1f"/><stop offset="0.136" stop-color="#efa021"/><stop offset="0.149" stop-color="#edc025"/><stop offset="0.162" stop-color="#dcd728"/><stop offset="0.175" stop-color="#b1d629"/><stop offset="0.188" stop-color="#70c93c"/><stop offset="0.201" stop-color="#45c36a"/><stop offset="0.214" stop-color="#32c3aa"/><stop offset="0.240" stop-color="#1fb0d4"/><stop offset="0.253" stop-color="#1caddb"/><stop offset="0.266" stop-color="#1a93dd"/><stop offset="0.279" stop-color="#1d68d5"/><stop offset="0.305" stop-color="#2930a4"/><stop offset="0.318" stop-color="#33218a"/><stop offset="0.773" stop-color="#2f238b"/><stop offset="0.799" stop-color="#214fc7"/><stop offset="0.825" stop-color="#1a9edf"/><stop offset="0.851" stop-color="#22b3cd"/><stop offset="0.864" stop-color="#2cbdb6"/><stop offset="0.890" stop-color="#48c360"/><stop offset="0.903" stop-color="#51c346"/><stop offset="0.929" stop-color="#5ec642"/><stop offset="0.942" stop-color="#53c445"/><stop offset="0.955" stop-color="#44c36d"/><stop offset="0.968" stop-color="#1fb0d5"/><stop offset="0.981" stop-color="#1d63d4"/><stop offset="0.994" stop-color="#263cb4"/></linearGradient><linearGradient id="hc25"><stop offset="0.006" stop-color="#2739b1"/><stop offset="0.019" stop-color="#1e5dd3"/><stop offset="0.032" stop-color="#1bacdd"/><stop offset="0.045" stop-color="#4dc34f"/><stop offset="0.058" stop-color="#d0d728"/><stop offset="0.071" stop-color="#eeae22"/><stop offset="0.084" stop-color="#ef971f"/><stop offset="0.110" stop-color="#f0901e"/><stop offset="0.136" stop-color="#edb423"/><stop offset="0.149" stop-color="#ebd327"/><stop offset="0.162" stop-color="#d3d728"/><stop offset="0.175" stop-color="#acd52b"/><stop offset="0.188" stop-color="#72ca3c"/><stop offset="0.201" stop-color="#48c362"/><stop offset="0.214" stop-color="#35c3a0"/><stop offset="0.227" stop-color="#29babe"/><stop offset="0.266" stop-color="#19aae0"/><stop offset="0.292" stop-color="#1e59d1"/><stop offset="0.318" stop-color="#2c2a99"/><stop offset="0.331" stop-color="#342089"/><stop offset="0.760" stop-color="#332189"/><stop offset="0.786" stop-color="#2346be"/><stop offset="0.799" stop-color="#1d62d4"/><stop offset="0.825" stop-color="#1caddb"/><stop offset="0.851" stop-color="#25b6c6"/><stop offset="0.864" stop-color="#2fc0b1"/><stop offset="0.890" stop-color="#47c364"/><stop offset="0.903" stop-color="#4ec34d"/><stop offset="0.929" stop-color="#56c444"/><stop offset="0.942" stop-color="#4ec34d"/><stop offset="0.955" stop-color="#3fc37e"/><stop offset="0.968" stop-color="#1aabde"/><stop offset="0.981" stop-color="#1e5dd3"/><stop offset="0.994" stop-color="#2739b1"/></linearGradient><linearGradient id="hc26"><stop offset="0.006" stop-color="#2736ae"/><stop offset="0.019" stop-color="#1f57cf"/><stop offset="0.032" stop-color="#1aa0df"/><stop offset="0.045" stop-color="#41c377"/><stop offset="0.058" stop-color="#b6d728"/><stop offset="0.071" stop-color="#ecc726"/><stop offset="0.084" stop-color="#eeb123"/><stop offset="0.110" stop-color="#eeaa22"/><stop offset="0.136" stop-color="#eccc26"/><stop offset="0.162" stop-color="#c7d728"/><stop offset="0.175" stop-color="#a3d42d"/><stop offset="0.188" stop-color="#71ca3c"/><stop offset="0.201" stop-color="#4ac35c"/><stop offset="0.214" stop-color="#38c395"/><stop offset="0.227" stop-color="#2cbdb7"/><stop offset="0.253" stop-color="#1eafd5"/><stop offset="0.279" stop-color="#1a9fdf"/><stop offset="0.305" stop-color="#2054cc"/><stop offset="0.331" stop-color="#2c2895"/><stop offset="0.357" stop-color="#342089"/><stop offset="0.747" stop-color="#342089"/><stop offset="0.773" stop-color="#2441b9"/><stop offset="0.786" stop-color="#1e5ad2"/><stop offset="0.812" stop-color="#19a9e1"/><stop offset="0.851" stop-color="#28b9c0"/><stop offset="0.864" stop-color="#31c2ac"/><stop offset="0.890" stop-color="#45c36b"/><stop offset="0.916" stop-color="#4ec34b"/><stop offset="0.929" stop-color="#4fc34a"/><stop offset="0.942" stop-color="#4ac35a"/><stop offset="0.955" stop-color="#38c397"/><stop offset="0.968" stop-color="#1a9fdf"/><stop offset="0.981" stop-color="#1f57cf"/><stop offset="0.994" stop-color="#2736ae"/></linearGradient><linearGradient id="hc27"><stop offset="0.006" stop-color="#2932a8"/><stop offset="0.019" stop-color="#2051c9"/><stop offset="0.032" stop-color="#1b8fdc"/><stop offset="0.045" stop-color="#34c3a5"/><stop offset="0.058" stop-color="#89ce35"/><stop offset="0.071" stop-color="#ddd728"/><stop offset="0.084" stop-color="#ecce27"/><stop offset="0.110" stop-color="#ecc726"/><stop offset="0.136" stop-color="#e0d728"/><stop offset="0.162" stop-color="#b8d728"/><stop offset="0.188" stop-color="#6dc93d"/><stop offset="0.201" stop-color="#4bc358"/><stop offset="0.214" stop-color="#3bc38b"/><stop offset="0.227" stop-color="#2fc0b0"/><stop offset="0.266" stop-color="#1daed7"/><stop offset="0.279" stop-color="#1caddb"/><stop offset="0.292" stop-color="#1a9cde"/><stop offset="0.318" stop-color="#2054cc"/><stop offset="0.344" stop-color="#2c2b99"/><stop offset="0.357" stop-color="#342089"/><stop offset="0.734" stop-color="#32228a"/><stop offset="0.773" stop-color="#1e5ad2"/><stop offset="0.799" stop-color="#19a5e0"/><stop offset="0.838" stop-color="#24b5c8"/><stop offset="0.864" stop-color="#33c3a7"/><stop offset="0.890" stop-color="#42c374"/><stop offset="0.916" stop-color="#4bc358"/><stop offset="0.929" stop-color="#4bc358"/><stop offset="0.942" stop-color="#45c36a"/><stop offset="0.955" stop-color="#2ebfb2"/><stop offset="0.968" stop-color="#1b8fdc"/><stop offset="0.981" stop-color="#2051c9"/><stop offset="0.994" stop-color="#2932a8"/></linearGradient><linearGradient id="hc28"><stop offset="0.006" stop-color="#2a2ea0"/><stop offset="0.019" stop-color="#2249c1"/><stop offset="0.032" stop-color="#1c7bd8"/><stop offset="0.045" stop-color="#27b8c3"/><stop offset="0.058" stop-color="#56c444"/><stop offset="0.071" stop-color="#bcd728"/><stop offset="0.084" stop-color="#dbd728"/><stop offset="0.110" stop-color="#e0d728"/><stop offset="0.149" stop-color="#bcd728"/><stop offset="0.188" stop-color="#66c740"/><stop offset="0.201" stop-color="#4bc358"/><stop offset="0.227" stop-color="#32c3aa"/><stop offset="0.266" stop-color="#20b1d2"/><stop offset="0.292" stop-color="#1caddb"/><stop offset="0.305" stop-color="#1aa0df"/><stop offset="0.331" stop-color="#1e59d1"/><stop offset="0.370" stop-color="#2f238c"/><stop offset="0.708" stop-color="#342089"/><stop offset="0.721" stop-color="#2d2690"/><stop offset="0.760" stop-color="#1e61d3"/><stop offset="0.786" stop-color="#19a9e1"/><stop offset="0.851" stop-color="#2dbeb5"/><stop offset="0.903" stop-color="#44c36f"/><stop offset="0.929" stop-color="#46c368"/><stop offset="0.942" stop-color="#3fc37f"/><stop offset="0.955" stop-color="#24b5c8"/><stop offset="0.968" stop-color="#1c7bd8"/><stop offset="0.981" stop-color="#2249c1"/><stop offset="0.994" stop-color="#2a2ea0"/></linearGradient><linearGradient id="hc29"><stop offset="0.006" stop-color="#2c2a98"/><stop offset="0.019" stop-color="#253fb7"/><stop offset="0.032" stop-color="#1d65d4"/><stop offset="0.045" stop-color="#19aae0"/><stop offset="0.058" stop-color="#3dc385"/><stop offset="0.071" stop-color="#86ce36"/><stop offset="0.084" stop-color="#c2d728"/><stop offset="0.110" stop-color="#c9d728"/><stop offset="0.136" stop-color="#b8d728"/><stop offset="0.188" stop-color="#59c543"/><stop offset="0.227" stop-color="#34c3a2"/><stop offset="0.266" stop-color="#23b4cb"/><stop offset="0.318" stop-color="#1aabdf"/><stop offset="0.357" stop-color="#2150c8"/><stop offset="0.396" stop-color="#30238b"/><stop offset="0.682" stop-color="#342089"/><stop offset="0.695" stop-color="#2e258e"/><stop offset="0.734" stop-color="#1f55cd"/><stop offset="0.773" stop-color="#1caddb"/><stop offset="0.838" stop-color="#2abbbc"/><stop offset="0.916" stop-color="#42c375"/><stop offset="0.929" stop-color="#40c37a"/><stop offset="0.942" stop-color="#33c3a6"/><stop offset="0.955" stop-color="#19a9e1"/><stop offset="0.968" stop-color="#1d65d4"/><stop offset="0.981" stop-color="#253fb7"/><stop offset="0.994" stop-color="#2c2a98"/></linearGradient><linearGradient id="hc30"><stop offset="0.006" stop-color="#2d258f"/><stop offset="0.019" stop-color="#2834ac"/><stop offset="0.032" stop-color="#2052ca"/><stop offset="0.045" stop-color="#1b89db"/><stop offset="0.058" stop-color="#29babe"/><stop offset="0.071" stop-color="#4cc352"/><stop offset="0.084" stop-color="#95d131"/><stop offset="0.097" stop-color="#b2d729"/><stop offset="0.123" stop-color="#abd52b"/><stop offset="0.162" stop-color="#77cb3a"/><stop offset="0.188" stop-color="#4ec34e"/><stop offset="0.227" stop-color="#35c39e"/><stop offset="0.266" stop-color="#26b7c4"/><stop offset="0.331" stop-color="#1caddb"/><stop offset="0.344" stop-color="#1aa1df"/><stop offset="0.383" stop-color="#2051c9"/><stop offset="0.422" stop-color="#2c2895"/><stop offset="0.448" stop-color="#342089"/><stop offset="0.656" stop-color="#30238b"/><stop offset="0.695" stop-color="#2445bd"/><stop offset="0.721" stop-color="#1d6dd6"/><stop offset="0.747" stop-color="#19a8e1"/><stop offset="0.877" stop-color="#35c3a0"/><stop offset="0.916" stop-color="#3dc385"/><stop offset="0.929" stop-color="#39c392"/><stop offset="0.942" stop-color="#26b7c5"/><stop offset="0.955" stop-color="#1b89db"/><stop offset="0.968" stop-color="#2052ca"/><stop offset="0.981" stop-color="#2834ac"/><stop offset="0.994" stop-color="#2d258f"/></linearGradient><linearGradient id="hc31"><stop offset="0.006" stop-color="#30238b"/><stop offset="0.019" stop-color="#2b2c9c"/><stop offset="0.032" stop-color="#2442ba"/><stop offset="0.045" stop-color="#1d68d5"/><stop offset="0.058" stop-color="#19a5e0"/><stop offset="0.071" stop-color="#32c3a8"/><stop offset="0.084" stop-color="#54c445"/><stop offset="0.097" stop-color="#8acf35"/><stop offset="0.110" stop-color="#93d032"/><stop offset="0.149" stop-color="#73ca3b"/><stop offset="0.175" stop-color="#4fc348"/><stop offset="0.227" stop-color="#35c3a0"/><stop offset="0.279" stop-color="#26b7c5"/><stop offset="0.357" stop-color="#1caddb"/><stop offset="0.370" stop-color="#19a3e0"/><stop offset="0.409" stop-color="#1e5bd2"/><stop offset="0.461" stop-color="#2a2fa2"/><stop offset="0.487" stop-color="#2e248c"/><stop offset="0.591" stop-color="#30228b"/><stop offset="0.630" stop-color="#2930a5"/><stop offset="0.682" stop-color="#1e60d3"/><stop offset="0.721" stop-color="#19aae1"/><stop offset="0.877" stop-color="#33c3a8"/><stop offset="0.903" stop-color="#38c396"/><stop offset="0.916" stop-color="#38c398"/><stop offset="0.929" stop-color="#2cbdb7"/><stop offset="0.942" stop-color="#19a3e0"/><stop offset="0.955" stop-color="#1d68d5"/><stop offset="0.968" stop-color="#2442ba"/><stop offset="0.981" stop-color="#2b2c9c"/><stop offset="0.994" stop-color="#30238b"/></linearGradient><linearGradient id="hc32"><stop offset="0.006" stop-color="#32218a"/><stop offset="0.019" stop-color="#2e258e"/><stop offset="0.032" stop-color="#2932a8"/><stop offset="0.045" stop-color="#214dc5"/><stop offset="0.058" stop-color="#1c7ad8"/><stop offset="0.071" stop-color="#1daed8"/><stop offset="0.084" stop-color="#36c39e"/><stop offset="0.097" stop-color="#4ec34c"/><stop offset="0.110" stop-color="#71ca3c"/><stop offset="0.136" stop-color="#69c83f"/><stop offset="0.162" stop-color="#4fc349"/><stop offset="0.227" stop-color="#33c3a6"/><stop offset="0.357" stop-color="#1eafd6"/><stop offset="0.396" stop-color="#1caddb"/><stop offset="0.461" stop-color="#1e5ad2"/><stop offset="0.539" stop-color="#253fb7"/><stop offset="0.604" stop-color="#214dc5"/><stop offset="0.643" stop-color="#1d6cd5"/><stop offset="0.682" stop-color="#19a3e0"/><stop offset="0.721" stop-color="#1daed7"/><stop offset="0.903" stop-color="#33c3a7"/><stop offset="0.916" stop-color="#2cbdb6"/><stop offset="0.929" stop-color="#1bacdc"/><stop offset="0.942" stop-color="#1c7ad8"/><stop offset="0.955" stop-color="#214dc5"/><stop offset="0.968" stop-color="#2932a8"/><stop offset="0.981" stop-color="#2e258e"/><stop offset="0.994" stop-color="#32218a"/></linearGradient><linearGradient id="hc33"><stop offset="0.006" stop-color="#342089"/><stop offset="0.032" stop-color="#2d2894"/><stop offset="0.045" stop-color="#2737af"/><stop offset="0.058" stop-color="#2053cb"/><stop offset="0.071" stop-color="#1c81d9"/><stop offset="0.084" stop-color="#1eafd6"/><stop offset="0.097" stop-color="#32c3aa"/><stop offset="0.110" stop-color="#46c369"/><stop offset="0.123" stop-color="#51c346"/><stop offset="0.149" stop-color="#4dc351"/><stop offset="0.227" stop-color="#31c2ac"/><stop offset="0.448" stop-color="#1caddb"/><stop offset="0.513" stop-color="#1c80d9"/><stop offset="0.565" stop-color="#1c7dd9"/><stop offset="0.643" stop-color="#1caddb"/><stop offset="0.890" stop-color="#2fc0b1"/><stop offset="0.903" stop-color="#29babd"/><stop offset="0.916" stop-color="#1caddb"/><stop offset="0.942" stop-color="#2053cb"/><stop offset="0.955" stop-color="#2737af"/><stop offset="0.968" stop-color="#2d2894"/><stop offset="0.994" stop-color="#342089"/></linearGradient><linearGradient id="hc34"><stop offset="0.006" stop-color="#351f89"/><stop offset="0.032" stop-color="#30228b"/><stop offset="0.045" stop-color="#2c2996"/><stop offset="0.071" stop-color="#2053cb"/><stop offset="0.097" stop-color="#1aabdf"/><stop offset="0.123" stop-color="#3ac391"/><stop offset="0.136" stop-color="#43c371"/><stop offset="0.149" stop-color="#45c36c"/><stop offset="0.227" stop-color="#2fc0b0"/><stop offset="0.526" stop-color="#1cadda"/><stop offset="0.695" stop-color="#24b5c9"/><stop offset="0.877" stop-color="#2abbbb"/><stop offset="0.903" stop-color="#19a7e0"/><stop offset="0.929" stop-color="#2053cb"/><stop offset="0.955" stop-color="#2c2996"/><stop offset="0.981" stop-color="#342089"/><stop offset="0.994" stop-color="#351f89"/></linearGradient><linearGradient id="hc35"><stop offset="0.006" stop-color="#361f88"/><stop offset="0.045" stop-color="#31228b"/><stop offset="0.058" stop-color="#2c2895"/><stop offset="0.084" stop-color="#214ec6"/><stop offset="0.110" stop-color="#1a99de"/><stop offset="0.123" stop-color="#21b2d0"/><stop offset="0.149" stop-color="#35c3a0"/><stop offset="0.162" stop-color="#39c392"/><stop offset="0.240" stop-color="#2cbdb7"/><stop offset="0.578" stop-color="#22b3ce"/><stop offset="0.825" stop-color="#28b9c0"/><stop offset="0.864" stop-color="#25b6c7"/><stop offset="0.877" stop-color="#1daed8"/><stop offset="0.890" stop-color="#1a96dd"/><stop offset="0.916" stop-color="#214ec6"/><stop offset="0.942" stop-color="#2c2895"/><stop offset="0.981" stop-color="#351f89"/><stop offset="0.994" stop-color="#361f88"/></linearGradient><linearGradient id="hc36"><stop offset="0.006" stop-color="#361f88"/><stop offset="0.071" stop-color="#2d258f"/><stop offset="0.097" stop-color="#2442ba"/><stop offset="0.110" stop-color="#1e59d1"/><stop offset="0.136" stop-color="#1a9edf"/><stop offset="0.162" stop-color="#27b8c1"/><stop offset="0.188" stop-color="#2fc0b0"/><stop offset="0.370" stop-color="#28b9c0"/><stop offset="0.825" stop-color="#26b7c5"/><stop offset="0.851" stop-color="#1cadda"/><stop offset="0.864" stop-color="#1a9bde"/><stop offset="0.890" stop-color="#1e59d1"/><stop offset="0.916" stop-color="#2a30a3"/><stop offset="0.929" stop-color="#2d258f"/><stop offset="0.994" stop-color="#361f88"/></linearGradient><linearGradient id="hc37"><stop offset="0.006" stop-color="#361f88"/><stop offset="0.084" stop-color="#30238b"/><stop offset="0.110" stop-color="#2932a9"/><stop offset="0.136" stop-color="#1e58d0"/><stop offset="0.175" stop-color="#19a9e1"/><stop offset="0.214" stop-color="#27b8c2"/><stop offset="0.786" stop-color="#25b6c7"/><stop offset="0.825" stop-color="#19a7e0"/><stop offset="0.864" stop-color="#1e58d0"/><stop offset="0.903" stop-color="#2c2895"/><stop offset="0.942" stop-color="#342089"/><stop offset="0.994" stop-color="#361f88"/></linearGradient><linearGradient id="hc38"><stop offset="0.006" stop-color="#361f88"/><stop offset="0.110" stop-color="#30238b"/><stop offset="0.136" stop-color="#2a30a3"/><stop offset="0.175" stop-color="#1e60d3"/><stop offset="0.214" stop-color="#1a9ddf"/><stop offset="0.240" stop-color="#1daed7"/><stop offset="0.318" stop-color="#27b8c3"/><stop offset="0.734" stop-color="#24b5c9"/><stop offset="0.773" stop-color="#1aabde"/><stop offset="0.812" stop-color="#1c78d8"/><stop offset="0.838" stop-color="#214dc5"/><stop offset="0.877" stop-color="#2d2793"/><stop offset="0.955" stop-color="#361f88"/><stop offset="0.994" stop-color="#361f88"/></linearGradient><linearGradient id="hc39"><stop offset="0.006" stop-color="#361f88"/><stop offset="0.149" stop-color="#2e248c"/><stop offset="0.201" stop-color="#2345bd"/><stop offset="0.240" stop-color="#1d70d6"/><stop offset="0.305" stop-color="#19a6e0"/><stop offset="0.448" stop-color="#23b4ca"/><stop offset="0.656" stop-color="#1fb0d3"/><stop offset="0.708" stop-color="#19a2e0"/><stop offset="0.773" stop-color="#1e5fd3"/><stop offset="0.838" stop-color="#2c2995"/><stop offset="0.877" stop-color="#332189"/><stop offset="0.994" stop-color="#361f88"/></linearGradient><linearGradient id="hc40"><stop offset="0.006" stop-color="#361f88"/><stop offset="0.201" stop-color="#2e248c"/><stop offset="0.318" stop-color="#1f58d0"/><stop offset="0.422" stop-color="#1c7ad8"/><stop offset="0.604" stop-color="#1c76d7"/><stop offset="0.695" stop-color="#2053cb"/><stop offset="0.799" stop-color="#2e248c"/><stop offset="0.994" stop-color="#361f88"/></linearGradient><linearGradient id="hc41"><stop offset="0.006" stop-color="#361f88"/><stop offset="0.305" stop-color="#2d2690"/><stop offset="0.461" stop-color="#2932a7"/><stop offset="0.643" stop-color="#2b2c9d"/><stop offset="0.760" stop-color="#32218a"/><stop offset="0.994" stop-color="#361f88"/></linearGradient></defs><g transform="translate(20,277)" filter="url(#bl)" shape-rendering="crispEdges"><rect y="0" width="77" height="1" fill="url(#hc0)"/><rect y="1" width="77" height="1" fill="url(#hc1)"/><rect y="2" width="77" height="1" fill="url(#hc2)"/><rect y="3" width="77" height="1" fill="url(#hc3)"/><rect y="4" width="77" height="1" fill="url(#hc4)"/><rect y="5" width="77" height="1" fill="url(#hc5)"/><rect y="6" width="77" height="1" fill="url(#hc6)"/><rect y="7" width="77" height="1" fill="url(#hc7)"/><rect y="8" width="77" height="1" fill="url(#hc8)"/><rect y="9" width="77" height="1" fill="url(#hc9)"/><rect y="10" width="77" height="1" fill="url(#hc10)"/><rect y="11" width="77" height="1" fill="url(#hc11)"/><rect y="12" width="77" height="1" fill="url(#hc12)"/><rect y="13" width="77" height="1" fill="url(#hc13)"/><rect y="14" width="77" height="1" fill="url(#hc14)"/><rect y="15" width="77" height="1" fill="url(#hc15)"/><rect y="16" width="77" height="1" fill="url(#hc16)"/><rect y="17" width="77" height="1" fill="url(#hc17)"/><rect y="18" width="77" height="1" fill="url(#hc18)"/><rect y="19" width="77" height="1" fill="url(#hc19)"/><rect y="20" width="77" height="1" fill="url(#hc20)"/><rect y="21" width="77" height="1" fill="url(#hc21)"/><rect y="22" width="77" height="1" fill="url(#hc22)"/><rect y="23" width="77" height="1" fill="url(#hc23)"/><rect y="24" width="77" height="1" fill="url(#hc24)"/><rect y="25" width="77" height="1" fill="url(#hc25)"/><rect y="26" width="77" height="1" fill="url(#hc26)"/><rect y="27" width="77" height="1" fill="url(#hc27)"/><rect y="28" width="77" height="1" fill="url(#hc28)"/><rect y="29" width="77" height="1" fill="url(#hc29)"/><rect y="30" width="77" height="1" fill="url(#hc30)"/><rect y="31" width="77" height="1" fill="url(#hc31)"/><rect y="32" width="77" height="1" fill="url(#hc32)"/><rect y="33" width="77" height="1" fill="url(#hc33)"/><rect y="34" width="77" height="1" fill="url(#hc34)"/><rect y="35" width="77" height="1" fill="url(#hc35)"/><rect y="36" width="77" height="1" fill="url(#hc36)"/><rect y="37" width="77" height="1" fill="url(#hc37)"/><rect y="38" width="77" height="1" fill="url(#hc38)"/><rect y="39" width="77" height="1" fill="url(#hc39)"/><rect y="40" width="77" height="1" fill="url(#hc40)"/><rect y="41" width="77" height="1" fill="url(#hc41)"/></g>
<defs><linearGradient id="hd0"><stop offset="0.006" stop-color="#361f88"/><stop offset="0.266" stop-color="#2d2792"/><stop offset="0.435" stop-color="#2932a7"/><stop offset="0.682" stop-color="#2b2d9e"/><stop offset="0.812" stop-color="#33218a"/><stop offset="0.994" stop-color="#361f88"/></linearGradient><linearGradient id="hd1"><stop offset="0.006" stop-color="#361f88"/><stop offset="0.162" stop-color="#2e258f"/><stop offset="0.266" stop-color="#1f54cc"/><stop offset="0.383" stop-color="#1c7dd9"/><stop offset="0.617" stop-color="#1c7ed9"/><stop offset="0.721" stop-color="#1e5ad2"/><stop offset="0.825" stop-color="#2c2997"/><stop offset="0.877" stop-color="#332189"/><stop offset="0.994" stop-color="#361f88"/></linearGradient><linearGradient id="hd2"><stop offset="0.006" stop-color="#361f88"/><stop offset="0.110" stop-color="#2f248c"/><stop offset="0.162" stop-color="#2347bf"/><stop offset="0.201" stop-color="#1c75d7"/><stop offset="0.253" stop-color="#1bacdd"/><stop offset="0.370" stop-color="#36c39e"/><stop offset="0.487" stop-color="#3ec383"/><stop offset="0.604" stop-color="#3bc38b"/><stop offset="0.708" stop-color="#2abbbd"/><stop offset="0.760" stop-color="#19a6e0"/><stop offset="0.825" stop-color="#2053cb"/><stop offset="0.877" stop-color="#2c2995"/><stop offset="0.916" stop-color="#332089"/><stop offset="0.994" stop-color="#361f88"/></linearGradient><linearGradient id="hd3"><stop offset="0.006" stop-color="#361f88"/><stop offset="0.084" stop-color="#2e258e"/><stop offset="0.123" stop-color="#2249c1"/><stop offset="0.149" stop-color="#1c77d7"/><stop offset="0.175" stop-color="#19a9e1"/><stop offset="0.227" stop-color="#35c3a1"/><stop offset="0.279" stop-color="#48c362"/><stop offset="0.331" stop-color="#4ec34b"/><stop offset="0.708" stop-color="#4dc350"/><stop offset="0.747" stop-color="#44c36e"/><stop offset="0.799" stop-color="#2abbbb"/><stop offset="0.825" stop-color="#19aae1"/><stop offset="0.864" stop-color="#1e5bd2"/><stop offset="0.903" stop-color="#2b2d9d"/><stop offset="0.929" stop-color="#31228a"/><stop offset="0.994" stop-color="#361f88"/></linearGradient><linearGradient id="hd4"><stop offset="0.006" stop-color="#361f88"/><stop offset="0.058" stop-color="#2f248c"/><stop offset="0.084" stop-color="#2739b1"/><stop offset="0.110" stop-color="#1d68d5"/><stop offset="0.136" stop-color="#1aabde"/><stop offset="0.162" stop-color="#31c2ad"/><stop offset="0.201" stop-color="#49c35e"/><stop offset="0.227" stop-color="#50c347"/><stop offset="0.786" stop-color="#4ec34e"/><stop offset="0.812" stop-color="#43c371"/><stop offset="0.838" stop-color="#30c1ae"/><stop offset="0.864" stop-color="#1aabdf"/><stop offset="0.890" stop-color="#1d68d5"/><stop offset="0.916" stop-color="#2739b1"/><stop offset="0.942" stop-color="#2f248c"/><stop offset="0.994" stop-color="#361f88"/></linearGradient><linearGradient id="hd5"><stop offset="0.006" stop-color="#351f88"/><stop offset="0.045" stop-color="#2d258f"/><stop offset="0.071" stop-color="#2444bc"/><stop offset="0.084" stop-color="#1e5dd3"/><stop offset="0.110" stop-color="#1cadda"/><stop offset="0.136" stop-color="#3cc38a"/><stop offset="0.149" stop-color="#49c35e"/><stop offset="0.162" stop-color="#55c444"/><stop offset="0.188" stop-color="#66c73f"/><stop offset="0.279" stop-color="#51c346"/><stop offset="0.825" stop-color="#51c346"/><stop offset="0.838" stop-color="#4cc352"/><stop offset="0.851" stop-color="#44c36e"/><stop offset="0.877" stop-color="#2abbbb"/><stop offset="0.890" stop-color="#1bacdc"/><stop offset="0.916" stop-color="#1e5dd3"/><stop offset="0.942" stop-color="#2930a4"/><stop offset="0.955" stop-color="#2d258f"/><stop offset="0.994" stop-color="#351f88"/></linearGradient><linearGradient id="hd6"><stop offset="0.006" stop-color="#342089"/><stop offset="0.032" stop-color="#2d268f"/><stop offset="0.058" stop-color="#2349c1"/><stop offset="0.071" stop-color="#1d6ad5"/><stop offset="0.084" stop-color="#1a9bde"/><stop offset="0.097" stop-color="#27b8c3"/><stop offset="0.123" stop-color="#4fc34a"/><stop offset="0.136" stop-color="#71ca3c"/><stop offset="0.149" stop-color="#84cd36"/><stop offset="0.175" stop-color="#78cb3a"/><stop offset="0.240" stop-color="#55c444"/><stop offset="0.695" stop-color="#50c346"/><stop offset="0.851" stop-color="#5ac543"/><stop offset="0.864" stop-color="#51c346"/><stop offset="0.877" stop-color="#46c367"/><stop offset="0.890" stop-color="#36c39c"/><stop offset="0.903" stop-color="#25b6c7"/><stop offset="0.916" stop-color="#1a99de"/><stop offset="0.929" stop-color="#1d6ad5"/><stop offset="0.955" stop-color="#2931a7"/><stop offset="0.968" stop-color="#2d268f"/><stop offset="0.994" stop-color="#342089"/></linearGradient><linearGradient id="hd7"><stop offset="0.006" stop-color="#33218a"/><stop offset="0.019" stop-color="#2e248c"/><stop offset="0.045" stop-color="#2346be"/><stop offset="0.058" stop-color="#1d6ad5"/><stop offset="0.071" stop-color="#1aa0df"/><stop offset="0.084" stop-color="#2cbdb8"/><stop offset="0.097" stop-color="#45c369"/><stop offset="0.110" stop-color="#70c93c"/><stop offset="0.123" stop-color="#99d230"/><stop offset="0.136" stop-color="#a6d42c"/><stop offset="0.214" stop-color="#60c641"/><stop offset="0.305" stop-color="#50c346"/><stop offset="0.409" stop-color="#4ac359"/><stop offset="0.526" stop-color="#42c375"/><stop offset="0.643" stop-color="#4bc357"/><stop offset="0.734" stop-color="#50c346"/><stop offset="0.851" stop-color="#5ec642"/><stop offset="0.877" stop-color="#63c740"/><stop offset="0.890" stop-color="#4fc349"/><stop offset="0.916" stop-color="#29babd"/><stop offset="0.929" stop-color="#1a9edf"/><stop offset="0.942" stop-color="#1d6ad5"/><stop offset="0.955" stop-color="#2346be"/><stop offset="0.981" stop-color="#2e248c"/><stop offset="0.994" stop-color="#33218a"/></linearGradient><linearGradient id="hd8"><stop offset="0.006" stop-color="#30228b"/><stop offset="0.019" stop-color="#2c2b99"/><stop offset="0.045" stop-color="#1e5ed3"/><stop offset="0.058" stop-color="#1a96dd"/><stop offset="0.071" stop-color="#2abbbb"/><stop offset="0.084" stop-color="#48c360"/><stop offset="0.097" stop-color="#84cd36"/><stop offset="0.110" stop-color="#b5d728"/><stop offset="0.123" stop-color="#bdd728"/><stop offset="0.214" stop-color="#63c740"/><stop offset="0.292" stop-color="#50c347"/><stop offset="0.383" stop-color="#41c377"/><stop offset="0.474" stop-color="#31c2ac"/><stop offset="0.578" stop-color="#31c2ab"/><stop offset="0.734" stop-color="#4fc34a"/><stop offset="0.838" stop-color="#5cc542"/><stop offset="0.890" stop-color="#6dc93d"/><stop offset="0.903" stop-color="#58c543"/><stop offset="0.929" stop-color="#28b9c0"/><stop offset="0.942" stop-color="#1a95dd"/><stop offset="0.955" stop-color="#1e5ed3"/><stop offset="0.981" stop-color="#2c2b99"/><stop offset="0.994" stop-color="#30228b"/></linearGradient><linearGradient id="hd9"><stop offset="0.006" stop-color="#2e258e"/><stop offset="0.019" stop-color="#2932a9"/><stop offset="0.032" stop-color="#214fc7"/><stop offset="0.045" stop-color="#1c80d9"/><stop offset="0.058" stop-color="#22b3cc"/><stop offset="0.071" stop-color="#42c374"/><stop offset="0.084" stop-color="#83cd37"/><stop offset="0.097" stop-color="#c0d728"/><stop offset="0.110" stop-color="#ced728"/><stop offset="0.149" stop-color="#b3d728"/><stop offset="0.201" stop-color="#70c93c"/><stop offset="0.266" stop-color="#50c347"/><stop offset="0.344" stop-color="#3dc385"/><stop offset="0.396" stop-color="#2fc0b1"/><stop offset="0.500" stop-color="#24b5c9"/><stop offset="0.630" stop-color="#2abbbb"/><stop offset="0.682" stop-color="#37c398"/><stop offset="0.760" stop-color="#4ec34d"/><stop offset="0.851" stop-color="#63c740"/><stop offset="0.903" stop-color="#73ca3b"/><stop offset="0.916" stop-color="#58c544"/><stop offset="0.929" stop-color="#3bc38b"/><stop offset="0.942" stop-color="#21b2cf"/><stop offset="0.955" stop-color="#1c7fd9"/><stop offset="0.968" stop-color="#214fc7"/><stop offset="0.981" stop-color="#2932a9"/><stop offset="0.994" stop-color="#2e258e"/></linearGradient><linearGradient id="hd10"><stop offset="0.006" stop-color="#2c2996"/><stop offset="0.019" stop-color="#263db5"/><stop offset="0.032" stop-color="#1e60d3"/><stop offset="0.045" stop-color="#1aa0df"/><stop offset="0.058" stop-color="#34c3a5"/><stop offset="0.071" stop-color="#6bc83e"/><stop offset="0.084" stop-color="#bdd728"/><stop offset="0.097" stop-color="#dcd728"/><stop offset="0.136" stop-color="#cbd728"/><stop offset="0.214" stop-color="#68c83f"/><stop offset="0.253" stop-color="#4fc34b"/><stop offset="0.344" stop-color="#30c1af"/><stop offset="0.422" stop-color="#1eafd7"/><stop offset="0.448" stop-color="#1aa2df"/><stop offset="0.513" stop-color="#1b8adb"/><stop offset="0.578" stop-color="#1a96dd"/><stop offset="0.617" stop-color="#1aabde"/><stop offset="0.656" stop-color="#26b7c5"/><stop offset="0.708" stop-color="#32c3ab"/><stop offset="0.773" stop-color="#4bc357"/><stop offset="0.812" stop-color="#56c444"/><stop offset="0.903" stop-color="#7acb3a"/><stop offset="0.916" stop-color="#74ca3b"/><stop offset="0.929" stop-color="#4dc351"/><stop offset="0.942" stop-color="#30c1af"/><stop offset="0.955" stop-color="#1a9fdf"/><stop offset="0.968" stop-color="#1e60d3"/><stop offset="0.981" stop-color="#263db5"/><stop offset="0.994" stop-color="#2c2996"/></linearGradient><linearGradient id="hd11"><stop offset="0.006" stop-color="#2a2d9f"/><stop offset="0.019" stop-color="#2347bf"/><stop offset="0.032" stop-color="#1c75d7"/><stop offset="0.045" stop-color="#21b2d0"/><stop offset="0.058" stop-color="#47c365"/><stop offset="0.071" stop-color="#a2d32d"/><stop offset="0.084" stop-color="#ded728"/><stop offset="0.097" stop-color="#ead728"/><stop offset="0.136" stop-color="#d6d728"/><stop offset="0.175" stop-color="#9ed32e"/><stop offset="0.227" stop-color="#5ac543"/><stop offset="0.253" stop-color="#48c35f"/><stop offset="0.305" stop-color="#32c3ab"/><stop offset="0.370" stop-color="#1fb0d3"/><stop offset="0.383" stop-color="#19a9e1"/><stop offset="0.448" stop-color="#1d70d6"/><stop offset="0.513" stop-color="#1e5ad2"/><stop offset="0.591" stop-color="#1d6bd5"/><stop offset="0.669" stop-color="#1aabde"/><stop offset="0.708" stop-color="#28b9c1"/><stop offset="0.747" stop-color="#36c39e"/><stop offset="0.799" stop-color="#4dc34f"/><stop offset="0.838" stop-color="#61c641"/><stop offset="0.903" stop-color="#7fcc38"/><stop offset="0.916" stop-color="#7dcc39"/><stop offset="0.929" stop-color="#68c83f"/><stop offset="0.942" stop-color="#3fc380"/><stop offset="0.955" stop-color="#20b1d2"/><stop offset="0.968" stop-color="#1c75d7"/><stop offset="0.981" stop-color="#2347bf"/><stop offset="0.994" stop-color="#2a2d9f"/></linearGradient><linearGradient id="hd12"><stop offset="0.006" stop-color="#2931a7"/><stop offset="0.019" stop-color="#214fc7"/><stop offset="0.032" stop-color="#1b87db"/><stop offset="0.045" stop-color="#2cbdb7"/><stop offset="0.058" stop-color="#65c740"/><stop offset="0.071" stop-color="#c9d728"/><stop offset="0.084" stop-color="#eccf27"/><stop offset="0.110" stop-color="#ecc826"/><stop offset="0.136" stop-color="#e1d728"/><stop offset="0.188" stop-color="#90d033"/><stop offset="0.227" stop-color="#4fc348"/><stop offset="0.279" stop-color="#33c3a8"/><stop offset="0.331" stop-color="#24b5c9"/><stop offset="0.344" stop-color="#1bacdc"/><stop offset="0.409" stop-color="#1d62d4"/><stop offset="0.487" stop-color="#2444bc"/><stop offset="0.591" stop-color="#224bc3"/><stop offset="0.643" stop-color="#1d65d4"/><stop offset="0.695" stop-color="#1aa1df"/><stop offset="0.721" stop-color="#26b7c5"/><stop offset="0.760" stop-color="#31c2ad"/><stop offset="0.812" stop-color="#4dc34f"/><stop offset="0.851" stop-color="#6ac83e"/><stop offset="0.903" stop-color="#84cd36"/><stop offset="0.929" stop-color="#7acb3a"/><stop offset="0.942" stop-color="#4bc356"/><stop offset="0.955" stop-color="#2abbbd"/><stop offset="0.968" stop-color="#1b87db"/><stop offset="0.981" stop-color="#214fc7"/><stop offset="0.994" stop-color="#2931a7"/></linearGradient><linearGradient id="hd13"><stop offset="0.006" stop-color="#2835ad"/><stop offset="0.019" stop-color="#1f55cd"/><stop offset="0.032" stop-color="#1a97dd"/><stop offset="0.045" stop-color="#37c39b"/><stop offset="0.058" stop-color="#8dcf34"/><stop offset="0.071" stop-color="#e4d728"/><stop offset="0.084" stop-color="#edbd25"/><stop offset="0.110" stop-color="#edb624"/><stop offset="0.136" stop-color="#ebd628"/><stop offset="0.175" stop-color="#afd62a"/><stop offset="0.214" stop-color="#58c543"/><stop offset="0.266" stop-color="#30c1ae"/><stop offset="0.305" stop-color="#25b6c6"/><stop offset="0.318" stop-color="#1caddb"/><stop offset="0.383" stop-color="#1f58d0"/><stop offset="0.474" stop-color="#2833ab"/><stop offset="0.565" stop-color="#2932a9"/><stop offset="0.656" stop-color="#2052ca"/><stop offset="0.695" stop-color="#1c7ad8"/><stop offset="0.721" stop-color="#1aa1df"/><stop offset="0.747" stop-color="#26b7c5"/><stop offset="0.773" stop-color="#2ebfb3"/><stop offset="0.799" stop-color="#3ec381"/><stop offset="0.825" stop-color="#4fc349"/><stop offset="0.877" stop-color="#7ecc38"/><stop offset="0.916" stop-color="#87ce35"/><stop offset="0.929" stop-color="#80cd38"/><stop offset="0.942" stop-color="#5cc542"/><stop offset="0.955" stop-color="#32c3aa"/><stop offset="0.968" stop-color="#1a97dd"/><stop offset="0.981" stop-color="#1f55cd"/><stop offset="0.994" stop-color="#2835ad"/></linearGradient><linearGradient id="hd14"><stop offset="0.006" stop-color="#2738b0"/><stop offset="0.019" stop-color="#1e5ad2"/><stop offset="0.032" stop-color="#19a4e0"/><stop offset="0.045" stop-color="#41c378"/><stop offset="0.058" stop-color="#b0d629"/><stop offset="0.071" stop-color="#ecc626"/><stop offset="0.084" stop-color="#eeac22"/><stop offset="0.110" stop-color="#eea421"/><stop offset="0.136" stop-color="#ecc826"/><stop offset="0.149" stop-color="#e2d728"/><stop offset="0.175" stop-color="#b5d728"/><stop offset="0.214" stop-color="#4ec34e"/><stop offset="0.240" stop-color="#38c397"/><stop offset="0.266" stop-color="#2abbbc"/><stop offset="0.305" stop-color="#19a5e0"/><stop offset="0.357" stop-color="#1f57cf"/><stop offset="0.435" stop-color="#2a30a3"/><stop offset="0.539" stop-color="#2d2893"/><stop offset="0.630" stop-color="#2834ab"/><stop offset="0.695" stop-color="#1e59d1"/><stop offset="0.747" stop-color="#19aae0"/><stop offset="0.760" stop-color="#24b5ca"/><stop offset="0.786" stop-color="#2dbeb5"/><stop offset="0.799" stop-color="#35c3a0"/><stop offset="0.825" stop-color="#49c35c"/><stop offset="0.838" stop-color="#58c544"/><stop offset="0.877" stop-color="#82cd37"/><stop offset="0.916" stop-color="#8ccf34"/><stop offset="0.929" stop-color="#85ce36"/><stop offset="0.942" stop-color="#6dc93d"/><stop offset="0.955" stop-color="#3ac38f"/><stop offset="0.968" stop-color="#19a3e0"/><stop offset="0.981" stop-color="#1e5ad2"/><stop offset="0.994" stop-color="#2738b0"/></linearGradient><linearGradient id="hd15"><stop offset="0.006" stop-color="#263bb3"/><stop offset="0.019" stop-color="#1e60d3"/><stop offset="0.032" stop-color="#1bacdd"/><stop offset="0.045" stop-color="#4ac35b"/><stop offset="0.058" stop-color="#c5d728"/><stop offset="0.071" stop-color="#edb323"/><stop offset="0.084" stop-color="#ef9c20"/><stop offset="0.097" stop-color="#f0921f"/><stop offset="0.123" stop-color="#efa221"/><stop offset="0.149" stop-color="#ead728"/><stop offset="0.175" stop-color="#b6d728"/><stop offset="0.201" stop-color="#61c641"/><stop offset="0.214" stop-color="#48c362"/><stop offset="0.240" stop-color="#30c1ad"/><stop offset="0.279" stop-color="#1fb0d3"/><stop offset="0.292" stop-color="#1aa0df"/><stop offset="0.331" stop-color="#1e5ed3"/><stop offset="0.396" stop-color="#2931a7"/><stop offset="0.474" stop-color="#2e258d"/><stop offset="0.617" stop-color="#2c2996"/><stop offset="0.682" stop-color="#2540b8"/><stop offset="0.721" stop-color="#1d62d4"/><stop offset="0.760" stop-color="#19a6e0"/><stop offset="0.799" stop-color="#2dbeb4"/><stop offset="0.812" stop-color="#37c399"/><stop offset="0.838" stop-color="#4fc34b"/><stop offset="0.864" stop-color="#7acb39"/><stop offset="0.903" stop-color="#91d033"/><stop offset="0.929" stop-color="#89ce35"/><stop offset="0.942" stop-color="#77cb3a"/><stop offset="0.955" stop-color="#41c379"/><stop offset="0.968" stop-color="#1aabde"/><stop offset="0.981" stop-color="#1e60d3"/><stop offset="0.994" stop-color="#263bb3"/></linearGradient><linearGradient id="hd16"><stop offset="0.006" stop-color="#263cb4"/><stop offset="0.019" stop-color="#1d63d4"/><stop offset="0.032" stop-color="#1eafd6"/><stop offset="0.045" stop-color="#52c345"/><stop offset="0.058" stop-color="#d6d728"/><stop offset="0.071" stop-color="#eea521"/><stop offset="0.084" stop-color="#f08d1e"/><stop offset="0.097" stop-color="#ed831f"/><stop offset="0.110" stop-color="#ee861e"/><stop offset="0.136" stop-color="#eeae22"/><stop offset="0.149" stop-color="#eccd27"/><stop offset="0.162" stop-color="#d7d728"/><stop offset="0.175" stop-color="#b6d728"/><stop offset="0.201" stop-color="#54c445"/><stop offset="0.227" stop-color="#34c3a3"/><stop offset="0.253" stop-color="#26b7c3"/><stop offset="0.279" stop-color="#1aa1df"/><stop offset="0.318" stop-color="#1e5bd2"/><stop offset="0.383" stop-color="#2a2fa1"/><stop offset="0.448" stop-color="#2e248c"/><stop offset="0.630" stop-color="#2d2690"/><stop offset="0.695" stop-color="#263db5"/><stop offset="0.734" stop-color="#1e60d3"/><stop offset="0.773" stop-color="#19a8e1"/><stop offset="0.786" stop-color="#24b5ca"/><stop offset="0.812" stop-color="#30c1af"/><stop offset="0.838" stop-color="#49c35c"/><stop offset="0.851" stop-color="#60c641"/><stop offset="0.877" stop-color="#88ce35"/><stop offset="0.916" stop-color="#93d032"/><stop offset="0.942" stop-color="#7ccc39"/><stop offset="0.955" stop-color="#45c369"/><stop offset="0.968" stop-color="#1daed8"/><stop offset="0.981" stop-color="#1d64d4"/><stop offset="0.994" stop-color="#263cb4"/></linearGradient><linearGradient id="hd17"><stop offset="0.006" stop-color="#263db5"/><stop offset="0.019" stop-color="#1d66d4"/><stop offset="0.032" stop-color="#20b1d1"/><stop offset="0.045" stop-color="#60c641"/><stop offset="0.058" stop-color="#e3d728"/><stop offset="0.071" stop-color="#ef9a20"/><stop offset="0.084" stop-color="#ed811f"/><stop offset="0.097" stop-color="#ea771f"/><stop offset="0.110" stop-color="#eb791f"/><stop offset="0.136" stop-color="#eea321"/><stop offset="0.149" stop-color="#ecc425"/><stop offset="0.162" stop-color="#dad728"/><stop offset="0.175" stop-color="#b4d728"/><stop offset="0.201" stop-color="#4dc350"/><stop offset="0.214" stop-color="#3cc389"/><stop offset="0.227" stop-color="#2fc0b0"/><stop offset="0.253" stop-color="#25b6c7"/><stop offset="0.266" stop-color="#19aae1"/><stop offset="0.305" stop-color="#1e5fd3"/><stop offset="0.357" stop-color="#2833aa"/><stop offset="0.409" stop-color="#2e258e"/><stop offset="0.643" stop-color="#2e258e"/><stop offset="0.708" stop-color="#263db5"/><stop offset="0.747" stop-color="#1d64d4"/><stop offset="0.786" stop-color="#1caddb"/><stop offset="0.812" stop-color="#2bbcb9"/><stop offset="0.825" stop-color="#36c39d"/><stop offset="0.851" stop-color="#58c544"/><stop offset="0.864" stop-color="#77cb3a"/><stop offset="0.890" stop-color="#93d032"/><stop offset="0.916" stop-color="#96d131"/><stop offset="0.942" stop-color="#7fcc38"/><stop offset="0.955" stop-color="#49c35e"/><stop offset="0.968" stop-color="#1fb0d3"/><stop offset="0.981" stop-color="#1d66d4"/><stop offset="0.994" stop-color="#263db5"/></linearGradient><linearGradient id="hd18"><stop offset="0.006" stop-color="#253eb6"/><stop offset="0.019" stop-color="#1d67d4"/><stop offset="0.032" stop-color="#22b3cd"/><stop offset="0.045" stop-color="#6ac83e"/><stop offset="0.058" stop-color="#ebd528"/><stop offset="0.071" stop-color="#f0901f"/><stop offset="0.084" stop-color="#ea771f"/><stop offset="0.097" stop-color="#e76c20"/><stop offset="0.110" stop-color="#e86f20"/><stop offset="0.136" stop-color="#ef9920"/><stop offset="0.149" stop-color="#edbc24"/><stop offset="0.162" stop-color="#dcd728"/><stop offset="0.175" stop-color="#b1d629"/><stop offset="0.188" stop-color="#75ca3b"/><stop offset="0.201" stop-color="#49c35d"/><stop offset="0.214" stop-color="#38c396"/><stop offset="0.227" stop-color="#2cbdb7"/><stop offset="0.253" stop-color="#1fb0d4"/><stop offset="0.266" stop-color="#1a9cde"/><stop offset="0.305" stop-color="#1f55cd"/><stop offset="0.357" stop-color="#2a2fa2"/><stop offset="0.409" stop-color="#2e248c"/><stop offset="0.656" stop-color="#2e258e"/><stop offset="0.721" stop-color="#2541b9"/><stop offset="0.747" stop-color="#1e59d1"/><stop offset="0.786" stop-color="#19a3e0"/><stop offset="0.825" stop-color="#31c2ab"/><stop offset="0.851" stop-color="#51c346"/><stop offset="0.864" stop-color="#74ca3b"/><stop offset="0.877" stop-color="#8bcf34"/><stop offset="0.916" stop-color="#99d230"/><stop offset="0.942" stop-color="#81cd37"/><stop offset="0.955" stop-color="#4bc356"/><stop offset="0.968" stop-color="#21b2d0"/><stop offset="0.981" stop-color="#1d67d4"/><stop offset="0.994" stop-color="#253eb6"/></linearGradient><linearGradient id="hd19"><stop offset="0.006" stop-color="#253eb6"/><stop offset="0.019" stop-color="#1d67d4"/><stop offset="0.032" stop-color="#23b4cc"/><stop offset="0.045" stop-color="#70c93c"/><stop offset="0.058" stop-color="#eccc27"/><stop offset="0.071" stop-color="#ef881e"/><stop offset="0.084" stop-color="#e86f20"/><stop offset="0.097" stop-color="#e46420"/><stop offset="0.110" stop-color="#e56720"/><stop offset="0.136" stop-color="#f0921f"/><stop offset="0.149" stop-color="#edb624"/><stop offset="0.162" stop-color="#ded728"/><stop offset="0.175" stop-color="#b0d629"/><stop offset="0.188" stop-color="#71ca3c"/><stop offset="0.201" stop-color="#47c364"/><stop offset="0.214" stop-color="#35c39f"/><stop offset="0.227" stop-color="#2bbcba"/><stop offset="0.253" stop-color="#1caddb"/><stop offset="0.292" stop-color="#1e61d3"/><stop offset="0.344" stop-color="#2932a8"/><stop offset="0.396" stop-color="#2e248c"/><stop offset="0.669" stop-color="#2d2690"/><stop offset="0.721" stop-color="#263db5"/><stop offset="0.760" stop-color="#1d67d4"/><stop offset="0.786" stop-color="#1a9bde"/><stop offset="0.799" stop-color="#1fb0d4"/><stop offset="0.825" stop-color="#2fc0b1"/><stop offset="0.851" stop-color="#4ec34c"/><stop offset="0.877" stop-color="#8ccf34"/><stop offset="0.916" stop-color="#9ad230"/><stop offset="0.942" stop-color="#82cd37"/><stop offset="0.955" stop-color="#4cc352"/><stop offset="0.968" stop-color="#21b2cf"/><stop offset="0.981" stop-color="#1d67d5"/><stop offset="0.994" stop-color="#253eb6"/></linearGradient><linearGradient id="hd20"><stop offset="0.006" stop-color="#253eb6"/><stop offset="0.019" stop-color="#1d67d4"/><stop offset="0.032" stop-color="#23b4cb"/><stop offset="0.045" stop-color="#74ca3b"/><stop offset="0.058" stop-color="#ecc726"/><stop offset="0.071" stop-color="#ee841e"/><stop offset="0.084" stop-color="#e66a20"/><stop offset="0.097" stop-color="#e35f21"/><stop offset="0.110" stop-color="#e46220"/><stop offset="0.136" stop-color="#f08d1e"/><stop offset="0.162" stop-color="#e0d728"/><stop offset="0.175" stop-color="#b0d629"/><stop offset="0.188" stop-color="#70c93c"/><stop offset="0.201" stop-color="#46c367"/><stop offset="0.214" stop-color="#35c3a2"/><stop offset="0.227" stop-color="#2abbbc"/><stop offset="0.240" stop-color="#26b7c5"/><stop offset="0.253" stop-color="#1bacdd"/><stop offset="0.292" stop-color="#1e5fd3"/><stop offset="0.344" stop-color="#2931a6"/><stop offset="0.396" stop-color="#2e248c"/><stop offset="0.669" stop-color="#2d2690"/><stop offset="0.721" stop-color="#263bb3"/><stop offset="0.760" stop-color="#1d65d4"/><stop offset="0.786" stop-color="#1a98de"/><stop offset="0.799" stop-color="#1eafd7"/><stop offset="0.825" stop-color="#2ebfb2"/><stop offset="0.838" stop-color="#3dc386"/><stop offset="0.851" stop-color="#4ec34e"/><stop offset="0.877" stop-color="#8ccf34"/><stop offset="0.916" stop-color="#9bd230"/><stop offset="0.942" stop-color="#83cd37"/><stop offset="0.955" stop-color="#4dc350"/><stop offset="0.968" stop-color="#21b2ce"/><stop offset="0.981" stop-color="#1d68d5"/><stop offset="0.994" stop-color="#253eb6"/></linearGradient><linearGradient id="hd21"><stop offset="0.006" stop-color="#253eb6"/><stop offset="0.019" stop-color="#1d67d4"/><stop offset="0.032" stop-color="#23b4cb"/><stop offset="0.045" stop-color="#74ca3b"/><stop offset="0.058" stop-color="#ecc626"/><stop offset="0.071" stop-color="#ed811f"/><stop offset="0.084" stop-color="#e56720"/><stop offset="0.097" stop-color="#e25c21"/><stop offset="0.110" stop-color="#e35f21"/><stop offset="0.136" stop-color="#f08b1e"/><stop offset="0.162" stop-color="#e1d728"/><stop offset="0.175" stop-color="#b3d728"/><stop offset="0.188" stop-color="#73ca3c"/><stop offset="0.201" stop-color="#47c363"/><stop offset="0.214" stop-color="#35c39e"/><stop offset="0.227" stop-color="#2bbcba"/><stop offset="0.253" stop-color="#1caddb"/><stop offset="0.292" stop-color="#1e61d3"/><stop offset="0.344" stop-color="#2932a8"/><stop offset="0.396" stop-color="#2e248c"/><stop offset="0.669" stop-color="#2d2690"/><stop offset="0.721" stop-color="#263db5"/><stop offset="0.760" stop-color="#1d67d4"/><stop offset="0.786" stop-color="#1a9bde"/><stop offset="0.799" stop-color="#1fb0d4"/><stop offset="0.825" stop-color="#2fc0b1"/><stop offset="0.851" stop-color="#4ec34b"/><stop offset="0.877" stop-color="#8ccf34"/><stop offset="0.916" stop-color="#9bd230"/><stop offset="0.942" stop-color="#83cd37"/><stop offset="0.955" stop-color="#4dc351"/><stop offset="0.968" stop-color="#21b2cf"/><stop offset="0.981" stop-color="#1d67d5"/><stop offset="0.994" stop-color="#253eb6"/></linearGradient><linearGradient id="hd22"><stop offset="0.006" stop-color="#253eb6"/><stop offset="0.019" stop-color="#1d67d4"/><stop offset="0.032" stop-color="#23b4cc"/><stop offset="0.045" stop-color="#71ca3c"/><stop offset="0.058" stop-color="#ecc826"/><stop offset="0.071" stop-color="#ed811f"/><stop offset="0.084" stop-color="#e56720"/><stop offset="0.097" stop-color="#e25c21"/><stop offset="0.110" stop-color="#e35f21"/><stop offset="0.136" stop-color="#f08b1e"/><stop offset="0.162" stop-color="#e3d728"/><stop offset="0.175" stop-color="#b7d728"/><stop offset="0.188" stop-color="#79cb3a"/><stop offset="0.201" stop-color="#4ac35a"/><stop offset="0.214" stop-color="#38c395"/><stop offset="0.227" stop-color="#2cbdb6"/><stop offset="0.253" stop-color="#1fb0d4"/><stop offset="0.266" stop-color="#1a9cde"/><stop offset="0.305" stop-color="#1f55cd"/><stop offset="0.357" stop-color="#2a2fa2"/><stop offset="0.409" stop-color="#2e248c"/><stop offset="0.656" stop-color="#2e258e"/><stop offset="0.721" stop-color="#2541b9"/><stop offset="0.747" stop-color="#1e59d1"/><stop offset="0.786" stop-color="#19a3e0"/><stop offset="0.825" stop-color="#31c2ab"/><stop offset="0.851" stop-color="#51c346"/><stop offset="0.864" stop-color="#75ca3b"/><stop offset="0.877" stop-color="#8dcf34"/><stop offset="0.916" stop-color="#9ad230"/><stop offset="0.942" stop-color="#82cd37"/><stop offset="0.955" stop-color="#4cc354"/><stop offset="0.968" stop-color="#21b2d0"/><stop offset="0.981" stop-color="#1d67d4"/><stop offset="0.994" stop-color="#253eb6"/></linearGradient><linearGradient id="hd23"><stop offset="0.006" stop-color="#253eb6"/><stop offset="0.019" stop-color="#1d67d4"/><stop offset="0.032" stop-color="#22b3cd"/><stop offset="0.045" stop-color="#6bc83e"/><stop offset="0.058" stop-color="#eccf27"/><stop offset="0.071" stop-color="#ee841e"/><stop offset="0.084" stop-color="#e66a20"/><stop offset="0.097" stop-color="#e35f21"/><stop offset="0.110" stop-color="#e46220"/><stop offset="0.136" stop-color="#f08d1e"/><stop offset="0.162" stop-color="#e5d728"/><stop offset="0.175" stop-color="#bbd728"/><stop offset="0.201" stop-color="#4ec34c"/><stop offset="0.214" stop-color="#3dc387"/><stop offset="0.227" stop-color="#2fc0b0"/><stop offset="0.253" stop-color="#25b6c7"/><stop offset="0.266" stop-color="#19aae1"/><stop offset="0.305" stop-color="#1e5fd3"/><stop offset="0.357" stop-color="#2833aa"/><stop offset="0.409" stop-color="#2e258e"/><stop offset="0.643" stop-color="#2e258e"/><stop offset="0.708" stop-color="#263db5"/><stop offset="0.747" stop-color="#1d64d4"/><stop offset="0.786" stop-color="#1caddb"/><stop offset="0.812" stop-color="#2bbcb9"/><stop offset="0.825" stop-color="#36c39d"/><stop offset="0.851" stop-color="#59c543"/><stop offset="0.864" stop-color="#79cb3a"/><stop offset="0.890" stop-color="#95d131"/><stop offset="0.916" stop-color="#99d230"/><stop offset="0.942" stop-color="#81cd37"/><stop offset="0.955" stop-color="#4ac35a"/><stop offset="0.968" stop-color="#20b1d2"/><stop offset="0.981" stop-color="#1d67d4"/><stop offset="0.994" stop-color="#253eb6"/></linearGradient><linearGradient id="hd24"><stop offset="0.006" stop-color="#263db5"/><stop offset="0.019" stop-color="#1d66d4"/><stop offset="0.032" stop-color="#20b1d1"/><stop offset="0.045" stop-color="#62c741"/><stop offset="0.058" stop-color="#e8d728"/><stop offset="0.071" stop-color="#ef891e"/><stop offset="0.084" stop-color="#e86f20"/><stop offset="0.097" stop-color="#e46420"/><stop offset="0.110" stop-color="#e56720"/><stop offset="0.136" stop-color="#f0921f"/><stop offset="0.162" stop-color="#e5d728"/><stop offset="0.175" stop-color="#bfd728"/><stop offset="0.201" stop-color="#58c543"/><stop offset="0.227" stop-color="#34c3a2"/><stop offset="0.253" stop-color="#26b7c4"/><stop offset="0.279" stop-color="#1aa1df"/><stop offset="0.318" stop-color="#1e5bd2"/><stop offset="0.383" stop-color="#2a2fa1"/><stop offset="0.448" stop-color="#2e248c"/><stop offset="0.630" stop-color="#2d2690"/><stop offset="0.695" stop-color="#263db5"/><stop offset="0.734" stop-color="#1e60d3"/><stop offset="0.773" stop-color="#19a8e1"/><stop offset="0.786" stop-color="#24b5ca"/><stop offset="0.812" stop-color="#30c1af"/><stop offset="0.838" stop-color="#4ac35a"/><stop offset="0.851" stop-color="#63c740"/><stop offset="0.864" stop-color="#7dcc38"/><stop offset="0.903" stop-color="#99d230"/><stop offset="0.929" stop-color="#90d033"/><stop offset="0.942" stop-color="#7fcc38"/><stop offset="0.955" stop-color="#47c363"/><stop offset="0.968" stop-color="#1fb0d5"/><stop offset="0.981" stop-color="#1d66d4"/><stop offset="0.994" stop-color="#263db5"/></linearGradient><linearGradient id="hd25"><stop offset="0.006" stop-color="#263cb4"/><stop offset="0.019" stop-color="#1d63d4"/><stop offset="0.032" stop-color="#1eafd6"/><stop offset="0.045" stop-color="#54c445"/><stop offset="0.058" stop-color="#dcd728"/><stop offset="0.071" stop-color="#f0901f"/><stop offset="0.084" stop-color="#ea771f"/><stop offset="0.097" stop-color="#e76c20"/><stop offset="0.110" stop-color="#e86f20"/><stop offset="0.136" stop-color="#ef9920"/><stop offset="0.162" stop-color="#e3d728"/><stop offset="0.188" stop-color="#96d131"/><stop offset="0.201" stop-color="#66c73f"/><stop offset="0.214" stop-color="#49c35f"/><stop offset="0.240" stop-color="#30c1ad"/><stop offset="0.279" stop-color="#1fb0d3"/><stop offset="0.292" stop-color="#1aa0df"/><stop offset="0.331" stop-color="#1e5ed3"/><stop offset="0.396" stop-color="#2931a7"/><stop offset="0.474" stop-color="#2e258d"/><stop offset="0.617" stop-color="#2c2996"/><stop offset="0.682" stop-color="#2540b8"/><stop offset="0.721" stop-color="#1d62d4"/><stop offset="0.760" stop-color="#19a6e0"/><stop offset="0.799" stop-color="#2dbeb4"/><stop offset="0.812" stop-color="#37c398"/><stop offset="0.838" stop-color="#50c346"/><stop offset="0.864" stop-color="#81cd37"/><stop offset="0.903" stop-color="#98d130"/><stop offset="0.929" stop-color="#8ecf33"/><stop offset="0.942" stop-color="#7dcc39"/><stop offset="0.955" stop-color="#43c370"/><stop offset="0.968" stop-color="#1cadda"/><stop offset="0.981" stop-color="#1d63d4"/><stop offset="0.994" stop-color="#263cb4"/></linearGradient><linearGradient id="hd26"><stop offset="0.006" stop-color="#263bb3"/><stop offset="0.019" stop-color="#1e60d3"/><stop offset="0.032" stop-color="#1bacdd"/><stop offset="0.045" stop-color="#4bc358"/><stop offset="0.058" stop-color="#ccd728"/><stop offset="0.071" stop-color="#ef9c20"/><stop offset="0.084" stop-color="#ed811f"/><stop offset="0.097" stop-color="#ea771f"/><stop offset="0.110" stop-color="#eb791f"/><stop offset="0.136" stop-color="#eea321"/><stop offset="0.149" stop-color="#ecc425"/><stop offset="0.162" stop-color="#ded728"/><stop offset="0.188" stop-color="#9dd22f"/><stop offset="0.214" stop-color="#4fc349"/><stop offset="0.240" stop-color="#38c398"/><stop offset="0.253" stop-color="#2fc0b0"/><stop offset="0.292" stop-color="#21b2cf"/><stop offset="0.305" stop-color="#19a5e0"/><stop offset="0.357" stop-color="#1f57cf"/><stop offset="0.435" stop-color="#2a30a3"/><stop offset="0.539" stop-color="#2d2893"/><stop offset="0.630" stop-color="#2834ab"/><stop offset="0.695" stop-color="#1e59d1"/><stop offset="0.747" stop-color="#19aae0"/><stop offset="0.760" stop-color="#24b5ca"/><stop offset="0.786" stop-color="#2dbeb5"/><stop offset="0.799" stop-color="#36c39e"/><stop offset="0.825" stop-color="#4cc353"/><stop offset="0.851" stop-color="#78cb3a"/><stop offset="0.890" stop-color="#96d131"/><stop offset="0.929" stop-color="#8dcf34"/><stop offset="0.942" stop-color="#77cb3a"/><stop offset="0.955" stop-color="#3fc380"/><stop offset="0.968" stop-color="#19aae0"/><stop offset="0.981" stop-color="#1e60d3"/><stop offset="0.994" stop-color="#263bb3"/></linearGradient><linearGradient id="hd27"><stop offset="0.006" stop-color="#2738b0"/><stop offset="0.019" stop-color="#1e5ad2"/><stop offset="0.032" stop-color="#19a4e0"/><stop offset="0.045" stop-color="#42c376"/><stop offset="0.058" stop-color="#b7d728"/><stop offset="0.071" stop-color="#eeb023"/><stop offset="0.084" stop-color="#f08e1e"/><stop offset="0.097" stop-color="#ed831f"/><stop offset="0.110" stop-color="#ee861e"/><stop offset="0.136" stop-color="#eeae22"/><stop offset="0.149" stop-color="#eccd27"/><stop offset="0.175" stop-color="#c0d728"/><stop offset="0.214" stop-color="#5cc542"/><stop offset="0.240" stop-color="#40c37d"/><stop offset="0.266" stop-color="#30c1af"/><stop offset="0.305" stop-color="#25b6c6"/><stop offset="0.318" stop-color="#1caddb"/><stop offset="0.383" stop-color="#1f58d0"/><stop offset="0.474" stop-color="#2833ab"/><stop offset="0.565" stop-color="#2932a9"/><stop offset="0.656" stop-color="#2052ca"/><stop offset="0.695" stop-color="#1c7ad8"/><stop offset="0.721" stop-color="#1aa1df"/><stop offset="0.747" stop-color="#26b7c5"/><stop offset="0.773" stop-color="#2ebfb2"/><stop offset="0.799" stop-color="#41c379"/><stop offset="0.812" stop-color="#4bc356"/><stop offset="0.825" stop-color="#5ec642"/><stop offset="0.851" stop-color="#84cd37"/><stop offset="0.903" stop-color="#9cd22f"/><stop offset="0.929" stop-color="#8dcf34"/><stop offset="0.942" stop-color="#6dc93d"/><stop offset="0.955" stop-color="#38c395"/><stop offset="0.968" stop-color="#1aa2df"/><stop offset="0.981" stop-color="#1e5ad2"/><stop offset="0.994" stop-color="#2738b0"/></linearGradient><linearGradient id="hd28"><stop offset="0.006" stop-color="#2835ad"/><stop offset="0.019" stop-color="#1f55cd"/><stop offset="0.032" stop-color="#1a97dd"/><stop offset="0.045" stop-color="#37c399"/><stop offset="0.058" stop-color="#94d131"/><stop offset="0.071" stop-color="#ecce27"/><stop offset="0.084" stop-color="#ef9d20"/><stop offset="0.097" stop-color="#f0921f"/><stop offset="0.123" stop-color="#efa221"/><stop offset="0.149" stop-color="#ead728"/><stop offset="0.188" stop-color="#a1d32e"/><stop offset="0.227" stop-color="#50c347"/><stop offset="0.279" stop-color="#32c3ab"/><stop offset="0.331" stop-color="#24b5c9"/><stop offset="0.344" stop-color="#1bacdc"/><stop offset="0.409" stop-color="#1d62d4"/><stop offset="0.487" stop-color="#2444bc"/><stop offset="0.591" stop-color="#224bc3"/><stop offset="0.643" stop-color="#1d65d4"/><stop offset="0.695" stop-color="#1aa1df"/><stop offset="0.721" stop-color="#26b7c5"/><stop offset="0.760" stop-color="#31c2ac"/><stop offset="0.799" stop-color="#4dc350"/><stop offset="0.825" stop-color="#77cb3a"/><stop offset="0.864" stop-color="#9ad230"/><stop offset="0.903" stop-color="#a2d32d"/><stop offset="0.929" stop-color="#8fd033"/><stop offset="0.942" stop-color="#5dc642"/><stop offset="0.955" stop-color="#31c2ac"/><stop offset="0.968" stop-color="#1a96dd"/><stop offset="0.981" stop-color="#1f55cd"/><stop offset="0.994" stop-color="#2835ad"/></linearGradient><linearGradient id="hd29"><stop offset="0.006" stop-color="#2931a7"/><stop offset="0.019" stop-color="#214fc7"/><stop offset="0.032" stop-color="#1b87db"/><stop offset="0.045" stop-color="#2cbdb6"/><stop offset="0.058" stop-color="#6bc83e"/><stop offset="0.071" stop-color="#d4d728"/><stop offset="0.084" stop-color="#eeaf23"/><stop offset="0.097" stop-color="#eea321"/><stop offset="0.123" stop-color="#edb223"/><stop offset="0.149" stop-color="#e2d728"/><stop offset="0.188" stop-color="#9bd22f"/><stop offset="0.240" stop-color="#4ec34e"/><stop offset="0.305" stop-color="#31c2ad"/><stop offset="0.357" stop-color="#26b7c5"/><stop offset="0.383" stop-color="#19a9e1"/><stop offset="0.448" stop-color="#1d70d6"/><stop offset="0.513" stop-color="#1e5ad2"/><stop offset="0.591" stop-color="#1d6bd5"/><stop offset="0.669" stop-color="#1aabde"/><stop offset="0.708" stop-color="#27b8c1"/><stop offset="0.734" stop-color="#30c1af"/><stop offset="0.760" stop-color="#3ec381"/><stop offset="0.786" stop-color="#52c346"/><stop offset="0.825" stop-color="#90d033"/><stop offset="0.877" stop-color="#b0d629"/><stop offset="0.916" stop-color="#a2d32d"/><stop offset="0.929" stop-color="#8dcf34"/><stop offset="0.942" stop-color="#4dc352"/><stop offset="0.955" stop-color="#29babe"/><stop offset="0.968" stop-color="#1b87da"/><stop offset="0.981" stop-color="#214fc7"/><stop offset="0.994" stop-color="#2931a7"/></linearGradient><linearGradient id="hd30"><stop offset="0.006" stop-color="#2a2d9f"/><stop offset="0.019" stop-color="#2347bf"/><stop offset="0.032" stop-color="#1c75d7"/><stop offset="0.045" stop-color="#21b2cf"/><stop offset="0.058" stop-color="#48c360"/><stop offset="0.071" stop-color="#aed62a"/><stop offset="0.084" stop-color="#ebd127"/><stop offset="0.097" stop-color="#edb523"/><stop offset="0.123" stop-color="#ecc225"/><stop offset="0.136" stop-color="#ebd628"/><stop offset="0.188" stop-color="#96d131"/><stop offset="0.240" stop-color="#56c444"/><stop offset="0.344" stop-color="#2ebfb2"/><stop offset="0.422" stop-color="#1eafd7"/><stop offset="0.448" stop-color="#1aa2df"/><stop offset="0.513" stop-color="#1b8adb"/><stop offset="0.578" stop-color="#1a96dd"/><stop offset="0.617" stop-color="#1aabde"/><stop offset="0.656" stop-color="#26b7c5"/><stop offset="0.708" stop-color="#31c2ad"/><stop offset="0.760" stop-color="#4cc353"/><stop offset="0.786" stop-color="#71ca3c"/><stop offset="0.825" stop-color="#a5d42d"/><stop offset="0.864" stop-color="#bcd728"/><stop offset="0.903" stop-color="#b5d728"/><stop offset="0.916" stop-color="#a8d52c"/><stop offset="0.929" stop-color="#7dcc38"/><stop offset="0.942" stop-color="#41c379"/><stop offset="0.955" stop-color="#20b1d2"/><stop offset="0.968" stop-color="#1c75d7"/><stop offset="0.981" stop-color="#2347bf"/><stop offset="0.994" stop-color="#2a2d9f"/></linearGradient><linearGradient id="hd31"><stop offset="0.006" stop-color="#2c2996"/><stop offset="0.019" stop-color="#263db5"/><stop offset="0.032" stop-color="#1e60d3"/><stop offset="0.045" stop-color="#1aa0df"/><stop offset="0.058" stop-color="#35c3a2"/><stop offset="0.071" stop-color="#73ca3c"/><stop offset="0.084" stop-color="#cad728"/><stop offset="0.097" stop-color="#eccc27"/><stop offset="0.110" stop-color="#ecc826"/><stop offset="0.136" stop-color="#e1d728"/><stop offset="0.188" stop-color="#90d033"/><stop offset="0.227" stop-color="#63c740"/><stop offset="0.279" stop-color="#4cc353"/><stop offset="0.383" stop-color="#30c1af"/><stop offset="0.474" stop-color="#26b7c5"/><stop offset="0.578" stop-color="#26b7c5"/><stop offset="0.656" stop-color="#2ebfb2"/><stop offset="0.708" stop-color="#3fc380"/><stop offset="0.747" stop-color="#51c346"/><stop offset="0.825" stop-color="#b6d728"/><stop offset="0.864" stop-color="#c8d728"/><stop offset="0.903" stop-color="#bbd728"/><stop offset="0.916" stop-color="#a3d42d"/><stop offset="0.929" stop-color="#5cc542"/><stop offset="0.942" stop-color="#32c3ab"/><stop offset="0.955" stop-color="#1a9fdf"/><stop offset="0.968" stop-color="#1e60d3"/><stop offset="0.981" stop-color="#263db5"/><stop offset="0.994" stop-color="#2c2996"/></linearGradient><linearGradient id="hd32"><stop offset="0.006" stop-color="#2e258e"/><stop offset="0.019" stop-color="#2932a9"/><stop offset="0.032" stop-color="#214fc7"/><stop offset="0.045" stop-color="#1c80d9"/><stop offset="0.058" stop-color="#23b4cb"/><stop offset="0.071" stop-color="#44c36e"/><stop offset="0.084" stop-color="#8ecf33"/><stop offset="0.097" stop-color="#cfd728"/><stop offset="0.110" stop-color="#e7d728"/><stop offset="0.149" stop-color="#c6d728"/><stop offset="0.214" stop-color="#6bc83e"/><stop offset="0.279" stop-color="#50c346"/><stop offset="0.383" stop-color="#3ec381"/><stop offset="0.461" stop-color="#30c1ad"/><stop offset="0.565" stop-color="#2fc0b2"/><stop offset="0.630" stop-color="#37c398"/><stop offset="0.734" stop-color="#58c544"/><stop offset="0.825" stop-color="#bdd728"/><stop offset="0.864" stop-color="#ced728"/><stop offset="0.890" stop-color="#c6d728"/><stop offset="0.903" stop-color="#b9d728"/><stop offset="0.916" stop-color="#7fcc38"/><stop offset="0.929" stop-color="#42c376"/><stop offset="0.942" stop-color="#22b3cd"/><stop offset="0.955" stop-color="#1c80d9"/><stop offset="0.968" stop-color="#214fc7"/><stop offset="0.981" stop-color="#2932a9"/><stop offset="0.994" stop-color="#2e258e"/></linearGradient><linearGradient id="hd33"><stop offset="0.006" stop-color="#30228b"/><stop offset="0.019" stop-color="#2c2b99"/><stop offset="0.045" stop-color="#1e5ed3"/><stop offset="0.058" stop-color="#1a97dd"/><stop offset="0.071" stop-color="#2bbcb9"/><stop offset="0.084" stop-color="#4ac358"/><stop offset="0.097" stop-color="#90d033"/><stop offset="0.110" stop-color="#c3d728"/><stop offset="0.123" stop-color="#d3d728"/><stop offset="0.162" stop-color="#abd52b"/><stop offset="0.214" stop-color="#68c83f"/><stop offset="0.279" stop-color="#51c346"/><stop offset="0.370" stop-color="#4cc355"/><stop offset="0.500" stop-color="#3fc380"/><stop offset="0.591" stop-color="#42c376"/><stop offset="0.721" stop-color="#59c543"/><stop offset="0.773" stop-color="#7fcc38"/><stop offset="0.825" stop-color="#bcd728"/><stop offset="0.864" stop-color="#ccd728"/><stop offset="0.890" stop-color="#bfd728"/><stop offset="0.903" stop-color="#8ecf33"/><stop offset="0.916" stop-color="#4ac35a"/><stop offset="0.929" stop-color="#2bbcba"/><stop offset="0.942" stop-color="#1a97dd"/><stop offset="0.955" stop-color="#1e5ed3"/><stop offset="0.981" stop-color="#2c2b99"/><stop offset="0.994" stop-color="#30228b"/></linearGradient><linearGradient id="hd34"><stop offset="0.006" stop-color="#33218a"/><stop offset="0.019" stop-color="#2e248c"/><stop offset="0.045" stop-color="#2346be"/><stop offset="0.058" stop-color="#1d6ad5"/><stop offset="0.071" stop-color="#1aa0df"/><stop offset="0.084" stop-color="#2cbdb6"/><stop offset="0.097" stop-color="#48c362"/><stop offset="0.110" stop-color="#7acb39"/><stop offset="0.123" stop-color="#a8d52c"/><stop offset="0.136" stop-color="#b9d728"/><stop offset="0.162" stop-color="#a0d32e"/><stop offset="0.214" stop-color="#65c740"/><stop offset="0.279" stop-color="#51c346"/><stop offset="0.578" stop-color="#4dc351"/><stop offset="0.721" stop-color="#59c543"/><stop offset="0.773" stop-color="#7acb39"/><stop offset="0.838" stop-color="#bbd728"/><stop offset="0.864" stop-color="#c0d728"/><stop offset="0.877" stop-color="#b5d728"/><stop offset="0.890" stop-color="#84cd36"/><stop offset="0.903" stop-color="#49c35c"/><stop offset="0.916" stop-color="#2dbeb5"/><stop offset="0.929" stop-color="#1aa0df"/><stop offset="0.942" stop-color="#1d6ad5"/><stop offset="0.955" stop-color="#2346be"/><stop offset="0.981" stop-color="#2e248c"/><stop offset="0.994" stop-color="#33218a"/></linearGradient><linearGradient id="hd35"><stop offset="0.006" stop-color="#342089"/><stop offset="0.032" stop-color="#2d268f"/><stop offset="0.058" stop-color="#2349c1"/><stop offset="0.071" stop-color="#1d6ad5"/><stop offset="0.084" stop-color="#1a9bde"/><stop offset="0.097" stop-color="#27b8c2"/><stop offset="0.123" stop-color="#52c345"/><stop offset="0.136" stop-color="#79cb3a"/><stop offset="0.149" stop-color="#8fd033"/><stop offset="0.162" stop-color="#92d032"/><stop offset="0.227" stop-color="#5cc542"/><stop offset="0.344" stop-color="#50c346"/><stop offset="0.721" stop-color="#57c444"/><stop offset="0.786" stop-color="#7dcc39"/><stop offset="0.838" stop-color="#a7d42c"/><stop offset="0.851" stop-color="#a6d42c"/><stop offset="0.864" stop-color="#8dcf34"/><stop offset="0.877" stop-color="#60c641"/><stop offset="0.903" stop-color="#28b9c0"/><stop offset="0.916" stop-color="#1a9bde"/><stop offset="0.929" stop-color="#1d6ad5"/><stop offset="0.955" stop-color="#2931a7"/><stop offset="0.968" stop-color="#2d268f"/><stop offset="0.994" stop-color="#342089"/></linearGradient><linearGradient id="hd36"><stop offset="0.006" stop-color="#351f88"/><stop offset="0.045" stop-color="#2d258f"/><stop offset="0.071" stop-color="#2444bc"/><stop offset="0.084" stop-color="#1e5dd3"/><stop offset="0.110" stop-color="#1cadda"/><stop offset="0.136" stop-color="#3cc388"/><stop offset="0.149" stop-color="#49c35c"/><stop offset="0.162" stop-color="#57c444"/><stop offset="0.188" stop-color="#6ac83e"/><stop offset="0.279" stop-color="#51c346"/><stop offset="0.721" stop-color="#55c445"/><stop offset="0.812" stop-color="#7fcc38"/><stop offset="0.825" stop-color="#7ecc38"/><stop offset="0.838" stop-color="#6ec93d"/><stop offset="0.851" stop-color="#50c346"/><stop offset="0.877" stop-color="#2ebfb3"/><stop offset="0.890" stop-color="#1daed9"/><stop offset="0.916" stop-color="#1e5dd3"/><stop offset="0.942" stop-color="#2930a4"/><stop offset="0.955" stop-color="#2d258f"/><stop offset="0.994" stop-color="#351f88"/></linearGradient><linearGradient id="hd37"><stop offset="0.006" stop-color="#361f88"/><stop offset="0.058" stop-color="#2f248c"/><stop offset="0.084" stop-color="#2739b1"/><stop offset="0.110" stop-color="#1d68d5"/><stop offset="0.136" stop-color="#1aabdf"/><stop offset="0.175" stop-color="#39c392"/><stop offset="0.214" stop-color="#4bc357"/><stop offset="0.253" stop-color="#51c346"/><stop offset="0.747" stop-color="#56c444"/><stop offset="0.786" stop-color="#55c444"/><stop offset="0.799" stop-color="#4ec34c"/><stop offset="0.825" stop-color="#3fc380"/><stop offset="0.851" stop-color="#28b9c1"/><stop offset="0.864" stop-color="#1bacdd"/><stop offset="0.890" stop-color="#1d68d5"/><stop offset="0.916" stop-color="#2739b1"/><stop offset="0.942" stop-color="#2f248c"/><stop offset="0.994" stop-color="#361f88"/></linearGradient><linearGradient id="hd38"><stop offset="0.006" stop-color="#361f88"/><stop offset="0.084" stop-color="#2e258e"/><stop offset="0.123" stop-color="#2249c1"/><stop offset="0.149" stop-color="#1c77d7"/><stop offset="0.175" stop-color="#19a8e1"/><stop offset="0.240" stop-color="#37c399"/><stop offset="0.305" stop-color="#49c35d"/><stop offset="0.383" stop-color="#4fc34a"/><stop offset="0.682" stop-color="#4dc34f"/><stop offset="0.734" stop-color="#45c36c"/><stop offset="0.799" stop-color="#29babd"/><stop offset="0.825" stop-color="#19aae1"/><stop offset="0.864" stop-color="#1e5bd2"/><stop offset="0.903" stop-color="#2b2d9d"/><stop offset="0.929" stop-color="#31228a"/><stop offset="0.994" stop-color="#361f88"/></linearGradient><linearGradient id="hd39"><stop offset="0.006" stop-color="#361f88"/><stop offset="0.110" stop-color="#2f248c"/><stop offset="0.162" stop-color="#2347bf"/><stop offset="0.201" stop-color="#1c75d7"/><stop offset="0.253" stop-color="#1aabe0"/><stop offset="0.357" stop-color="#30c1af"/><stop offset="0.500" stop-color="#38c396"/><stop offset="0.617" stop-color="#35c3a1"/><stop offset="0.734" stop-color="#1fb0d3"/><stop offset="0.760" stop-color="#19a3e0"/><stop offset="0.825" stop-color="#2053cb"/><stop offset="0.877" stop-color="#2c2995"/><stop offset="0.916" stop-color="#332089"/><stop offset="0.994" stop-color="#361f88"/></linearGradient><linearGradient id="hd40"><stop offset="0.006" stop-color="#361f88"/><stop offset="0.162" stop-color="#2e258f"/><stop offset="0.266" stop-color="#1f54cc"/><stop offset="0.370" stop-color="#1c7ad8"/><stop offset="0.617" stop-color="#1c7cd8"/><stop offset="0.721" stop-color="#1e59d1"/><stop offset="0.825" stop-color="#2c2997"/><stop offset="0.877" stop-color="#332189"/><stop offset="0.994" stop-color="#361f88"/></linearGradient><linearGradient id="hd41"><stop offset="0.006" stop-color="#361f88"/><stop offset="0.266" stop-color="#2d2792"/><stop offset="0.435" stop-color="#2932a7"/><stop offset="0.682" stop-color="#2b2d9e"/><stop offset="0.812" stop-color="#33218a"/><stop offset="0.994" stop-color="#361f88"/></linearGradient></defs><g transform="translate(105,277)" filter="url(#bl)" shape-rendering="crispEdges"><rect y="0" width="77" height="1" fill="url(#hd0)"/><rect y="1" width="77" height="1" fill="url(#hd1)"/><rect y="2" width="77" height="1" fill="url(#hd2)"/><rect y="3" width="77" height="1" fill="url(#hd3)"/><rect y="4" width="77" height="1" fill="url(#hd4)"/><rect y="5" width="77" height="1" fill="url(#hd5)"/><rect y="6" width="77" height="1" fill="url(#hd6)"/><rect y="7" width="77" height="1" fill="url(#hd7)"/><rect y="8" width="77" height="1" fill="url(#hd8)"/><rect y="9" width="77" height="1" fill="url(#hd9)"/><rect y="10" width="77" height="1" fill="url(#hd10)"/><rect y="11" width="77" height="1" fill="url(#hd11)"/><rect y="12" width="77" height="1" fill="url(#hd12)"/><rect y="13" width="77" height="1" fill="url(#hd13)"/><rect y="14" width="77" height="1" fill="url(#hd14)"/><rect y="15" width="77" height="1" fill="url(#hd15)"/><rect y="16" width="77" height="1" fill="url(#hd16)"/><rect y="17" width="77" height="1" fill="url(#hd17)"/><rect y="18" width="77" height="1" fill="url(#hd18)"/><rect y="19" width="77" height="1" fill="url(#hd19)"/><rect y="20" width="77" height="1" fill="url(#hd20)"/><rect y="21" width="77" height="1" fill="url(#hd21)"/><rect y="22" width="77" height="1" fill="url(#hd22)"/><rect y="23" width="77" height="1" fill="url(#hd23)"/><rect y="24" width="77" height="1" fill="url(#hd24)"/><rect y="25" width="77" height="1" fill="url(#hd25)"/><rect y="26" width="77" height="1" fill="url(#hd26)"/><rect y="27" width="77" height="1" fill="url(#hd27)"/><rect y="28" width="77" height="1" fill="url(#hd28)"/><rect y="29" width="77" height="1" fill="url(#hd29)"/><rect y="30" width="77" height="1" fill="url(#hd30)"/><rect y="31" width="77" height="1" fill="url(#hd31)"/><rect y="32" width="77" height="1" fill="url(#hd32)"/><rect y="33" width="77" height="1" fill="url(#hd33)"/><rect y="34" width="77" height="1" fill="url(#hd34)"/><rect y="35" width="77" height="1" fill="url(#hd35)"/><rect y="36" width="77" height="1" fill="url(#hd36)"/><rect y="37" width="77" height="1" fill="url(#hd37)"/><rect y="38" width="77" height="1" fill="url(#hd38)"/><rect y="39" width="77" height="1" fill="url(#hd39)"/><rect y="40" width="77" height="1" fill="url(#hd40)"/><rect y="41" width="77" height="1" fill="url(#hd41)"/></g>
<defs><linearGradient id="cb" x1="0" y1="1" x2="0" y2="0"><stop offset="0.00" stop-color="rgb(58, 28, 134)"/><stop offset="0.06" stop-color="rgb(46, 36, 140)"/><stop offset="0.12" stop-color="rgb(40, 52, 172)"/><stop offset="0.22" stop-color="rgb(30, 90, 210)"/><stop offset="0.35" stop-color="rgb(25, 170, 225)"/><stop offset="0.45" stop-color="rgb(50, 195, 170)"/><stop offset="0.55" stop-color="rgb(80, 195, 70)"/><stop offset="0.68" stop-color="rgb(180, 215, 40)"/><stop offset="0.78" stop-color="rgb(235, 215, 40)"/><stop offset="0.88" stop-color="rgb(240, 140, 30)"/><stop offset="1.00" stop-color="rgb(215, 55, 35)"/></linearGradient></defs>
<rect x="185.90" y="276.90" width="4.50" height="41.80" fill="url(#cb)"/>
<text x="192.8" y="282.5" font-size="8.3" text-anchor="start" font-weight="normal" fill="#222" color="#222">Max</text>
<text x="192.8" y="318.6" font-size="8.3" text-anchor="start" font-weight="normal" fill="#222" color="#222">Min</text>
<line x1="259.5" y1="207.5" x2="259.5" y2="323.4" stroke="#333" stroke-width="1.2"/>
<line x1="256.2" y1="322.5" x2="350.1" y2="322.5" stroke="#333" stroke-width="1.2"/>
<line x1="256.5" y1="322.5" x2="259.2" y2="322.5" stroke="#333" stroke-width="1"/>
<text x="252.2" y="325.8" font-size="8.3" text-anchor="end" font-weight="normal" fill="#222" color="#222">0</text>
<line x1="256.5" y1="285.5" x2="259.2" y2="285.5" stroke="#333" stroke-width="1"/>
<text x="252.2" y="288.5" font-size="8.3" text-anchor="end" font-weight="normal" fill="#222" color="#222">0.5</text>
<line x1="256.5" y1="248.5" x2="259.2" y2="248.5" stroke="#333" stroke-width="1"/>
<text x="252.2" y="251.20000000000002" font-size="8.3" text-anchor="end" font-weight="normal" fill="#222" color="#222">1.0</text>
<line x1="256.5" y1="210.5" x2="259.2" y2="210.5" stroke="#333" stroke-width="1"/>
<text x="252.2" y="213.90000000000003" font-size="8.3" text-anchor="end" font-weight="normal" fill="#222" color="#222">1.5</text>
<line x1="272.5" y1="322.9" x2="272.5" y2="326.2" stroke="#333" stroke-width="1"/>
<text x="272.4" y="337.2" font-size="8.2" text-anchor="middle" font-weight="normal" fill="#222" color="#222">HDs</text>
<line x1="294.5" y1="322.9" x2="294.5" y2="326.2" stroke="#333" stroke-width="1"/>
<text x="294.6" y="337.2" font-size="8.2" text-anchor="middle" font-weight="normal" fill="#222" color="#222">A</text>
<line x1="316.5" y1="322.9" x2="316.5" y2="326.2" stroke="#333" stroke-width="1"/>
<text x="316.8" y="337.2" font-size="8.2" text-anchor="middle" font-weight="normal" fill="#222" color="#222">D2</text>
<line x1="339.5" y1="322.9" x2="339.5" y2="326.2" stroke="#333" stroke-width="1"/>
<text x="339.1" y="337.2" font-size="8.2" text-anchor="middle" font-weight="normal" fill="#222" color="#222">E</text>
<line x1="272.5" y1="241.6" x2="272.5" y2="246.9" stroke="#333" stroke-width="1"/>
<line x1="272.5" y1="250.5" x2="272.5" y2="254.2" stroke="#333" stroke-width="1"/>
<line x1="269.2" y1="241.5" x2="275.59999999999997" y2="241.5" stroke="#333" stroke-width="1"/>
<line x1="269.2" y1="254.5" x2="275.59999999999997" y2="254.5" stroke="#333" stroke-width="1"/>
<rect x="264.10" y="246.90" width="16.60" height="3.60" fill="#8e0c2c"/>
<line x1="264.09999999999997" y1="248.5" x2="280.7" y2="248.5" stroke="#4a0010" stroke-width="1.2"/>
<line x1="294.5" y1="267.5" x2="294.5" y2="271.6" stroke="#333" stroke-width="1"/>
<line x1="294.5" y1="278.1" x2="294.5" y2="282.0" stroke="#333" stroke-width="1"/>
<line x1="291.40000000000003" y1="267.5" x2="297.8" y2="267.5" stroke="#333" stroke-width="1"/>
<line x1="291.40000000000003" y1="282.5" x2="297.8" y2="282.5" stroke="#333" stroke-width="1"/>
<rect x="286.45" y="271.60" width="16.30" height="6.50" fill="#b7c98b"/>
<line x1="286.45000000000005" y1="274.5" x2="302.75" y2="274.5" stroke="#2e3e18" stroke-width="1.7"/>
<line x1="316.5" y1="259.6" x2="316.5" y2="273.5" stroke="#333" stroke-width="1"/>
<line x1="316.5" y1="282.1" x2="316.5" y2="288.9" stroke="#333" stroke-width="1"/>
<line x1="313.7" y1="259.5" x2="319.90000000000003" y2="259.5" stroke="#333" stroke-width="1"/>
<line x1="313.7" y1="288.5" x2="319.90000000000003" y2="288.5" stroke="#333" stroke-width="1"/>
<rect x="308.60" y="273.50" width="16.40" height="8.60" fill="#b7c98b"/>
<line x1="308.6" y1="277.1" x2="325.0" y2="277.1" stroke="#2e3e18" stroke-width="1.7"/>
<line x1="339.5" y1="267.5" x2="339.5" y2="275.9" stroke="#333" stroke-width="1"/>
<line x1="339.5" y1="281.0" x2="339.5" y2="286.3" stroke="#333" stroke-width="1"/>
<line x1="336.20000000000005" y1="267.5" x2="342.0" y2="267.5" stroke="#333" stroke-width="1"/>
<line x1="336.20000000000005" y1="286.5" x2="342.0" y2="286.5" stroke="#333" stroke-width="1"/>
<rect x="331.10" y="275.90" width="16.00" height="5.10" fill="#b7c98b"/>
<line x1="331.1" y1="278.5" x2="347.1" y2="278.5" stroke="#2e3e18" stroke-width="1.7"/>
<polyline points="272.5,239.2 272.5,228.5 316.5,228.5 316.5,252.5" fill="none" stroke="#333" stroke-width="1"/>
<polyline points="283.5,265 283.5,252.5 350.5,252.5 350.5,267.3" fill="none" stroke="#333" stroke-width="1"/>
<circle cx="289.4" cy="224.4" r="1.2" fill="#333"/>
<circle cx="293.1" cy="224.4" r="1.2" fill="#333"/>
<circle cx="296.8" cy="224.4" r="1.2" fill="#333"/>
<circle cx="300.5" cy="224.4" r="1.2" fill="#333"/>
<text transform="translate(234.0,265.4) rotate(-90)" x="0" y="0" font-size="10" text-anchor="middle" fill="#222" color="#222" textLength="57.4" lengthAdjust="spacingAndGlyphs">Front / rear ratio</text>
<text x="378.6" y="199.5" font-size="12" text-anchor="start" font-weight="bold" fill="#111" color="#111" style="stroke-width:0.5px">E</text>
<line x1="421.5" y1="208.4" x2="421.5" y2="323.4" stroke="#333" stroke-width="1.2"/>
<line x1="420.4" y1="322.5" x2="511.9" y2="322.5" stroke="#333" stroke-width="1.2"/>
<line x1="418.5" y1="322.5" x2="421.7" y2="322.5" stroke="#333" stroke-width="1"/>
<text x="414.9" y="325.5" font-size="8.3" text-anchor="end" font-weight="normal" fill="#222" color="#222">0</text>
<line x1="418.5" y1="294.5" x2="421.7" y2="294.5" stroke="#333" stroke-width="1"/>
<text x="414.9" y="297.5" font-size="8.3" text-anchor="end" font-weight="normal" fill="#222" color="#222">10</text>
<line x1="418.5" y1="266.5" x2="421.7" y2="266.5" stroke="#333" stroke-width="1"/>
<text x="414.9" y="269.5" font-size="8.3" text-anchor="end" font-weight="normal" fill="#222" color="#222">20</text>
<line x1="418.5" y1="238.5" x2="421.7" y2="238.5" stroke="#333" stroke-width="1"/>
<text x="414.9" y="241.49999999999997" font-size="8.3" text-anchor="end" font-weight="normal" fill="#222" color="#222">30</text>
<line x1="418.5" y1="210.5" x2="421.7" y2="210.5" stroke="#333" stroke-width="1"/>
<text x="414.9" y="213.49999999999997" font-size="8.3" text-anchor="end" font-weight="normal" fill="#222" color="#222">40</text>
<line x1="435.5" y1="322.8" x2="435.5" y2="325.8" stroke="#333" stroke-width="1"/>
<text x="435.3" y="336.6" font-size="8.2" text-anchor="middle" font-weight="normal" fill="#222" color="#222">HDs</text>
<line x1="457.5" y1="322.8" x2="457.5" y2="325.8" stroke="#333" stroke-width="1"/>
<text x="457.5" y="336.6" font-size="8.2" text-anchor="middle" font-weight="normal" fill="#222" color="#222">HDs</text>
<line x1="479.5" y1="322.8" x2="479.5" y2="325.8" stroke="#333" stroke-width="1"/>
<text x="479.8" y="336.6" font-size="8.2" text-anchor="middle" font-weight="normal" fill="#222" color="#222">G</text>
<line x1="502.5" y1="322.8" x2="502.5" y2="325.8" stroke="#333" stroke-width="1"/>
<text x="502.0" y="336.6" font-size="8.2" text-anchor="middle" font-weight="normal" fill="#222" color="#222">G</text>
<text x="389.4" y="349.9" font-size="8.3" text-anchor="start" font-weight="normal" fill="#222" color="#222" textLength="38.5" lengthAdjust="spacingAndGlyphs">Rac inhib:</text>
<text x="435.3" y="349.9" font-size="8.3" text-anchor="middle" font-weight="normal" fill="#222" color="#222">–</text>
<text x="457.5" y="351.1" font-size="9.2" text-anchor="middle" font-weight="normal" fill="#222" color="#222">+</text>
<text x="479.8" y="349.9" font-size="8.3" text-anchor="middle" font-weight="normal" fill="#222" color="#222">–</text>
<text x="502.0" y="351.1" font-size="9.2" text-anchor="middle" font-weight="normal" fill="#222" color="#222">+</text>
<line x1="435.5" y1="271.3" x2="435.5" y2="282.0" stroke="#333" stroke-width="1"/>
<line x1="435.5" y1="296.6" x2="435.5" y2="304.7" stroke="#333" stroke-width="1"/>
<line x1="432.09999999999997" y1="271.5" x2="438.7" y2="271.5" stroke="#333" stroke-width="1"/>
<line x1="432.09999999999997" y1="304.5" x2="438.7" y2="304.5" stroke="#333" stroke-width="1"/>
<rect x="427.15" y="282.00" width="16.50" height="14.60" fill="#d20f3a"/>
<line x1="427.15" y1="289.0" x2="443.65" y2="289.0" stroke="#2e3e18" stroke-width="1.7"/>
<line x1="457.5" y1="258.5" x2="457.5" y2="271.3" stroke="#333" stroke-width="1"/>
<line x1="457.5" y1="289.5" x2="457.5" y2="298.9" stroke="#333" stroke-width="1"/>
<line x1="454.2" y1="258.5" x2="460.8" y2="258.5" stroke="#333" stroke-width="1"/>
<line x1="454.2" y1="298.5" x2="460.8" y2="298.5" stroke="#333" stroke-width="1"/>
<rect x="449.15" y="271.30" width="16.70" height="18.20" fill="#b7c98b"/>
<line x1="449.15" y1="281.7" x2="465.85" y2="281.7" stroke="#2e3e18" stroke-width="1.7"/>
<line x1="479.5" y1="258.5" x2="479.5" y2="268.0" stroke="#333" stroke-width="1"/>
<line x1="479.5" y1="285.7" x2="479.5" y2="290.9" stroke="#333" stroke-width="1"/>
<line x1="476.5" y1="258.5" x2="483.1" y2="258.5" stroke="#333" stroke-width="1"/>
<line x1="476.5" y1="290.5" x2="483.1" y2="290.5" stroke="#333" stroke-width="1"/>
<rect x="471.25" y="268.00" width="17.10" height="17.70" fill="#b7c98b"/>
<line x1="471.25" y1="276.1" x2="488.35" y2="276.1" stroke="#2e3e18" stroke-width="1.7"/>
<line x1="502.5" y1="258.5" x2="502.5" y2="272.1" stroke="#333" stroke-width="1"/>
<line x1="502.5" y1="287.8" x2="502.5" y2="297.4" stroke="#333" stroke-width="1"/>
<line x1="498.7" y1="258.5" x2="505.3" y2="258.5" stroke="#333" stroke-width="1"/>
<line x1="498.7" y1="297.5" x2="505.3" y2="297.5" stroke="#333" stroke-width="1"/>
<rect x="493.55" y="272.10" width="16.90" height="15.70" fill="#b7c98b"/>
<line x1="493.55" y1="279.4" x2="510.45" y2="279.4" stroke="#2e3e18" stroke-width="1.7"/>
<circle cx="431.7" cy="286.6" r="1.6" fill="#2a0a10"/>
<circle cx="431.7" cy="290.3" r="1.6" fill="#2a0a10"/>
<circle cx="438.5" cy="288.4" r="1.6" fill="#2a0a10"/>
<circle cx="453.8" cy="276.9" r="1.6" fill="#26361a"/>
<circle cx="461.3" cy="275.3" r="1.6" fill="#26361a"/>
<circle cx="457.6" cy="281.1" r="1.6" fill="#26361a"/>
<circle cx="457.6" cy="285.3" r="1.6" fill="#26361a"/>
<polyline points="435.5,264.4 435.5,216.5 481.5,216.5 481.5,247.5" fill="none" stroke="#333" stroke-width="1"/>
<polyline points="445.5,259.5 445.5,247.5 512.5,247.5 512.5,262.3" fill="none" stroke="#333" stroke-width="1"/>
<circle cx="458.5" cy="212.6" r="1.2" fill="#333"/>
<text transform="translate(399.6,265.2) rotate(-90)" x="0" y="0" font-size="9.5" text-anchor="middle" fill="#222" color="#222" textLength="61.5" lengthAdjust="spacingAndGlyphs">Speed (µm/min)</text>
<rect x="0" y="0" width="520" height="1" fill="#3a3a3a"/>
<rect x="0" y="0" width="1.1" height="359" fill="#3a3a3a"/>
<rect x="518.9" y="0" width="1.1" height="359" fill="#3a3a3a"/>
<rect x="0" y="357.3" width="520" height="1.7" fill="#3a3a3a"/>
</svg></body></html>
